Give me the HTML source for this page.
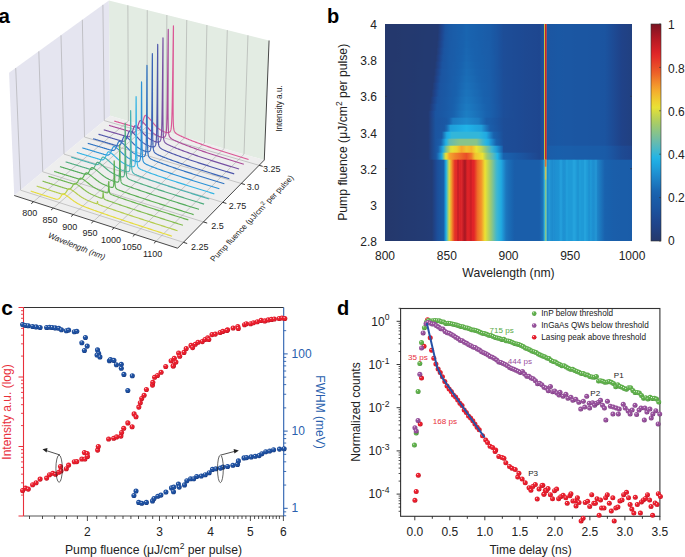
<!DOCTYPE html><html><head><meta charset="utf-8"><style>html,body{margin:0;padding:0;background:#fff;overflow:hidden;}svg{display:block}</style></head><body>
<svg width="685" height="557" viewBox="0 0 685 557"><defs><linearGradient id="g0" x1="0" x2="1" y1="0" y2="0"><stop offset="0.0000" stop-color="#24386c"/><stop offset="0.0227" stop-color="#24386d"/><stop offset="0.0455" stop-color="#24386d"/><stop offset="0.0682" stop-color="#24396e"/><stop offset="0.0909" stop-color="#24396f"/><stop offset="0.1136" stop-color="#24396f"/><stop offset="0.1364" stop-color="#233970"/><stop offset="0.1500" stop-color="#233a70"/><stop offset="0.1591" stop-color="#233a70"/><stop offset="0.1600" stop-color="#233a70"/><stop offset="0.1700" stop-color="#233a71"/><stop offset="0.1800" stop-color="#233a71"/><stop offset="0.1818" stop-color="#233a71"/><stop offset="0.1900" stop-color="#233a71"/><stop offset="0.2000" stop-color="#233a72"/><stop offset="0.2045" stop-color="#233a72"/><stop offset="0.2100" stop-color="#233a72"/><stop offset="0.2150" stop-color="#233a72"/><stop offset="0.2200" stop-color="#223e7b"/><stop offset="0.2273" stop-color="#204388"/><stop offset="0.2300" stop-color="#1f458d"/><stop offset="0.2400" stop-color="#1c4f9a"/><stop offset="0.2450" stop-color="#1b54a0"/><stop offset="0.2500" stop-color="#1b56a2"/><stop offset="0.2600" stop-color="#1a5aa6"/><stop offset="0.2700" stop-color="#1a5ba7"/><stop offset="0.2727" stop-color="#1a5ca8"/><stop offset="0.2800" stop-color="#1a5da9"/><stop offset="0.2900" stop-color="#1a5eaa"/><stop offset="0.2955" stop-color="#195fab"/><stop offset="0.3000" stop-color="#195fab"/><stop offset="0.3100" stop-color="#1960ac"/><stop offset="0.3182" stop-color="#1961ad"/><stop offset="0.3200" stop-color="#1962ae"/><stop offset="0.3300" stop-color="#1964b0"/><stop offset="0.3400" stop-color="#1963af"/><stop offset="0.3409" stop-color="#1962ae"/><stop offset="0.3500" stop-color="#1962ae"/><stop offset="0.3600" stop-color="#1961ad"/><stop offset="0.3636" stop-color="#1961ad"/><stop offset="0.3700" stop-color="#1960ac"/><stop offset="0.3800" stop-color="#195fab"/><stop offset="0.3864" stop-color="#195fab"/><stop offset="0.3900" stop-color="#195fab"/><stop offset="0.4000" stop-color="#1a5eaa"/><stop offset="0.4091" stop-color="#1a5da9"/><stop offset="0.4100" stop-color="#1a5da9"/><stop offset="0.4200" stop-color="#1a5ca8"/><stop offset="0.4250" stop-color="#1a5ca8"/><stop offset="0.4300" stop-color="#1a5ba7"/><stop offset="0.4318" stop-color="#1a5aa6"/><stop offset="0.4400" stop-color="#1a58a4"/><stop offset="0.4500" stop-color="#1b56a2"/><stop offset="0.4545" stop-color="#1b54a0"/><stop offset="0.4600" stop-color="#1b539f"/><stop offset="0.4700" stop-color="#1c509b"/><stop offset="0.4773" stop-color="#1d4e98"/><stop offset="0.4800" stop-color="#1d4d97"/><stop offset="0.4900" stop-color="#1d4d97"/><stop offset="0.5000" stop-color="#1d4c96"/><stop offset="0.5100" stop-color="#1d4c96"/><stop offset="0.5200" stop-color="#1d4b95"/><stop offset="0.5227" stop-color="#1d4b95"/><stop offset="0.5300" stop-color="#1d4b94"/><stop offset="0.5400" stop-color="#1d4a94"/><stop offset="0.5455" stop-color="#1d4a94"/><stop offset="0.5682" stop-color="#1e4992"/><stop offset="0.5909" stop-color="#1e4891"/><stop offset="0.6136" stop-color="#1e4790"/><stop offset="0.6250" stop-color="#1e468f"/><stop offset="0.6364" stop-color="#1d4e98"/><stop offset="0.6430" stop-color="#1c529d"/><stop offset="0.6465" stop-color="#ece232"/><stop offset="0.6495" stop-color="#c91e26"/><stop offset="0.6525" stop-color="#ea4e28"/><stop offset="0.6565" stop-color="#1b56a2"/><stop offset="0.6591" stop-color="#1b56a2"/><stop offset="0.6818" stop-color="#1b57a3"/><stop offset="0.7000" stop-color="#1a58a4"/><stop offset="0.7045" stop-color="#1a58a4"/><stop offset="0.7273" stop-color="#1b57a3"/><stop offset="0.7500" stop-color="#1b57a3"/><stop offset="0.7727" stop-color="#1b56a2"/><stop offset="0.7955" stop-color="#1b56a2"/><stop offset="0.8182" stop-color="#1b56a2"/><stop offset="0.8409" stop-color="#1b55a1"/><stop offset="0.8636" stop-color="#1b55a1"/><stop offset="0.8864" stop-color="#1b54a0"/><stop offset="0.8900" stop-color="#1b54a0"/><stop offset="0.9091" stop-color="#1c4f9a"/><stop offset="0.9318" stop-color="#1e4992"/><stop offset="0.9545" stop-color="#1f438a"/><stop offset="0.9600" stop-color="#204288"/><stop offset="0.9773" stop-color="#204185"/><stop offset="1.0000" stop-color="#214080"/></linearGradient><linearGradient id="g1" x1="0" x2="1" y1="0" y2="0"><stop offset="0.0000" stop-color="#24386c"/><stop offset="0.0227" stop-color="#24386d"/><stop offset="0.0455" stop-color="#24386d"/><stop offset="0.0682" stop-color="#24396e"/><stop offset="0.0909" stop-color="#24396f"/><stop offset="0.1136" stop-color="#24396f"/><stop offset="0.1364" stop-color="#233970"/><stop offset="0.1500" stop-color="#233a70"/><stop offset="0.1591" stop-color="#233a70"/><stop offset="0.1600" stop-color="#233a70"/><stop offset="0.1700" stop-color="#233a71"/><stop offset="0.1800" stop-color="#233a71"/><stop offset="0.1818" stop-color="#233a71"/><stop offset="0.1900" stop-color="#233a71"/><stop offset="0.2000" stop-color="#233a72"/><stop offset="0.2045" stop-color="#233a72"/><stop offset="0.2100" stop-color="#233a72"/><stop offset="0.2141" stop-color="#233a72"/><stop offset="0.2200" stop-color="#213e7d"/><stop offset="0.2273" stop-color="#1f438a"/><stop offset="0.2300" stop-color="#1f458e"/><stop offset="0.2400" stop-color="#1c509b"/><stop offset="0.2441" stop-color="#1b54a0"/><stop offset="0.2500" stop-color="#1b56a2"/><stop offset="0.2600" stop-color="#1a5aa6"/><stop offset="0.2700" stop-color="#1a5ba7"/><stop offset="0.2727" stop-color="#1a5ca8"/><stop offset="0.2800" stop-color="#1a5da9"/><stop offset="0.2900" stop-color="#1a5eaa"/><stop offset="0.2955" stop-color="#195fab"/><stop offset="0.3000" stop-color="#195fab"/><stop offset="0.3100" stop-color="#1960ac"/><stop offset="0.3182" stop-color="#1962ae"/><stop offset="0.3200" stop-color="#1962ae"/><stop offset="0.3300" stop-color="#1965b0"/><stop offset="0.3400" stop-color="#1963af"/><stop offset="0.3409" stop-color="#1963ae"/><stop offset="0.3500" stop-color="#1962ae"/><stop offset="0.3600" stop-color="#1961ad"/><stop offset="0.3636" stop-color="#1961ad"/><stop offset="0.3700" stop-color="#1960ac"/><stop offset="0.3800" stop-color="#195fab"/><stop offset="0.3864" stop-color="#195fab"/><stop offset="0.3900" stop-color="#195fab"/><stop offset="0.4000" stop-color="#1a5eaa"/><stop offset="0.4091" stop-color="#1a5da9"/><stop offset="0.4100" stop-color="#1a5da9"/><stop offset="0.4200" stop-color="#1a5ca8"/><stop offset="0.4250" stop-color="#1a5ca8"/><stop offset="0.4300" stop-color="#1a5ba7"/><stop offset="0.4318" stop-color="#1a5aa6"/><stop offset="0.4400" stop-color="#1a58a4"/><stop offset="0.4500" stop-color="#1b56a2"/><stop offset="0.4545" stop-color="#1b54a0"/><stop offset="0.4600" stop-color="#1b539f"/><stop offset="0.4700" stop-color="#1c509b"/><stop offset="0.4773" stop-color="#1d4e98"/><stop offset="0.4800" stop-color="#1d4d97"/><stop offset="0.4900" stop-color="#1d4d97"/><stop offset="0.5000" stop-color="#1d4c96"/><stop offset="0.5100" stop-color="#1d4c96"/><stop offset="0.5200" stop-color="#1d4b95"/><stop offset="0.5227" stop-color="#1d4b95"/><stop offset="0.5300" stop-color="#1d4b94"/><stop offset="0.5400" stop-color="#1d4a94"/><stop offset="0.5455" stop-color="#1d4a94"/><stop offset="0.5682" stop-color="#1e4992"/><stop offset="0.5909" stop-color="#1e4891"/><stop offset="0.6136" stop-color="#1e4790"/><stop offset="0.6250" stop-color="#1e468f"/><stop offset="0.6364" stop-color="#1d4e98"/><stop offset="0.6430" stop-color="#1c529d"/><stop offset="0.6465" stop-color="#ece232"/><stop offset="0.6495" stop-color="#c91e26"/><stop offset="0.6525" stop-color="#e94e28"/><stop offset="0.6565" stop-color="#1b56a2"/><stop offset="0.6591" stop-color="#1b56a2"/><stop offset="0.6818" stop-color="#1b57a3"/><stop offset="0.7000" stop-color="#1a58a4"/><stop offset="0.7045" stop-color="#1a58a4"/><stop offset="0.7273" stop-color="#1b57a3"/><stop offset="0.7500" stop-color="#1b57a3"/><stop offset="0.7727" stop-color="#1b56a2"/><stop offset="0.7955" stop-color="#1b56a2"/><stop offset="0.8182" stop-color="#1b56a2"/><stop offset="0.8409" stop-color="#1b55a1"/><stop offset="0.8636" stop-color="#1b55a1"/><stop offset="0.8864" stop-color="#1b54a0"/><stop offset="0.8900" stop-color="#1b54a0"/><stop offset="0.9091" stop-color="#1c4f9a"/><stop offset="0.9318" stop-color="#1e4992"/><stop offset="0.9545" stop-color="#1f438a"/><stop offset="0.9600" stop-color="#204288"/><stop offset="0.9773" stop-color="#204185"/><stop offset="1.0000" stop-color="#214080"/></linearGradient><linearGradient id="g2" x1="0" x2="1" y1="0" y2="0"><stop offset="0.0000" stop-color="#24386c"/><stop offset="0.0227" stop-color="#24386d"/><stop offset="0.0455" stop-color="#24386d"/><stop offset="0.0682" stop-color="#24396e"/><stop offset="0.0909" stop-color="#24396f"/><stop offset="0.1136" stop-color="#23396f"/><stop offset="0.1364" stop-color="#233970"/><stop offset="0.1500" stop-color="#233a70"/><stop offset="0.1591" stop-color="#233a70"/><stop offset="0.1600" stop-color="#233a71"/><stop offset="0.1700" stop-color="#233a71"/><stop offset="0.1800" stop-color="#233a71"/><stop offset="0.1818" stop-color="#233a71"/><stop offset="0.1900" stop-color="#233a71"/><stop offset="0.2000" stop-color="#233a72"/><stop offset="0.2045" stop-color="#233a72"/><stop offset="0.2100" stop-color="#233a72"/><stop offset="0.2126" stop-color="#233a72"/><stop offset="0.2200" stop-color="#213f7f"/><stop offset="0.2273" stop-color="#1f448c"/><stop offset="0.2300" stop-color="#1e4790"/><stop offset="0.2400" stop-color="#1c519d"/><stop offset="0.2426" stop-color="#1b54a0"/><stop offset="0.2500" stop-color="#1b57a3"/><stop offset="0.2600" stop-color="#1a5aa6"/><stop offset="0.2700" stop-color="#1a5ba7"/><stop offset="0.2727" stop-color="#1a5ca8"/><stop offset="0.2800" stop-color="#1a5da9"/><stop offset="0.2900" stop-color="#1a5eaa"/><stop offset="0.2955" stop-color="#195fab"/><stop offset="0.3000" stop-color="#195fab"/><stop offset="0.3100" stop-color="#1961ad"/><stop offset="0.3182" stop-color="#1962ae"/><stop offset="0.3200" stop-color="#1962ae"/><stop offset="0.3300" stop-color="#1965b0"/><stop offset="0.3400" stop-color="#1963af"/><stop offset="0.3409" stop-color="#1963af"/><stop offset="0.3500" stop-color="#1962ae"/><stop offset="0.3600" stop-color="#1961ad"/><stop offset="0.3636" stop-color="#1961ad"/><stop offset="0.3700" stop-color="#1960ac"/><stop offset="0.3800" stop-color="#195fab"/><stop offset="0.3864" stop-color="#195fab"/><stop offset="0.3900" stop-color="#195fab"/><stop offset="0.4000" stop-color="#1a5eaa"/><stop offset="0.4091" stop-color="#1a5da9"/><stop offset="0.4100" stop-color="#1a5da9"/><stop offset="0.4200" stop-color="#1a5ca8"/><stop offset="0.4250" stop-color="#1a5ca8"/><stop offset="0.4300" stop-color="#1a5ba7"/><stop offset="0.4318" stop-color="#1a5aa6"/><stop offset="0.4400" stop-color="#1a58a4"/><stop offset="0.4500" stop-color="#1b56a2"/><stop offset="0.4545" stop-color="#1b55a1"/><stop offset="0.4600" stop-color="#1b539f"/><stop offset="0.4700" stop-color="#1c509b"/><stop offset="0.4773" stop-color="#1d4e98"/><stop offset="0.4800" stop-color="#1d4d97"/><stop offset="0.4900" stop-color="#1d4d97"/><stop offset="0.5000" stop-color="#1d4c96"/><stop offset="0.5100" stop-color="#1d4c96"/><stop offset="0.5200" stop-color="#1d4b95"/><stop offset="0.5227" stop-color="#1d4b95"/><stop offset="0.5300" stop-color="#1d4b94"/><stop offset="0.5400" stop-color="#1d4a94"/><stop offset="0.5455" stop-color="#1d4a94"/><stop offset="0.5682" stop-color="#1e4992"/><stop offset="0.5909" stop-color="#1e4891"/><stop offset="0.6136" stop-color="#1e4790"/><stop offset="0.6250" stop-color="#1e468f"/><stop offset="0.6364" stop-color="#1d4e98"/><stop offset="0.6430" stop-color="#1c529d"/><stop offset="0.6465" stop-color="#ece232"/><stop offset="0.6495" stop-color="#c91e26"/><stop offset="0.6525" stop-color="#e94e28"/><stop offset="0.6565" stop-color="#1b56a2"/><stop offset="0.6591" stop-color="#1b56a2"/><stop offset="0.6818" stop-color="#1b57a3"/><stop offset="0.7000" stop-color="#1a58a4"/><stop offset="0.7045" stop-color="#1a58a4"/><stop offset="0.7273" stop-color="#1b57a3"/><stop offset="0.7500" stop-color="#1b57a3"/><stop offset="0.7727" stop-color="#1b56a2"/><stop offset="0.7955" stop-color="#1b56a2"/><stop offset="0.8182" stop-color="#1b56a2"/><stop offset="0.8409" stop-color="#1b55a1"/><stop offset="0.8636" stop-color="#1b55a1"/><stop offset="0.8864" stop-color="#1b54a0"/><stop offset="0.8900" stop-color="#1b54a0"/><stop offset="0.9091" stop-color="#1c4f9a"/><stop offset="0.9318" stop-color="#1e4992"/><stop offset="0.9545" stop-color="#1f438a"/><stop offset="0.9600" stop-color="#204288"/><stop offset="0.9773" stop-color="#204185"/><stop offset="1.0000" stop-color="#214080"/></linearGradient><linearGradient id="g3" x1="0" x2="1" y1="0" y2="0"><stop offset="0.0000" stop-color="#24386c"/><stop offset="0.0227" stop-color="#24386d"/><stop offset="0.0455" stop-color="#24386d"/><stop offset="0.0682" stop-color="#24396e"/><stop offset="0.0909" stop-color="#24396f"/><stop offset="0.1136" stop-color="#23396f"/><stop offset="0.1364" stop-color="#233970"/><stop offset="0.1500" stop-color="#233a70"/><stop offset="0.1591" stop-color="#233a71"/><stop offset="0.1600" stop-color="#233a71"/><stop offset="0.1700" stop-color="#233a71"/><stop offset="0.1800" stop-color="#233a71"/><stop offset="0.1818" stop-color="#233a71"/><stop offset="0.1900" stop-color="#233a71"/><stop offset="0.2000" stop-color="#233a72"/><stop offset="0.2045" stop-color="#233a72"/><stop offset="0.2100" stop-color="#233a72"/><stop offset="0.2106" stop-color="#233a72"/><stop offset="0.2200" stop-color="#204183"/><stop offset="0.2273" stop-color="#1e468f"/><stop offset="0.2300" stop-color="#1e4993"/><stop offset="0.2400" stop-color="#1b549f"/><stop offset="0.2406" stop-color="#1b54a0"/><stop offset="0.2500" stop-color="#1b57a3"/><stop offset="0.2600" stop-color="#1a5aa6"/><stop offset="0.2700" stop-color="#1a5ca8"/><stop offset="0.2727" stop-color="#1a5ca8"/><stop offset="0.2800" stop-color="#1a5da9"/><stop offset="0.2900" stop-color="#1a5eaa"/><stop offset="0.2955" stop-color="#195fab"/><stop offset="0.3000" stop-color="#1960ac"/><stop offset="0.3100" stop-color="#1961ad"/><stop offset="0.3182" stop-color="#1962ae"/><stop offset="0.3200" stop-color="#1963ae"/><stop offset="0.3300" stop-color="#1966b1"/><stop offset="0.3400" stop-color="#1964b0"/><stop offset="0.3409" stop-color="#1964af"/><stop offset="0.3500" stop-color="#1962ae"/><stop offset="0.3600" stop-color="#1961ad"/><stop offset="0.3636" stop-color="#1961ad"/><stop offset="0.3700" stop-color="#1961ad"/><stop offset="0.3800" stop-color="#1960ac"/><stop offset="0.3864" stop-color="#195fab"/><stop offset="0.3900" stop-color="#195fab"/><stop offset="0.4000" stop-color="#1a5eaa"/><stop offset="0.4091" stop-color="#1a5da9"/><stop offset="0.4100" stop-color="#1a5da9"/><stop offset="0.4200" stop-color="#1a5da9"/><stop offset="0.4250" stop-color="#1a5ca8"/><stop offset="0.4300" stop-color="#1a5ba7"/><stop offset="0.4318" stop-color="#1a5aa6"/><stop offset="0.4400" stop-color="#1a58a4"/><stop offset="0.4500" stop-color="#1b56a2"/><stop offset="0.4545" stop-color="#1b55a1"/><stop offset="0.4600" stop-color="#1b539f"/><stop offset="0.4700" stop-color="#1c509b"/><stop offset="0.4773" stop-color="#1c4e99"/><stop offset="0.4800" stop-color="#1d4d98"/><stop offset="0.4900" stop-color="#1d4d97"/><stop offset="0.5000" stop-color="#1d4c96"/><stop offset="0.5100" stop-color="#1d4c96"/><stop offset="0.5200" stop-color="#1d4b95"/><stop offset="0.5227" stop-color="#1d4b95"/><stop offset="0.5300" stop-color="#1d4b94"/><stop offset="0.5400" stop-color="#1d4a94"/><stop offset="0.5455" stop-color="#1d4a94"/><stop offset="0.5682" stop-color="#1e4992"/><stop offset="0.5909" stop-color="#1e4891"/><stop offset="0.6136" stop-color="#1e4790"/><stop offset="0.6250" stop-color="#1e468f"/><stop offset="0.6364" stop-color="#1d4e98"/><stop offset="0.6430" stop-color="#1c529d"/><stop offset="0.6465" stop-color="#ece232"/><stop offset="0.6495" stop-color="#c91e26"/><stop offset="0.6525" stop-color="#e94e28"/><stop offset="0.6565" stop-color="#1b56a2"/><stop offset="0.6591" stop-color="#1b56a2"/><stop offset="0.6818" stop-color="#1b57a3"/><stop offset="0.7000" stop-color="#1a58a4"/><stop offset="0.7045" stop-color="#1a58a4"/><stop offset="0.7273" stop-color="#1b57a3"/><stop offset="0.7500" stop-color="#1b57a3"/><stop offset="0.7727" stop-color="#1b56a2"/><stop offset="0.7955" stop-color="#1b56a2"/><stop offset="0.8182" stop-color="#1b56a2"/><stop offset="0.8409" stop-color="#1b55a1"/><stop offset="0.8636" stop-color="#1b55a1"/><stop offset="0.8864" stop-color="#1b54a0"/><stop offset="0.8900" stop-color="#1b54a0"/><stop offset="0.9091" stop-color="#1c4f9a"/><stop offset="0.9318" stop-color="#1e4992"/><stop offset="0.9545" stop-color="#1f438a"/><stop offset="0.9600" stop-color="#204288"/><stop offset="0.9773" stop-color="#204185"/><stop offset="1.0000" stop-color="#214080"/></linearGradient><linearGradient id="g4" x1="0" x2="1" y1="0" y2="0"><stop offset="0.0000" stop-color="#24386c"/><stop offset="0.0227" stop-color="#24386d"/><stop offset="0.0455" stop-color="#24386d"/><stop offset="0.0682" stop-color="#24396e"/><stop offset="0.0909" stop-color="#24396f"/><stop offset="0.1136" stop-color="#23396f"/><stop offset="0.1364" stop-color="#233970"/><stop offset="0.1500" stop-color="#233a70"/><stop offset="0.1591" stop-color="#233a71"/><stop offset="0.1600" stop-color="#233a71"/><stop offset="0.1700" stop-color="#233a71"/><stop offset="0.1800" stop-color="#233a71"/><stop offset="0.1818" stop-color="#233a71"/><stop offset="0.1900" stop-color="#233a72"/><stop offset="0.2000" stop-color="#233a72"/><stop offset="0.2045" stop-color="#233a72"/><stop offset="0.2082" stop-color="#233a72"/><stop offset="0.2100" stop-color="#233c75"/><stop offset="0.2200" stop-color="#204287"/><stop offset="0.2273" stop-color="#1e4992"/><stop offset="0.2300" stop-color="#1d4c96"/><stop offset="0.2382" stop-color="#1b54a0"/><stop offset="0.2400" stop-color="#1b55a1"/><stop offset="0.2500" stop-color="#1a58a4"/><stop offset="0.2600" stop-color="#1a5aa6"/><stop offset="0.2700" stop-color="#1a5ca8"/><stop offset="0.2727" stop-color="#1a5ca8"/><stop offset="0.2800" stop-color="#1a5da9"/><stop offset="0.2900" stop-color="#195fab"/><stop offset="0.2955" stop-color="#195fab"/><stop offset="0.3000" stop-color="#1960ac"/><stop offset="0.3100" stop-color="#1961ad"/><stop offset="0.3182" stop-color="#1963af"/><stop offset="0.3200" stop-color="#1964af"/><stop offset="0.3300" stop-color="#1a67b2"/><stop offset="0.3400" stop-color="#1965b0"/><stop offset="0.3409" stop-color="#1965b0"/><stop offset="0.3500" stop-color="#1963af"/><stop offset="0.3600" stop-color="#1962ae"/><stop offset="0.3636" stop-color="#1961ad"/><stop offset="0.3700" stop-color="#1961ad"/><stop offset="0.3800" stop-color="#1960ac"/><stop offset="0.3864" stop-color="#1960ac"/><stop offset="0.3900" stop-color="#195fab"/><stop offset="0.4000" stop-color="#1a5eaa"/><stop offset="0.4091" stop-color="#1a5eaa"/><stop offset="0.4100" stop-color="#1a5eaa"/><stop offset="0.4200" stop-color="#1a5da9"/><stop offset="0.4250" stop-color="#1a5ca8"/><stop offset="0.4300" stop-color="#1a5ba7"/><stop offset="0.4318" stop-color="#1a5ba7"/><stop offset="0.4400" stop-color="#1a58a4"/><stop offset="0.4500" stop-color="#1b56a2"/><stop offset="0.4545" stop-color="#1b55a1"/><stop offset="0.4600" stop-color="#1b539f"/><stop offset="0.4700" stop-color="#1c509b"/><stop offset="0.4773" stop-color="#1c4e99"/><stop offset="0.4800" stop-color="#1d4d98"/><stop offset="0.4900" stop-color="#1d4d97"/><stop offset="0.5000" stop-color="#1d4c96"/><stop offset="0.5100" stop-color="#1d4c96"/><stop offset="0.5200" stop-color="#1d4b95"/><stop offset="0.5227" stop-color="#1d4b95"/><stop offset="0.5300" stop-color="#1d4b94"/><stop offset="0.5400" stop-color="#1d4a94"/><stop offset="0.5455" stop-color="#1d4a94"/><stop offset="0.5682" stop-color="#1e4992"/><stop offset="0.5909" stop-color="#1e4891"/><stop offset="0.6136" stop-color="#1e4790"/><stop offset="0.6250" stop-color="#1e468f"/><stop offset="0.6364" stop-color="#1d4e98"/><stop offset="0.6430" stop-color="#1c529d"/><stop offset="0.6465" stop-color="#ece232"/><stop offset="0.6495" stop-color="#c91e26"/><stop offset="0.6525" stop-color="#e94e28"/><stop offset="0.6565" stop-color="#1b56a2"/><stop offset="0.6591" stop-color="#1b56a2"/><stop offset="0.6818" stop-color="#1b57a3"/><stop offset="0.7000" stop-color="#1a58a4"/><stop offset="0.7045" stop-color="#1a58a4"/><stop offset="0.7273" stop-color="#1b57a3"/><stop offset="0.7500" stop-color="#1b57a3"/><stop offset="0.7727" stop-color="#1b56a2"/><stop offset="0.7955" stop-color="#1b56a2"/><stop offset="0.8182" stop-color="#1b56a2"/><stop offset="0.8409" stop-color="#1b55a1"/><stop offset="0.8636" stop-color="#1b55a1"/><stop offset="0.8864" stop-color="#1b54a0"/><stop offset="0.8900" stop-color="#1b54a0"/><stop offset="0.9091" stop-color="#1c4f9a"/><stop offset="0.9318" stop-color="#1e4992"/><stop offset="0.9545" stop-color="#1f438a"/><stop offset="0.9600" stop-color="#204288"/><stop offset="0.9773" stop-color="#204185"/><stop offset="1.0000" stop-color="#214080"/></linearGradient><linearGradient id="g5" x1="0" x2="1" y1="0" y2="0"><stop offset="0.0000" stop-color="#24386c"/><stop offset="0.0227" stop-color="#24386d"/><stop offset="0.0455" stop-color="#24386d"/><stop offset="0.0682" stop-color="#24396e"/><stop offset="0.0909" stop-color="#24396f"/><stop offset="0.1136" stop-color="#23396f"/><stop offset="0.1364" stop-color="#233970"/><stop offset="0.1500" stop-color="#233a70"/><stop offset="0.1591" stop-color="#233a71"/><stop offset="0.1600" stop-color="#233a71"/><stop offset="0.1700" stop-color="#233a71"/><stop offset="0.1800" stop-color="#233a71"/><stop offset="0.1818" stop-color="#233a71"/><stop offset="0.1900" stop-color="#233a72"/><stop offset="0.2000" stop-color="#233a72"/><stop offset="0.2045" stop-color="#233a72"/><stop offset="0.2055" stop-color="#233a72"/><stop offset="0.2100" stop-color="#223d7a"/><stop offset="0.2200" stop-color="#1f448c"/><stop offset="0.2273" stop-color="#1d4c96"/><stop offset="0.2300" stop-color="#1c4f99"/><stop offset="0.2355" stop-color="#1b54a0"/><stop offset="0.2400" stop-color="#1b55a1"/><stop offset="0.2500" stop-color="#1a58a4"/><stop offset="0.2600" stop-color="#1a5ba7"/><stop offset="0.2700" stop-color="#1a5ca8"/><stop offset="0.2727" stop-color="#1a5ca8"/><stop offset="0.2800" stop-color="#1a5da9"/><stop offset="0.2900" stop-color="#195fab"/><stop offset="0.2955" stop-color="#1960ac"/><stop offset="0.3000" stop-color="#1960ac"/><stop offset="0.3100" stop-color="#1962ae"/><stop offset="0.3182" stop-color="#1964b0"/><stop offset="0.3200" stop-color="#1965b0"/><stop offset="0.3300" stop-color="#1a68b3"/><stop offset="0.3400" stop-color="#1a66b1"/><stop offset="0.3409" stop-color="#1a66b1"/><stop offset="0.3500" stop-color="#1964b0"/><stop offset="0.3600" stop-color="#1962ae"/><stop offset="0.3636" stop-color="#1962ae"/><stop offset="0.3700" stop-color="#1961ad"/><stop offset="0.3800" stop-color="#1960ac"/><stop offset="0.3864" stop-color="#1960ac"/><stop offset="0.3900" stop-color="#1960ac"/><stop offset="0.4000" stop-color="#195fab"/><stop offset="0.4091" stop-color="#1a5eaa"/><stop offset="0.4100" stop-color="#1a5eaa"/><stop offset="0.4200" stop-color="#1a5da9"/><stop offset="0.4250" stop-color="#1a5da9"/><stop offset="0.4300" stop-color="#1a5ba7"/><stop offset="0.4318" stop-color="#1a5ba7"/><stop offset="0.4400" stop-color="#1a59a5"/><stop offset="0.4500" stop-color="#1b56a2"/><stop offset="0.4545" stop-color="#1b55a1"/><stop offset="0.4600" stop-color="#1b539f"/><stop offset="0.4700" stop-color="#1c509b"/><stop offset="0.4773" stop-color="#1c4e99"/><stop offset="0.4800" stop-color="#1d4d98"/><stop offset="0.4900" stop-color="#1d4d97"/><stop offset="0.5000" stop-color="#1d4c96"/><stop offset="0.5100" stop-color="#1d4c96"/><stop offset="0.5200" stop-color="#1d4b95"/><stop offset="0.5227" stop-color="#1d4b95"/><stop offset="0.5300" stop-color="#1d4b95"/><stop offset="0.5400" stop-color="#1d4a94"/><stop offset="0.5455" stop-color="#1d4a94"/><stop offset="0.5682" stop-color="#1e4992"/><stop offset="0.5909" stop-color="#1e4891"/><stop offset="0.6136" stop-color="#1e4790"/><stop offset="0.6250" stop-color="#1e468f"/><stop offset="0.6364" stop-color="#1d4e98"/><stop offset="0.6430" stop-color="#1c529d"/><stop offset="0.6465" stop-color="#ece232"/><stop offset="0.6495" stop-color="#c91e26"/><stop offset="0.6525" stop-color="#e94e28"/><stop offset="0.6565" stop-color="#1b56a2"/><stop offset="0.6591" stop-color="#1b56a2"/><stop offset="0.6818" stop-color="#1b57a3"/><stop offset="0.7000" stop-color="#1a58a4"/><stop offset="0.7045" stop-color="#1a58a4"/><stop offset="0.7273" stop-color="#1b57a3"/><stop offset="0.7500" stop-color="#1b57a3"/><stop offset="0.7727" stop-color="#1b56a2"/><stop offset="0.7955" stop-color="#1b56a2"/><stop offset="0.8182" stop-color="#1b56a2"/><stop offset="0.8409" stop-color="#1b55a1"/><stop offset="0.8636" stop-color="#1b55a1"/><stop offset="0.8864" stop-color="#1b54a0"/><stop offset="0.8900" stop-color="#1b54a0"/><stop offset="0.9091" stop-color="#1c4f9a"/><stop offset="0.9318" stop-color="#1e4992"/><stop offset="0.9545" stop-color="#1f438a"/><stop offset="0.9600" stop-color="#204288"/><stop offset="0.9773" stop-color="#204185"/><stop offset="1.0000" stop-color="#214080"/></linearGradient><linearGradient id="g6" x1="0" x2="1" y1="0" y2="0"><stop offset="0.0000" stop-color="#24386c"/><stop offset="0.0227" stop-color="#24386d"/><stop offset="0.0455" stop-color="#24396d"/><stop offset="0.0682" stop-color="#24396e"/><stop offset="0.0909" stop-color="#24396f"/><stop offset="0.1136" stop-color="#23396f"/><stop offset="0.1364" stop-color="#233a70"/><stop offset="0.1500" stop-color="#233a70"/><stop offset="0.1591" stop-color="#233a71"/><stop offset="0.1600" stop-color="#233a71"/><stop offset="0.1700" stop-color="#233a71"/><stop offset="0.1800" stop-color="#233a71"/><stop offset="0.1818" stop-color="#233a71"/><stop offset="0.1900" stop-color="#233a72"/><stop offset="0.2000" stop-color="#233a72"/><stop offset="0.2025" stop-color="#233a72"/><stop offset="0.2045" stop-color="#223c76"/><stop offset="0.2100" stop-color="#213f80"/><stop offset="0.2200" stop-color="#1e4790"/><stop offset="0.2273" stop-color="#1c4f9a"/><stop offset="0.2300" stop-color="#1c529d"/><stop offset="0.2325" stop-color="#1b54a0"/><stop offset="0.2400" stop-color="#1b56a2"/><stop offset="0.2500" stop-color="#1a58a4"/><stop offset="0.2600" stop-color="#1a5ba7"/><stop offset="0.2700" stop-color="#1a5ca8"/><stop offset="0.2727" stop-color="#1a5da9"/><stop offset="0.2800" stop-color="#1a5eaa"/><stop offset="0.2900" stop-color="#195fab"/><stop offset="0.2955" stop-color="#1960ac"/><stop offset="0.3000" stop-color="#1961ad"/><stop offset="0.3100" stop-color="#1963af"/><stop offset="0.3182" stop-color="#1966b1"/><stop offset="0.3200" stop-color="#1a67b1"/><stop offset="0.3300" stop-color="#1a6ab4"/><stop offset="0.3400" stop-color="#1a68b3"/><stop offset="0.3409" stop-color="#1a68b2"/><stop offset="0.3500" stop-color="#1966b1"/><stop offset="0.3600" stop-color="#1964af"/><stop offset="0.3636" stop-color="#1963af"/><stop offset="0.3700" stop-color="#1962ae"/><stop offset="0.3800" stop-color="#1961ad"/><stop offset="0.3864" stop-color="#1960ac"/><stop offset="0.3900" stop-color="#1960ac"/><stop offset="0.4000" stop-color="#195fab"/><stop offset="0.4091" stop-color="#1a5eaa"/><stop offset="0.4100" stop-color="#1a5eaa"/><stop offset="0.4200" stop-color="#1a5da9"/><stop offset="0.4250" stop-color="#1a5da9"/><stop offset="0.4300" stop-color="#1a5ba7"/><stop offset="0.4318" stop-color="#1a5ba7"/><stop offset="0.4400" stop-color="#1a59a5"/><stop offset="0.4500" stop-color="#1b56a2"/><stop offset="0.4545" stop-color="#1b55a1"/><stop offset="0.4600" stop-color="#1b539f"/><stop offset="0.4700" stop-color="#1c509b"/><stop offset="0.4773" stop-color="#1c4e99"/><stop offset="0.4800" stop-color="#1d4d98"/><stop offset="0.4900" stop-color="#1d4d97"/><stop offset="0.5000" stop-color="#1d4c96"/><stop offset="0.5100" stop-color="#1d4c96"/><stop offset="0.5200" stop-color="#1d4b95"/><stop offset="0.5227" stop-color="#1d4b95"/><stop offset="0.5300" stop-color="#1d4b95"/><stop offset="0.5400" stop-color="#1d4a94"/><stop offset="0.5455" stop-color="#1d4a94"/><stop offset="0.5682" stop-color="#1e4992"/><stop offset="0.5909" stop-color="#1e4891"/><stop offset="0.6136" stop-color="#1e4790"/><stop offset="0.6250" stop-color="#1e468f"/><stop offset="0.6364" stop-color="#1d4e98"/><stop offset="0.6430" stop-color="#1c529d"/><stop offset="0.6465" stop-color="#ece232"/><stop offset="0.6495" stop-color="#c91e26"/><stop offset="0.6525" stop-color="#e94e28"/><stop offset="0.6565" stop-color="#1b56a2"/><stop offset="0.6591" stop-color="#1b56a2"/><stop offset="0.6818" stop-color="#1b57a3"/><stop offset="0.7000" stop-color="#1a58a4"/><stop offset="0.7045" stop-color="#1a58a4"/><stop offset="0.7273" stop-color="#1b57a3"/><stop offset="0.7500" stop-color="#1b57a3"/><stop offset="0.7727" stop-color="#1b56a2"/><stop offset="0.7955" stop-color="#1b56a2"/><stop offset="0.8182" stop-color="#1b56a2"/><stop offset="0.8409" stop-color="#1b55a1"/><stop offset="0.8636" stop-color="#1b55a1"/><stop offset="0.8864" stop-color="#1b54a0"/><stop offset="0.8900" stop-color="#1b54a0"/><stop offset="0.9091" stop-color="#1c4f9a"/><stop offset="0.9318" stop-color="#1e4992"/><stop offset="0.9545" stop-color="#1f438a"/><stop offset="0.9600" stop-color="#204288"/><stop offset="0.9773" stop-color="#204185"/><stop offset="1.0000" stop-color="#214080"/></linearGradient><linearGradient id="g7" x1="0" x2="1" y1="0" y2="0"><stop offset="0.0000" stop-color="#24386c"/><stop offset="0.0227" stop-color="#24386d"/><stop offset="0.0455" stop-color="#24396d"/><stop offset="0.0682" stop-color="#24396e"/><stop offset="0.0909" stop-color="#24396f"/><stop offset="0.1136" stop-color="#23396f"/><stop offset="0.1364" stop-color="#233a70"/><stop offset="0.1500" stop-color="#233a71"/><stop offset="0.1591" stop-color="#233a71"/><stop offset="0.1600" stop-color="#233a71"/><stop offset="0.1700" stop-color="#233a71"/><stop offset="0.1800" stop-color="#233a71"/><stop offset="0.1818" stop-color="#233a72"/><stop offset="0.1900" stop-color="#233a72"/><stop offset="0.1992" stop-color="#233a72"/><stop offset="0.2000" stop-color="#233b74"/><stop offset="0.2045" stop-color="#223e7c"/><stop offset="0.2100" stop-color="#204286"/><stop offset="0.2200" stop-color="#1d4b95"/><stop offset="0.2273" stop-color="#1b529e"/><stop offset="0.2292" stop-color="#1b54a0"/><stop offset="0.2300" stop-color="#1b55a1"/><stop offset="0.2400" stop-color="#1b57a3"/><stop offset="0.2500" stop-color="#1a59a5"/><stop offset="0.2600" stop-color="#1a5ba7"/><stop offset="0.2700" stop-color="#1a5da9"/><stop offset="0.2727" stop-color="#1a5da9"/><stop offset="0.2800" stop-color="#1a5eaa"/><stop offset="0.2900" stop-color="#1960ac"/><stop offset="0.2955" stop-color="#1961ad"/><stop offset="0.3000" stop-color="#1962ae"/><stop offset="0.3100" stop-color="#1965b0"/><stop offset="0.3182" stop-color="#1a68b2"/><stop offset="0.3200" stop-color="#1a68b3"/><stop offset="0.3300" stop-color="#1a6cb6"/><stop offset="0.3400" stop-color="#1a6ab4"/><stop offset="0.3409" stop-color="#1a6ab4"/><stop offset="0.3500" stop-color="#1a68b2"/><stop offset="0.3600" stop-color="#1966b1"/><stop offset="0.3636" stop-color="#1965b0"/><stop offset="0.3700" stop-color="#1963af"/><stop offset="0.3800" stop-color="#1962ae"/><stop offset="0.3864" stop-color="#1961ad"/><stop offset="0.3900" stop-color="#1961ad"/><stop offset="0.4000" stop-color="#1960ac"/><stop offset="0.4091" stop-color="#195fab"/><stop offset="0.4100" stop-color="#195fab"/><stop offset="0.4200" stop-color="#1a5eaa"/><stop offset="0.4250" stop-color="#1a5da9"/><stop offset="0.4300" stop-color="#1a5ca8"/><stop offset="0.4318" stop-color="#1a5ba7"/><stop offset="0.4400" stop-color="#1a59a5"/><stop offset="0.4500" stop-color="#1b56a2"/><stop offset="0.4545" stop-color="#1b55a1"/><stop offset="0.4600" stop-color="#1b549f"/><stop offset="0.4700" stop-color="#1c519c"/><stop offset="0.4773" stop-color="#1c4e99"/><stop offset="0.4800" stop-color="#1d4d98"/><stop offset="0.4900" stop-color="#1d4d97"/><stop offset="0.5000" stop-color="#1d4c96"/><stop offset="0.5100" stop-color="#1d4c96"/><stop offset="0.5200" stop-color="#1d4b95"/><stop offset="0.5227" stop-color="#1d4b95"/><stop offset="0.5300" stop-color="#1d4b95"/><stop offset="0.5400" stop-color="#1d4a94"/><stop offset="0.5455" stop-color="#1d4a94"/><stop offset="0.5682" stop-color="#1e4992"/><stop offset="0.5909" stop-color="#1e4891"/><stop offset="0.6136" stop-color="#1e4790"/><stop offset="0.6250" stop-color="#1e468f"/><stop offset="0.6364" stop-color="#1d4e98"/><stop offset="0.6430" stop-color="#1c529d"/><stop offset="0.6465" stop-color="#ece232"/><stop offset="0.6495" stop-color="#c91e26"/><stop offset="0.6525" stop-color="#e94e28"/><stop offset="0.6565" stop-color="#1b56a2"/><stop offset="0.6591" stop-color="#1b56a2"/><stop offset="0.6818" stop-color="#1b57a3"/><stop offset="0.7000" stop-color="#1a58a4"/><stop offset="0.7045" stop-color="#1a58a4"/><stop offset="0.7273" stop-color="#1b57a3"/><stop offset="0.7500" stop-color="#1b57a3"/><stop offset="0.7727" stop-color="#1b56a2"/><stop offset="0.7955" stop-color="#1b56a2"/><stop offset="0.8182" stop-color="#1b56a2"/><stop offset="0.8409" stop-color="#1b55a1"/><stop offset="0.8636" stop-color="#1b55a1"/><stop offset="0.8864" stop-color="#1b54a0"/><stop offset="0.8900" stop-color="#1b54a0"/><stop offset="0.9091" stop-color="#1c4f9a"/><stop offset="0.9318" stop-color="#1e4992"/><stop offset="0.9545" stop-color="#1f438a"/><stop offset="0.9600" stop-color="#204288"/><stop offset="0.9773" stop-color="#204185"/><stop offset="1.0000" stop-color="#214080"/></linearGradient><linearGradient id="g8" x1="0" x2="1" y1="0" y2="0"><stop offset="0.0000" stop-color="#24386c"/><stop offset="0.0227" stop-color="#24386d"/><stop offset="0.0455" stop-color="#24396d"/><stop offset="0.0682" stop-color="#24396e"/><stop offset="0.0909" stop-color="#24396f"/><stop offset="0.1136" stop-color="#23396f"/><stop offset="0.1364" stop-color="#233a70"/><stop offset="0.1500" stop-color="#233a71"/><stop offset="0.1591" stop-color="#233a71"/><stop offset="0.1600" stop-color="#233a71"/><stop offset="0.1700" stop-color="#233a71"/><stop offset="0.1800" stop-color="#233a72"/><stop offset="0.1818" stop-color="#233a72"/><stop offset="0.1900" stop-color="#233a72"/><stop offset="0.1957" stop-color="#233a72"/><stop offset="0.2000" stop-color="#223d7a"/><stop offset="0.2045" stop-color="#214082"/><stop offset="0.2100" stop-color="#1f448c"/><stop offset="0.2200" stop-color="#1c4f99"/><stop offset="0.2257" stop-color="#1b54a0"/><stop offset="0.2273" stop-color="#1b55a1"/><stop offset="0.2300" stop-color="#1b55a1"/><stop offset="0.2400" stop-color="#1b57a3"/><stop offset="0.2500" stop-color="#1a59a5"/><stop offset="0.2600" stop-color="#1a5ba7"/><stop offset="0.2700" stop-color="#1a5da9"/><stop offset="0.2727" stop-color="#1a5eaa"/><stop offset="0.2800" stop-color="#195fab"/><stop offset="0.2900" stop-color="#1961ad"/><stop offset="0.2955" stop-color="#1962ae"/><stop offset="0.3000" stop-color="#1963af"/><stop offset="0.3100" stop-color="#1a67b2"/><stop offset="0.3182" stop-color="#1a6ab4"/><stop offset="0.3200" stop-color="#1a6bb5"/><stop offset="0.3300" stop-color="#1a6eb7"/><stop offset="0.3400" stop-color="#1a6cb6"/><stop offset="0.3409" stop-color="#1a6cb6"/><stop offset="0.3500" stop-color="#1a6ab4"/><stop offset="0.3600" stop-color="#1a68b2"/><stop offset="0.3636" stop-color="#1a67b2"/><stop offset="0.3700" stop-color="#1965b0"/><stop offset="0.3800" stop-color="#1963ae"/><stop offset="0.3864" stop-color="#1962ae"/><stop offset="0.3900" stop-color="#1961ad"/><stop offset="0.4000" stop-color="#1960ac"/><stop offset="0.4091" stop-color="#195fab"/><stop offset="0.4100" stop-color="#195fab"/><stop offset="0.4200" stop-color="#1a5eaa"/><stop offset="0.4250" stop-color="#1a5eaa"/><stop offset="0.4300" stop-color="#1a5ca8"/><stop offset="0.4318" stop-color="#1a5ca8"/><stop offset="0.4400" stop-color="#1a59a5"/><stop offset="0.4500" stop-color="#1b57a3"/><stop offset="0.4545" stop-color="#1b55a1"/><stop offset="0.4600" stop-color="#1b54a0"/><stop offset="0.4700" stop-color="#1c519c"/><stop offset="0.4773" stop-color="#1c4e99"/><stop offset="0.4800" stop-color="#1d4e98"/><stop offset="0.4900" stop-color="#1d4d97"/><stop offset="0.5000" stop-color="#1d4c97"/><stop offset="0.5100" stop-color="#1d4c96"/><stop offset="0.5200" stop-color="#1d4b95"/><stop offset="0.5227" stop-color="#1d4b95"/><stop offset="0.5300" stop-color="#1d4b95"/><stop offset="0.5400" stop-color="#1d4a94"/><stop offset="0.5455" stop-color="#1d4a94"/><stop offset="0.5682" stop-color="#1e4992"/><stop offset="0.5909" stop-color="#1e4891"/><stop offset="0.6136" stop-color="#1e4790"/><stop offset="0.6250" stop-color="#1e468f"/><stop offset="0.6364" stop-color="#1d4e98"/><stop offset="0.6430" stop-color="#1c529d"/><stop offset="0.6465" stop-color="#ece232"/><stop offset="0.6495" stop-color="#c91e26"/><stop offset="0.6525" stop-color="#e94e28"/><stop offset="0.6565" stop-color="#1b56a2"/><stop offset="0.6591" stop-color="#1b56a2"/><stop offset="0.6818" stop-color="#1b57a3"/><stop offset="0.7000" stop-color="#1a58a4"/><stop offset="0.7045" stop-color="#1a58a4"/><stop offset="0.7273" stop-color="#1b57a3"/><stop offset="0.7500" stop-color="#1b57a3"/><stop offset="0.7727" stop-color="#1b56a2"/><stop offset="0.7955" stop-color="#1b56a2"/><stop offset="0.8182" stop-color="#1b56a2"/><stop offset="0.8409" stop-color="#1b55a1"/><stop offset="0.8636" stop-color="#1b55a1"/><stop offset="0.8864" stop-color="#1b54a0"/><stop offset="0.8900" stop-color="#1b54a0"/><stop offset="0.9091" stop-color="#1c4f9a"/><stop offset="0.9318" stop-color="#1e4992"/><stop offset="0.9545" stop-color="#1f438a"/><stop offset="0.9600" stop-color="#204288"/><stop offset="0.9773" stop-color="#204185"/><stop offset="1.0000" stop-color="#214080"/></linearGradient><linearGradient id="g9" x1="0" x2="1" y1="0" y2="0"><stop offset="0.0000" stop-color="#24386c"/><stop offset="0.0227" stop-color="#24386d"/><stop offset="0.0455" stop-color="#24396d"/><stop offset="0.0682" stop-color="#24396e"/><stop offset="0.0909" stop-color="#24396f"/><stop offset="0.1136" stop-color="#233970"/><stop offset="0.1364" stop-color="#233a70"/><stop offset="0.1500" stop-color="#233a71"/><stop offset="0.1591" stop-color="#233a71"/><stop offset="0.1600" stop-color="#233a71"/><stop offset="0.1700" stop-color="#233a71"/><stop offset="0.1800" stop-color="#233a72"/><stop offset="0.1818" stop-color="#233a72"/><stop offset="0.1900" stop-color="#233a72"/><stop offset="0.1920" stop-color="#233a72"/><stop offset="0.2000" stop-color="#214081"/><stop offset="0.2045" stop-color="#1f4389"/><stop offset="0.2100" stop-color="#1e4891"/><stop offset="0.2200" stop-color="#1b529e"/><stop offset="0.2220" stop-color="#1b54a0"/><stop offset="0.2273" stop-color="#1b55a1"/><stop offset="0.2300" stop-color="#1b56a2"/><stop offset="0.2400" stop-color="#1a58a4"/><stop offset="0.2500" stop-color="#1a5aa6"/><stop offset="0.2600" stop-color="#1a5ca8"/><stop offset="0.2700" stop-color="#1a5eaa"/><stop offset="0.2727" stop-color="#1a5eaa"/><stop offset="0.2800" stop-color="#195fab"/><stop offset="0.2900" stop-color="#1961ad"/><stop offset="0.2955" stop-color="#1963af"/><stop offset="0.3000" stop-color="#1965b0"/><stop offset="0.3100" stop-color="#1a69b4"/><stop offset="0.3182" stop-color="#1a6cb6"/><stop offset="0.3200" stop-color="#1a6db7"/><stop offset="0.3300" stop-color="#1b70b9"/><stop offset="0.3400" stop-color="#1b6fb8"/><stop offset="0.3409" stop-color="#1b6eb8"/><stop offset="0.3500" stop-color="#1a6cb6"/><stop offset="0.3600" stop-color="#1a6ab4"/><stop offset="0.3636" stop-color="#1a69b3"/><stop offset="0.3700" stop-color="#1a67b2"/><stop offset="0.3800" stop-color="#1965b0"/><stop offset="0.3864" stop-color="#1963af"/><stop offset="0.3900" stop-color="#1962ae"/><stop offset="0.4000" stop-color="#1961ad"/><stop offset="0.4091" stop-color="#1960ac"/><stop offset="0.4100" stop-color="#1960ac"/><stop offset="0.4200" stop-color="#1a5eaa"/><stop offset="0.4250" stop-color="#1a5eaa"/><stop offset="0.4300" stop-color="#1a5ca8"/><stop offset="0.4318" stop-color="#1a5ca8"/><stop offset="0.4400" stop-color="#1a5aa6"/><stop offset="0.4500" stop-color="#1b57a3"/><stop offset="0.4545" stop-color="#1b55a1"/><stop offset="0.4600" stop-color="#1b54a0"/><stop offset="0.4700" stop-color="#1c519c"/><stop offset="0.4773" stop-color="#1c4f99"/><stop offset="0.4800" stop-color="#1d4e98"/><stop offset="0.4900" stop-color="#1d4d97"/><stop offset="0.5000" stop-color="#1d4c97"/><stop offset="0.5100" stop-color="#1d4c96"/><stop offset="0.5200" stop-color="#1d4b95"/><stop offset="0.5227" stop-color="#1d4b95"/><stop offset="0.5300" stop-color="#1d4b95"/><stop offset="0.5400" stop-color="#1d4a94"/><stop offset="0.5455" stop-color="#1d4a94"/><stop offset="0.5682" stop-color="#1e4992"/><stop offset="0.5909" stop-color="#1e4891"/><stop offset="0.6136" stop-color="#1e4790"/><stop offset="0.6250" stop-color="#1e468f"/><stop offset="0.6364" stop-color="#1d4e98"/><stop offset="0.6430" stop-color="#1c529d"/><stop offset="0.6465" stop-color="#ece232"/><stop offset="0.6495" stop-color="#c91e26"/><stop offset="0.6525" stop-color="#e94e28"/><stop offset="0.6565" stop-color="#1b56a2"/><stop offset="0.6591" stop-color="#1b56a2"/><stop offset="0.6818" stop-color="#1b57a3"/><stop offset="0.7000" stop-color="#1a58a4"/><stop offset="0.7045" stop-color="#1a58a4"/><stop offset="0.7273" stop-color="#1b57a3"/><stop offset="0.7500" stop-color="#1b57a3"/><stop offset="0.7727" stop-color="#1b56a2"/><stop offset="0.7955" stop-color="#1b56a2"/><stop offset="0.8182" stop-color="#1b56a2"/><stop offset="0.8409" stop-color="#1b55a1"/><stop offset="0.8636" stop-color="#1b55a1"/><stop offset="0.8864" stop-color="#1b54a0"/><stop offset="0.8900" stop-color="#1b54a0"/><stop offset="0.9091" stop-color="#1c4f9a"/><stop offset="0.9318" stop-color="#1e4992"/><stop offset="0.9545" stop-color="#1f438a"/><stop offset="0.9600" stop-color="#204288"/><stop offset="0.9773" stop-color="#204185"/><stop offset="1.0000" stop-color="#214080"/></linearGradient><linearGradient id="g10" x1="0" x2="1" y1="0" y2="0"><stop offset="0.0000" stop-color="#24386c"/><stop offset="0.0227" stop-color="#24386d"/><stop offset="0.0455" stop-color="#24396d"/><stop offset="0.0682" stop-color="#24396e"/><stop offset="0.0909" stop-color="#24396f"/><stop offset="0.1136" stop-color="#233970"/><stop offset="0.1364" stop-color="#233a70"/><stop offset="0.1500" stop-color="#233a71"/><stop offset="0.1591" stop-color="#233a71"/><stop offset="0.1600" stop-color="#233a71"/><stop offset="0.1700" stop-color="#233a71"/><stop offset="0.1800" stop-color="#233a72"/><stop offset="0.1818" stop-color="#233a72"/><stop offset="0.1880" stop-color="#233a72"/><stop offset="0.1900" stop-color="#223c76"/><stop offset="0.2000" stop-color="#204288"/><stop offset="0.2045" stop-color="#1e468f"/><stop offset="0.2100" stop-color="#1d4c96"/><stop offset="0.2180" stop-color="#1b54a0"/><stop offset="0.2200" stop-color="#1b55a1"/><stop offset="0.2273" stop-color="#1b56a2"/><stop offset="0.2300" stop-color="#1b57a3"/><stop offset="0.2400" stop-color="#1a58a4"/><stop offset="0.2500" stop-color="#1a5aa6"/><stop offset="0.2600" stop-color="#1a5ca8"/><stop offset="0.2700" stop-color="#1a5eaa"/><stop offset="0.2727" stop-color="#195fab"/><stop offset="0.2800" stop-color="#1960ac"/><stop offset="0.2900" stop-color="#1962ae"/><stop offset="0.2955" stop-color="#1965b0"/><stop offset="0.3000" stop-color="#1a67b2"/><stop offset="0.3100" stop-color="#1a6cb6"/><stop offset="0.3182" stop-color="#1b6fb8"/><stop offset="0.3200" stop-color="#1b70b9"/><stop offset="0.3300" stop-color="#1b73bb"/><stop offset="0.3400" stop-color="#1b71ba"/><stop offset="0.3409" stop-color="#1b71ba"/><stop offset="0.3500" stop-color="#1b6fb8"/><stop offset="0.3600" stop-color="#1a6cb6"/><stop offset="0.3636" stop-color="#1a6bb5"/><stop offset="0.3700" stop-color="#1a6ab4"/><stop offset="0.3800" stop-color="#1a67b2"/><stop offset="0.3864" stop-color="#1965b0"/><stop offset="0.3900" stop-color="#1964af"/><stop offset="0.4000" stop-color="#1961ad"/><stop offset="0.4091" stop-color="#1960ac"/><stop offset="0.4100" stop-color="#1960ac"/><stop offset="0.4200" stop-color="#195fab"/><stop offset="0.4250" stop-color="#1a5eaa"/><stop offset="0.4300" stop-color="#1a5da9"/><stop offset="0.4318" stop-color="#1a5ca8"/><stop offset="0.4400" stop-color="#1a5aa6"/><stop offset="0.4500" stop-color="#1b57a3"/><stop offset="0.4545" stop-color="#1b56a2"/><stop offset="0.4600" stop-color="#1b54a0"/><stop offset="0.4700" stop-color="#1c519c"/><stop offset="0.4773" stop-color="#1c4f99"/><stop offset="0.4800" stop-color="#1d4e98"/><stop offset="0.4900" stop-color="#1d4d97"/><stop offset="0.5000" stop-color="#1d4d97"/><stop offset="0.5100" stop-color="#1d4c96"/><stop offset="0.5200" stop-color="#1d4b95"/><stop offset="0.5227" stop-color="#1d4b95"/><stop offset="0.5300" stop-color="#1d4b95"/><stop offset="0.5400" stop-color="#1d4a94"/><stop offset="0.5455" stop-color="#1d4a94"/><stop offset="0.5682" stop-color="#1e4992"/><stop offset="0.5909" stop-color="#1e4891"/><stop offset="0.6136" stop-color="#1e4790"/><stop offset="0.6250" stop-color="#1e468f"/><stop offset="0.6364" stop-color="#1d4e98"/><stop offset="0.6430" stop-color="#1c529d"/><stop offset="0.6465" stop-color="#ece232"/><stop offset="0.6495" stop-color="#c91e26"/><stop offset="0.6525" stop-color="#e94e28"/><stop offset="0.6565" stop-color="#1b56a2"/><stop offset="0.6591" stop-color="#1b56a2"/><stop offset="0.6818" stop-color="#1b57a3"/><stop offset="0.7000" stop-color="#1a58a4"/><stop offset="0.7045" stop-color="#1a58a4"/><stop offset="0.7273" stop-color="#1b57a3"/><stop offset="0.7500" stop-color="#1b57a3"/><stop offset="0.7727" stop-color="#1b56a2"/><stop offset="0.7955" stop-color="#1b56a2"/><stop offset="0.8182" stop-color="#1b56a2"/><stop offset="0.8409" stop-color="#1b55a1"/><stop offset="0.8636" stop-color="#1b55a1"/><stop offset="0.8864" stop-color="#1b54a0"/><stop offset="0.8900" stop-color="#1b54a0"/><stop offset="0.9091" stop-color="#1c4f9a"/><stop offset="0.9318" stop-color="#1e4992"/><stop offset="0.9545" stop-color="#1f438a"/><stop offset="0.9600" stop-color="#204288"/><stop offset="0.9773" stop-color="#204185"/><stop offset="1.0000" stop-color="#214080"/></linearGradient><linearGradient id="g11" x1="0" x2="1" y1="0" y2="0"><stop offset="0.0000" stop-color="#24386c"/><stop offset="0.0227" stop-color="#24386d"/><stop offset="0.0455" stop-color="#24396d"/><stop offset="0.0682" stop-color="#24396e"/><stop offset="0.0909" stop-color="#24396f"/><stop offset="0.1136" stop-color="#233970"/><stop offset="0.1364" stop-color="#233a70"/><stop offset="0.1500" stop-color="#233a71"/><stop offset="0.1591" stop-color="#233a71"/><stop offset="0.1600" stop-color="#233a71"/><stop offset="0.1700" stop-color="#233a72"/><stop offset="0.1800" stop-color="#233a72"/><stop offset="0.1818" stop-color="#233a72"/><stop offset="0.1839" stop-color="#233a72"/><stop offset="0.1900" stop-color="#213e7d"/><stop offset="0.2000" stop-color="#1e468f"/><stop offset="0.2045" stop-color="#1d4b94"/><stop offset="0.2100" stop-color="#1c509c"/><stop offset="0.2139" stop-color="#1b54a0"/><stop offset="0.2200" stop-color="#1b55a1"/><stop offset="0.2273" stop-color="#1b57a3"/><stop offset="0.2300" stop-color="#1b57a3"/><stop offset="0.2400" stop-color="#1a59a5"/><stop offset="0.2500" stop-color="#1a5ba7"/><stop offset="0.2600" stop-color="#1a5da9"/><stop offset="0.2700" stop-color="#195fab"/><stop offset="0.2727" stop-color="#195fab"/><stop offset="0.2800" stop-color="#1961ad"/><stop offset="0.2900" stop-color="#1965b0"/><stop offset="0.2955" stop-color="#1a67b2"/><stop offset="0.3000" stop-color="#1a6ab4"/><stop offset="0.3100" stop-color="#1b6fb8"/><stop offset="0.3182" stop-color="#1b72ba"/><stop offset="0.3200" stop-color="#1b73bb"/><stop offset="0.3300" stop-color="#1c76be"/><stop offset="0.3400" stop-color="#1b74bc"/><stop offset="0.3409" stop-color="#1b74bc"/><stop offset="0.3500" stop-color="#1b72ba"/><stop offset="0.3600" stop-color="#1b6fb8"/><stop offset="0.3636" stop-color="#1b6eb7"/><stop offset="0.3700" stop-color="#1a6cb6"/><stop offset="0.3800" stop-color="#1a69b4"/><stop offset="0.3864" stop-color="#1a67b2"/><stop offset="0.3900" stop-color="#1966b1"/><stop offset="0.4000" stop-color="#1962ae"/><stop offset="0.4091" stop-color="#1961ad"/><stop offset="0.4100" stop-color="#1961ad"/><stop offset="0.4200" stop-color="#1960ac"/><stop offset="0.4250" stop-color="#195fab"/><stop offset="0.4300" stop-color="#1a5da9"/><stop offset="0.4318" stop-color="#1a5da9"/><stop offset="0.4400" stop-color="#1a5aa6"/><stop offset="0.4500" stop-color="#1b57a3"/><stop offset="0.4545" stop-color="#1b56a2"/><stop offset="0.4600" stop-color="#1b54a0"/><stop offset="0.4700" stop-color="#1c519c"/><stop offset="0.4773" stop-color="#1c4f9a"/><stop offset="0.4800" stop-color="#1d4e98"/><stop offset="0.4900" stop-color="#1d4d98"/><stop offset="0.5000" stop-color="#1d4d97"/><stop offset="0.5100" stop-color="#1d4c96"/><stop offset="0.5200" stop-color="#1d4b95"/><stop offset="0.5227" stop-color="#1d4b95"/><stop offset="0.5300" stop-color="#1d4b95"/><stop offset="0.5400" stop-color="#1d4a94"/><stop offset="0.5455" stop-color="#1d4a94"/><stop offset="0.5682" stop-color="#1e4992"/><stop offset="0.5909" stop-color="#1e4891"/><stop offset="0.6136" stop-color="#1e4790"/><stop offset="0.6250" stop-color="#1e468f"/><stop offset="0.6364" stop-color="#1d4e98"/><stop offset="0.6430" stop-color="#1c529d"/><stop offset="0.6465" stop-color="#ece232"/><stop offset="0.6495" stop-color="#c91e26"/><stop offset="0.6525" stop-color="#e94e28"/><stop offset="0.6565" stop-color="#1b56a2"/><stop offset="0.6591" stop-color="#1b56a2"/><stop offset="0.6818" stop-color="#1b57a3"/><stop offset="0.7000" stop-color="#1a58a4"/><stop offset="0.7045" stop-color="#1a58a4"/><stop offset="0.7273" stop-color="#1b57a3"/><stop offset="0.7500" stop-color="#1b57a3"/><stop offset="0.7727" stop-color="#1b56a2"/><stop offset="0.7955" stop-color="#1b56a2"/><stop offset="0.8182" stop-color="#1b56a2"/><stop offset="0.8409" stop-color="#1b55a1"/><stop offset="0.8636" stop-color="#1b55a1"/><stop offset="0.8864" stop-color="#1b54a0"/><stop offset="0.8900" stop-color="#1b54a0"/><stop offset="0.9091" stop-color="#1c4f9a"/><stop offset="0.9318" stop-color="#1e4992"/><stop offset="0.9545" stop-color="#1f438a"/><stop offset="0.9600" stop-color="#204288"/><stop offset="0.9773" stop-color="#204185"/><stop offset="1.0000" stop-color="#214080"/></linearGradient><linearGradient id="g12" x1="0" x2="1" y1="0" y2="0"><stop offset="0.0000" stop-color="#24386c"/><stop offset="0.0227" stop-color="#24386d"/><stop offset="0.0455" stop-color="#24396e"/><stop offset="0.0682" stop-color="#24396e"/><stop offset="0.0909" stop-color="#24396f"/><stop offset="0.1136" stop-color="#233970"/><stop offset="0.1364" stop-color="#233a71"/><stop offset="0.1500" stop-color="#233a71"/><stop offset="0.1591" stop-color="#233a71"/><stop offset="0.1600" stop-color="#233a71"/><stop offset="0.1700" stop-color="#233a72"/><stop offset="0.1795" stop-color="#233a72"/><stop offset="0.1800" stop-color="#233b73"/><stop offset="0.1818" stop-color="#223c76"/><stop offset="0.1900" stop-color="#204185"/><stop offset="0.2000" stop-color="#1d4b94"/><stop offset="0.2045" stop-color="#1c4f9a"/><stop offset="0.2095" stop-color="#1b54a0"/><stop offset="0.2100" stop-color="#1b55a1"/><stop offset="0.2200" stop-color="#1b56a2"/><stop offset="0.2273" stop-color="#1b57a3"/><stop offset="0.2300" stop-color="#1a58a4"/><stop offset="0.2400" stop-color="#1a59a5"/><stop offset="0.2500" stop-color="#1a5ba7"/><stop offset="0.2600" stop-color="#1a5da9"/><stop offset="0.2700" stop-color="#195fab"/><stop offset="0.2727" stop-color="#1960ac"/><stop offset="0.2800" stop-color="#1962ae"/><stop offset="0.2900" stop-color="#1a67b2"/><stop offset="0.2955" stop-color="#1a6ab4"/><stop offset="0.3000" stop-color="#1a6db6"/><stop offset="0.3100" stop-color="#1b72ba"/><stop offset="0.3182" stop-color="#1b75bd"/><stop offset="0.3200" stop-color="#1c76be"/><stop offset="0.3300" stop-color="#1c7ac0"/><stop offset="0.3400" stop-color="#1c78bf"/><stop offset="0.3409" stop-color="#1c78bf"/><stop offset="0.3500" stop-color="#1b75bd"/><stop offset="0.3600" stop-color="#1b72bb"/><stop offset="0.3636" stop-color="#1b71ba"/><stop offset="0.3700" stop-color="#1b6fb8"/><stop offset="0.3800" stop-color="#1a6cb6"/><stop offset="0.3864" stop-color="#1a6ab4"/><stop offset="0.3900" stop-color="#1a68b3"/><stop offset="0.4000" stop-color="#1965b0"/><stop offset="0.4091" stop-color="#1962ae"/><stop offset="0.4100" stop-color="#1962ae"/><stop offset="0.4200" stop-color="#1960ac"/><stop offset="0.4250" stop-color="#195fab"/><stop offset="0.4300" stop-color="#1a5eaa"/><stop offset="0.4318" stop-color="#1a5da9"/><stop offset="0.4400" stop-color="#1a5ba7"/><stop offset="0.4500" stop-color="#1a58a4"/><stop offset="0.4545" stop-color="#1b56a2"/><stop offset="0.4600" stop-color="#1b55a1"/><stop offset="0.4700" stop-color="#1c519d"/><stop offset="0.4773" stop-color="#1c4f9a"/><stop offset="0.4800" stop-color="#1c4e99"/><stop offset="0.4900" stop-color="#1d4d98"/><stop offset="0.5000" stop-color="#1d4d97"/><stop offset="0.5100" stop-color="#1d4c96"/><stop offset="0.5200" stop-color="#1d4b95"/><stop offset="0.5227" stop-color="#1d4b95"/><stop offset="0.5300" stop-color="#1d4b95"/><stop offset="0.5400" stop-color="#1d4a94"/><stop offset="0.5455" stop-color="#1d4a94"/><stop offset="0.5682" stop-color="#1e4992"/><stop offset="0.5909" stop-color="#1e4891"/><stop offset="0.6136" stop-color="#1e4790"/><stop offset="0.6250" stop-color="#1e468f"/><stop offset="0.6364" stop-color="#1d4e98"/><stop offset="0.6430" stop-color="#1c529d"/><stop offset="0.6465" stop-color="#ece232"/><stop offset="0.6495" stop-color="#c91e26"/><stop offset="0.6525" stop-color="#e94e28"/><stop offset="0.6565" stop-color="#1b56a2"/><stop offset="0.6591" stop-color="#1b56a2"/><stop offset="0.6818" stop-color="#1b57a3"/><stop offset="0.7000" stop-color="#1a58a4"/><stop offset="0.7045" stop-color="#1a58a4"/><stop offset="0.7273" stop-color="#1b57a3"/><stop offset="0.7500" stop-color="#1b57a3"/><stop offset="0.7727" stop-color="#1b56a2"/><stop offset="0.7955" stop-color="#1b56a2"/><stop offset="0.8182" stop-color="#1b56a2"/><stop offset="0.8409" stop-color="#1b55a1"/><stop offset="0.8636" stop-color="#1b55a1"/><stop offset="0.8864" stop-color="#1b54a0"/><stop offset="0.8900" stop-color="#1b54a0"/><stop offset="0.9091" stop-color="#1c4f9a"/><stop offset="0.9318" stop-color="#1e4992"/><stop offset="0.9545" stop-color="#1f438a"/><stop offset="0.9600" stop-color="#204288"/><stop offset="0.9773" stop-color="#204185"/><stop offset="1.0000" stop-color="#214080"/></linearGradient><linearGradient id="g13" x1="0" x2="1" y1="0" y2="0"><stop offset="0.0000" stop-color="#24386c"/><stop offset="0.0227" stop-color="#24386d"/><stop offset="0.0455" stop-color="#24396e"/><stop offset="0.0682" stop-color="#24396e"/><stop offset="0.0909" stop-color="#24396f"/><stop offset="0.1136" stop-color="#233970"/><stop offset="0.1364" stop-color="#233a71"/><stop offset="0.1500" stop-color="#233a71"/><stop offset="0.1591" stop-color="#233a72"/><stop offset="0.1600" stop-color="#233a72"/><stop offset="0.1700" stop-color="#233a72"/><stop offset="0.1750" stop-color="#233a72"/><stop offset="0.1800" stop-color="#223e7b"/><stop offset="0.1818" stop-color="#213f7f"/><stop offset="0.1900" stop-color="#1f458d"/><stop offset="0.2000" stop-color="#1c4f9a"/><stop offset="0.2045" stop-color="#1b54a0"/><stop offset="0.2050" stop-color="#1b54a0"/><stop offset="0.2100" stop-color="#1b55a1"/><stop offset="0.2200" stop-color="#1b57a3"/><stop offset="0.2273" stop-color="#1a58a4"/><stop offset="0.2300" stop-color="#1a58a4"/><stop offset="0.2400" stop-color="#1a5aa6"/><stop offset="0.2500" stop-color="#1a5ca8"/><stop offset="0.2600" stop-color="#1a5eaa"/><stop offset="0.2700" stop-color="#1960ac"/><stop offset="0.2727" stop-color="#1961ad"/><stop offset="0.2800" stop-color="#1964af"/><stop offset="0.2900" stop-color="#1a6ab4"/><stop offset="0.2955" stop-color="#1a6db7"/><stop offset="0.3000" stop-color="#1b70b9"/><stop offset="0.3100" stop-color="#1b75bd"/><stop offset="0.3182" stop-color="#1c79c0"/><stop offset="0.3200" stop-color="#1c7ac0"/><stop offset="0.3300" stop-color="#1c7ec3"/><stop offset="0.3400" stop-color="#1c7bc2"/><stop offset="0.3409" stop-color="#1c7bc2"/><stop offset="0.3500" stop-color="#1c79c0"/><stop offset="0.3600" stop-color="#1b76bd"/><stop offset="0.3636" stop-color="#1b75bc"/><stop offset="0.3700" stop-color="#1b72bb"/><stop offset="0.3800" stop-color="#1b6fb8"/><stop offset="0.3864" stop-color="#1a6cb6"/><stop offset="0.3900" stop-color="#1a6bb5"/><stop offset="0.4000" stop-color="#1a67b2"/><stop offset="0.4091" stop-color="#1963af"/><stop offset="0.4100" stop-color="#1963af"/><stop offset="0.4200" stop-color="#1961ad"/><stop offset="0.4250" stop-color="#1960ac"/><stop offset="0.4300" stop-color="#1a5eaa"/><stop offset="0.4318" stop-color="#1a5eaa"/><stop offset="0.4400" stop-color="#1a5ba7"/><stop offset="0.4500" stop-color="#1a58a4"/><stop offset="0.4545" stop-color="#1b57a3"/><stop offset="0.4600" stop-color="#1b55a1"/><stop offset="0.4700" stop-color="#1c529d"/><stop offset="0.4773" stop-color="#1c4f9a"/><stop offset="0.4800" stop-color="#1c4e99"/><stop offset="0.4900" stop-color="#1d4e98"/><stop offset="0.5000" stop-color="#1d4d97"/><stop offset="0.5100" stop-color="#1d4c96"/><stop offset="0.5200" stop-color="#1d4c95"/><stop offset="0.5227" stop-color="#1d4b95"/><stop offset="0.5300" stop-color="#1d4b95"/><stop offset="0.5400" stop-color="#1d4a94"/><stop offset="0.5455" stop-color="#1d4a94"/><stop offset="0.5682" stop-color="#1e4992"/><stop offset="0.5909" stop-color="#1e4891"/><stop offset="0.6136" stop-color="#1e4790"/><stop offset="0.6250" stop-color="#1e468f"/><stop offset="0.6364" stop-color="#1d4e98"/><stop offset="0.6430" stop-color="#1c529d"/><stop offset="0.6465" stop-color="#ece232"/><stop offset="0.6495" stop-color="#c91e26"/><stop offset="0.6525" stop-color="#e94e28"/><stop offset="0.6565" stop-color="#1b56a2"/><stop offset="0.6591" stop-color="#1b56a2"/><stop offset="0.6818" stop-color="#1b57a3"/><stop offset="0.7000" stop-color="#1a58a4"/><stop offset="0.7045" stop-color="#1a58a4"/><stop offset="0.7273" stop-color="#1b57a3"/><stop offset="0.7500" stop-color="#1b57a3"/><stop offset="0.7727" stop-color="#1b56a2"/><stop offset="0.7955" stop-color="#1b56a2"/><stop offset="0.8182" stop-color="#1b56a2"/><stop offset="0.8409" stop-color="#1b55a1"/><stop offset="0.8636" stop-color="#1b55a1"/><stop offset="0.8864" stop-color="#1b54a0"/><stop offset="0.8900" stop-color="#1b54a0"/><stop offset="0.9091" stop-color="#1c4f9a"/><stop offset="0.9318" stop-color="#1e4992"/><stop offset="0.9545" stop-color="#1f438a"/><stop offset="0.9600" stop-color="#204288"/><stop offset="0.9773" stop-color="#204185"/><stop offset="1.0000" stop-color="#214080"/></linearGradient><linearGradient id="g14" x1="0" x2="1" y1="0" y2="0"><stop offset="0.0000" stop-color="#24386c"/><stop offset="0.0227" stop-color="#24386d"/><stop offset="0.0455" stop-color="#24396e"/><stop offset="0.0682" stop-color="#24396e"/><stop offset="0.0909" stop-color="#24396f"/><stop offset="0.1136" stop-color="#233970"/><stop offset="0.1364" stop-color="#233a71"/><stop offset="0.1591" stop-color="#233a71"/><stop offset="0.1750" stop-color="#233a72"/><stop offset="0.1818" stop-color="#213f7e"/><stop offset="0.2045" stop-color="#1b549f"/><stop offset="0.2050" stop-color="#1b54a0"/><stop offset="0.2273" stop-color="#1b56a2"/><stop offset="0.2500" stop-color="#1a59a5"/><stop offset="0.2600" stop-color="#1960ac"/><stop offset="0.2727" stop-color="#1c76be"/><stop offset="0.2750" stop-color="#1c7bc1"/><stop offset="0.2955" stop-color="#1d81c6"/><stop offset="0.3182" stop-color="#1e87cb"/><stop offset="0.3300" stop-color="#1e8acd"/><stop offset="0.3409" stop-color="#1e87ca"/><stop offset="0.3636" stop-color="#1d80c5"/><stop offset="0.3800" stop-color="#1c7bc1"/><stop offset="0.3864" stop-color="#1b73bb"/><stop offset="0.4091" stop-color="#1a5eaa"/><stop offset="0.4100" stop-color="#1a5da9"/><stop offset="0.4250" stop-color="#1a5ca8"/><stop offset="0.4318" stop-color="#1a5aa6"/><stop offset="0.4545" stop-color="#1b54a0"/><stop offset="0.4773" stop-color="#1d4e98"/><stop offset="0.4800" stop-color="#1d4d97"/><stop offset="0.5000" stop-color="#1d4c96"/><stop offset="0.5227" stop-color="#1d4b95"/><stop offset="0.5455" stop-color="#1d4a94"/><stop offset="0.5682" stop-color="#1e4992"/><stop offset="0.5909" stop-color="#1e4891"/><stop offset="0.6136" stop-color="#1e4790"/><stop offset="0.6250" stop-color="#1e468f"/><stop offset="0.6364" stop-color="#1d4e98"/><stop offset="0.6430" stop-color="#1c529d"/><stop offset="0.6465" stop-color="#ece232"/><stop offset="0.6495" stop-color="#c91e26"/><stop offset="0.6525" stop-color="#ea4e28"/><stop offset="0.6565" stop-color="#1b56a2"/><stop offset="0.6591" stop-color="#1b56a2"/><stop offset="0.6818" stop-color="#1b57a3"/><stop offset="0.7000" stop-color="#1a58a4"/><stop offset="0.7045" stop-color="#1a58a4"/><stop offset="0.7273" stop-color="#1b57a3"/><stop offset="0.7500" stop-color="#1b57a3"/><stop offset="0.7727" stop-color="#1b56a2"/><stop offset="0.7955" stop-color="#1b56a2"/><stop offset="0.8182" stop-color="#1b56a2"/><stop offset="0.8409" stop-color="#1b55a1"/><stop offset="0.8636" stop-color="#1b55a1"/><stop offset="0.8864" stop-color="#1b54a0"/><stop offset="0.8900" stop-color="#1b54a0"/><stop offset="0.9091" stop-color="#1c4f9a"/><stop offset="0.9318" stop-color="#1e4992"/><stop offset="0.9545" stop-color="#1f438a"/><stop offset="0.9600" stop-color="#204288"/><stop offset="0.9773" stop-color="#204185"/><stop offset="1.0000" stop-color="#214080"/></linearGradient><linearGradient id="g15" x1="0" x2="1" y1="0" y2="0"><stop offset="0.0000" stop-color="#24386c"/><stop offset="0.0227" stop-color="#24386d"/><stop offset="0.0455" stop-color="#24396e"/><stop offset="0.0682" stop-color="#24396e"/><stop offset="0.0909" stop-color="#24396f"/><stop offset="0.1136" stop-color="#233970"/><stop offset="0.1364" stop-color="#233a71"/><stop offset="0.1591" stop-color="#233a71"/><stop offset="0.1750" stop-color="#233a72"/><stop offset="0.1818" stop-color="#213f7e"/><stop offset="0.2045" stop-color="#1b549f"/><stop offset="0.2050" stop-color="#1b54a0"/><stop offset="0.2273" stop-color="#1b57a3"/><stop offset="0.2400" stop-color="#1a58a4"/><stop offset="0.2500" stop-color="#1a6bb5"/><stop offset="0.2600" stop-color="#1e8dcf"/><stop offset="0.2650" stop-color="#1f9fda"/><stop offset="0.2727" stop-color="#1fa1dc"/><stop offset="0.2955" stop-color="#1fa9e1"/><stop offset="0.3182" stop-color="#20b0e6"/><stop offset="0.3300" stop-color="#20b4e8"/><stop offset="0.3409" stop-color="#20b0e6"/><stop offset="0.3636" stop-color="#1fa8e0"/><stop offset="0.3864" stop-color="#1fa0db"/><stop offset="0.3900" stop-color="#1f9fda"/><stop offset="0.4091" stop-color="#1c78bf"/><stop offset="0.4250" stop-color="#1a5eaa"/><stop offset="0.4318" stop-color="#1a5ca8"/><stop offset="0.4545" stop-color="#1b55a1"/><stop offset="0.4773" stop-color="#1c4e99"/><stop offset="0.4800" stop-color="#1d4d97"/><stop offset="0.5000" stop-color="#1d4c96"/><stop offset="0.5227" stop-color="#1d4b95"/><stop offset="0.5455" stop-color="#1d4a94"/><stop offset="0.5682" stop-color="#1e4992"/><stop offset="0.5909" stop-color="#1e4891"/><stop offset="0.6136" stop-color="#1e4790"/><stop offset="0.6250" stop-color="#1e468f"/><stop offset="0.6364" stop-color="#1d4e98"/><stop offset="0.6430" stop-color="#1c529d"/><stop offset="0.6465" stop-color="#ece232"/><stop offset="0.6495" stop-color="#c91e26"/><stop offset="0.6525" stop-color="#ea4e28"/><stop offset="0.6565" stop-color="#1b56a2"/><stop offset="0.6591" stop-color="#1b56a2"/><stop offset="0.6818" stop-color="#1b57a3"/><stop offset="0.7000" stop-color="#1a58a4"/><stop offset="0.7045" stop-color="#1a58a4"/><stop offset="0.7273" stop-color="#1b57a3"/><stop offset="0.7500" stop-color="#1b57a3"/><stop offset="0.7727" stop-color="#1b56a2"/><stop offset="0.7955" stop-color="#1b56a2"/><stop offset="0.8182" stop-color="#1b56a2"/><stop offset="0.8409" stop-color="#1b55a1"/><stop offset="0.8636" stop-color="#1b55a1"/><stop offset="0.8864" stop-color="#1b54a0"/><stop offset="0.8900" stop-color="#1b54a0"/><stop offset="0.9091" stop-color="#1c4f9a"/><stop offset="0.9318" stop-color="#1e4992"/><stop offset="0.9545" stop-color="#1f438a"/><stop offset="0.9600" stop-color="#204288"/><stop offset="0.9773" stop-color="#204185"/><stop offset="1.0000" stop-color="#214080"/></linearGradient><linearGradient id="g16" x1="0" x2="1" y1="0" y2="0"><stop offset="0.0000" stop-color="#24386c"/><stop offset="0.0227" stop-color="#24386d"/><stop offset="0.0455" stop-color="#24396e"/><stop offset="0.0682" stop-color="#24396e"/><stop offset="0.0909" stop-color="#24396f"/><stop offset="0.1136" stop-color="#233970"/><stop offset="0.1364" stop-color="#233a71"/><stop offset="0.1591" stop-color="#233a71"/><stop offset="0.1750" stop-color="#233a72"/><stop offset="0.1818" stop-color="#213f7e"/><stop offset="0.2045" stop-color="#1b549f"/><stop offset="0.2050" stop-color="#1b54a0"/><stop offset="0.2273" stop-color="#1a58a4"/><stop offset="0.2300" stop-color="#1a58a4"/><stop offset="0.2500" stop-color="#20aae1"/><stop offset="0.2600" stop-color="#20b4e8"/><stop offset="0.2700" stop-color="#33b6d9"/><stop offset="0.2727" stop-color="#33b6d9"/><stop offset="0.2955" stop-color="#33b6d9"/><stop offset="0.3182" stop-color="#33b6d9"/><stop offset="0.3300" stop-color="#33b6d9"/><stop offset="0.3409" stop-color="#33b6d9"/><stop offset="0.3636" stop-color="#33b6d9"/><stop offset="0.3800" stop-color="#33b6d9"/><stop offset="0.3864" stop-color="#2bb5df"/><stop offset="0.4091" stop-color="#20aae2"/><stop offset="0.4100" stop-color="#20aae1"/><stop offset="0.4250" stop-color="#1d85c9"/><stop offset="0.4318" stop-color="#1b75bd"/><stop offset="0.4400" stop-color="#1962ae"/><stop offset="0.4545" stop-color="#1a5ba7"/><stop offset="0.4773" stop-color="#1c4f99"/><stop offset="0.4800" stop-color="#1d4d97"/><stop offset="0.5000" stop-color="#1d4c96"/><stop offset="0.5227" stop-color="#1d4b95"/><stop offset="0.5455" stop-color="#1d4a94"/><stop offset="0.5682" stop-color="#1e4992"/><stop offset="0.5909" stop-color="#1e4891"/><stop offset="0.6136" stop-color="#1e4790"/><stop offset="0.6250" stop-color="#1e468f"/><stop offset="0.6364" stop-color="#1d4e98"/><stop offset="0.6430" stop-color="#1c529d"/><stop offset="0.6465" stop-color="#ece232"/><stop offset="0.6495" stop-color="#c91e26"/><stop offset="0.6525" stop-color="#ea4e28"/><stop offset="0.6565" stop-color="#1b56a2"/><stop offset="0.6591" stop-color="#1b56a2"/><stop offset="0.6818" stop-color="#1b57a3"/><stop offset="0.7000" stop-color="#1a58a4"/><stop offset="0.7045" stop-color="#1a58a4"/><stop offset="0.7273" stop-color="#1b57a3"/><stop offset="0.7500" stop-color="#1b57a3"/><stop offset="0.7727" stop-color="#1b56a2"/><stop offset="0.7955" stop-color="#1b56a2"/><stop offset="0.8182" stop-color="#1b56a2"/><stop offset="0.8409" stop-color="#1b55a1"/><stop offset="0.8636" stop-color="#1b55a1"/><stop offset="0.8864" stop-color="#1b54a0"/><stop offset="0.8900" stop-color="#1b54a0"/><stop offset="0.9091" stop-color="#1c4f9a"/><stop offset="0.9318" stop-color="#1e4992"/><stop offset="0.9545" stop-color="#1f438a"/><stop offset="0.9600" stop-color="#204288"/><stop offset="0.9773" stop-color="#204185"/><stop offset="1.0000" stop-color="#214080"/></linearGradient><linearGradient id="g17" x1="0" x2="1" y1="0" y2="0"><stop offset="0.0000" stop-color="#24386c"/><stop offset="0.0227" stop-color="#24386d"/><stop offset="0.0455" stop-color="#24396e"/><stop offset="0.0682" stop-color="#24396e"/><stop offset="0.0909" stop-color="#24396f"/><stop offset="0.1136" stop-color="#233970"/><stop offset="0.1364" stop-color="#233a71"/><stop offset="0.1591" stop-color="#233a71"/><stop offset="0.1750" stop-color="#233a72"/><stop offset="0.1818" stop-color="#213f7e"/><stop offset="0.2045" stop-color="#1b549f"/><stop offset="0.2050" stop-color="#1b54a0"/><stop offset="0.2250" stop-color="#1a5eaa"/><stop offset="0.2273" stop-color="#1962ae"/><stop offset="0.2450" stop-color="#20aae1"/><stop offset="0.2500" stop-color="#2ab5e0"/><stop offset="0.2600" stop-color="#64bab2"/><stop offset="0.2727" stop-color="#6fbda5"/><stop offset="0.2955" stop-color="#84c28f"/><stop offset="0.3000" stop-color="#88c48a"/><stop offset="0.3182" stop-color="#88c48a"/><stop offset="0.3300" stop-color="#88c48a"/><stop offset="0.3409" stop-color="#88c48a"/><stop offset="0.3636" stop-color="#88c48a"/><stop offset="0.3700" stop-color="#88c48a"/><stop offset="0.3864" stop-color="#62bab4"/><stop offset="0.3950" stop-color="#47b7c9"/><stop offset="0.4091" stop-color="#26b5e3"/><stop offset="0.4200" stop-color="#20aae1"/><stop offset="0.4250" stop-color="#1f9dd9"/><stop offset="0.4318" stop-color="#1e8dcf"/><stop offset="0.4500" stop-color="#1962ae"/><stop offset="0.4545" stop-color="#195fab"/><stop offset="0.4773" stop-color="#1c4f9a"/><stop offset="0.4800" stop-color="#1d4d97"/><stop offset="0.5000" stop-color="#1d4c96"/><stop offset="0.5227" stop-color="#1d4b95"/><stop offset="0.5455" stop-color="#1d4a94"/><stop offset="0.5682" stop-color="#1e4992"/><stop offset="0.5909" stop-color="#1e4891"/><stop offset="0.6136" stop-color="#1e4790"/><stop offset="0.6250" stop-color="#1e468f"/><stop offset="0.6364" stop-color="#1d4e98"/><stop offset="0.6430" stop-color="#1c529d"/><stop offset="0.6465" stop-color="#ece232"/><stop offset="0.6495" stop-color="#c91e26"/><stop offset="0.6525" stop-color="#ea4e28"/><stop offset="0.6565" stop-color="#1b56a2"/><stop offset="0.6591" stop-color="#1b56a2"/><stop offset="0.6818" stop-color="#1b57a3"/><stop offset="0.7000" stop-color="#1a58a4"/><stop offset="0.7045" stop-color="#1a58a4"/><stop offset="0.7273" stop-color="#1b57a3"/><stop offset="0.7500" stop-color="#1b57a3"/><stop offset="0.7727" stop-color="#1b56a2"/><stop offset="0.7955" stop-color="#1b56a2"/><stop offset="0.8182" stop-color="#1b56a2"/><stop offset="0.8409" stop-color="#1b55a1"/><stop offset="0.8636" stop-color="#1b55a1"/><stop offset="0.8864" stop-color="#1b54a0"/><stop offset="0.8900" stop-color="#1b54a0"/><stop offset="0.9091" stop-color="#1c4f9a"/><stop offset="0.9318" stop-color="#1e4992"/><stop offset="0.9545" stop-color="#1f438a"/><stop offset="0.9600" stop-color="#204288"/><stop offset="0.9773" stop-color="#204185"/><stop offset="1.0000" stop-color="#214080"/></linearGradient><linearGradient id="g18" x1="0" x2="1" y1="0" y2="0"><stop offset="0.0000" stop-color="#24386c"/><stop offset="0.0227" stop-color="#24386d"/><stop offset="0.0455" stop-color="#24396e"/><stop offset="0.0682" stop-color="#24396e"/><stop offset="0.0909" stop-color="#24396f"/><stop offset="0.1136" stop-color="#233970"/><stop offset="0.1364" stop-color="#233a71"/><stop offset="0.1591" stop-color="#233a71"/><stop offset="0.1750" stop-color="#233a72"/><stop offset="0.1818" stop-color="#213f7e"/><stop offset="0.2045" stop-color="#1b549f"/><stop offset="0.2050" stop-color="#1b54a0"/><stop offset="0.2150" stop-color="#1a5eaa"/><stop offset="0.2273" stop-color="#1e89cc"/><stop offset="0.2350" stop-color="#20aae1"/><stop offset="0.2500" stop-color="#88c48a"/><stop offset="0.2600" stop-color="#bbd257"/><stop offset="0.2650" stop-color="#dadc40"/><stop offset="0.2727" stop-color="#e5e037"/><stop offset="0.2900" stop-color="#eed331"/><stop offset="0.2955" stop-color="#f0c730"/><stop offset="0.3100" stop-color="#f5a62d"/><stop offset="0.3182" stop-color="#f3b22e"/><stop offset="0.3300" stop-color="#f0c430"/><stop offset="0.3409" stop-color="#f2bc2f"/><stop offset="0.3500" stop-color="#f3b52e"/><stop offset="0.3636" stop-color="#eed431"/><stop offset="0.3700" stop-color="#ece232"/><stop offset="0.3864" stop-color="#ced848"/><stop offset="0.3900" stop-color="#c7d64d"/><stop offset="0.4091" stop-color="#8bc487"/><stop offset="0.4100" stop-color="#88c48a"/><stop offset="0.4250" stop-color="#5ab9ba"/><stop offset="0.4300" stop-color="#47b7c9"/><stop offset="0.4318" stop-color="#40b7cf"/><stop offset="0.4500" stop-color="#1f9fda"/><stop offset="0.4545" stop-color="#1e94d3"/><stop offset="0.4750" stop-color="#1962ae"/><stop offset="0.4773" stop-color="#1a59a5"/><stop offset="0.4800" stop-color="#1d4d97"/><stop offset="0.5000" stop-color="#1d4c96"/><stop offset="0.5227" stop-color="#1d4b95"/><stop offset="0.5455" stop-color="#1d4a94"/><stop offset="0.5682" stop-color="#1e4992"/><stop offset="0.5909" stop-color="#1e4891"/><stop offset="0.6136" stop-color="#1e4790"/><stop offset="0.6250" stop-color="#1e468f"/><stop offset="0.6364" stop-color="#1d4e98"/><stop offset="0.6430" stop-color="#1c529d"/><stop offset="0.6465" stop-color="#ece232"/><stop offset="0.6495" stop-color="#c91e26"/><stop offset="0.6525" stop-color="#ea4e28"/><stop offset="0.6565" stop-color="#1b56a2"/><stop offset="0.6591" stop-color="#1a5ba7"/><stop offset="0.6600" stop-color="#1a5da9"/><stop offset="0.6818" stop-color="#1a5eaa"/><stop offset="0.7000" stop-color="#195fab"/><stop offset="0.7045" stop-color="#195fab"/><stop offset="0.7273" stop-color="#1a5eaa"/><stop offset="0.7500" stop-color="#1a5eaa"/><stop offset="0.7727" stop-color="#1a5da9"/><stop offset="0.7955" stop-color="#1a5da9"/><stop offset="0.8000" stop-color="#1a5da9"/><stop offset="0.8182" stop-color="#1a5da9"/><stop offset="0.8409" stop-color="#1a5ca8"/><stop offset="0.8636" stop-color="#1a5ca8"/><stop offset="0.8864" stop-color="#1a5ba7"/><stop offset="0.8900" stop-color="#1a5ba7"/><stop offset="0.9000" stop-color="#1a59a5"/><stop offset="0.9091" stop-color="#1b57a3"/><stop offset="0.9318" stop-color="#1c519c"/><stop offset="0.9545" stop-color="#1d4b95"/><stop offset="0.9600" stop-color="#1e4a93"/><stop offset="0.9750" stop-color="#1e4891"/><stop offset="0.9773" stop-color="#1e4891"/><stop offset="1.0000" stop-color="#1f458d"/></linearGradient><linearGradient id="g19" x1="0" x2="1" y1="0" y2="0"><stop offset="0.0000" stop-color="#24386c"/><stop offset="0.0227" stop-color="#24386d"/><stop offset="0.0455" stop-color="#24396e"/><stop offset="0.0682" stop-color="#24396e"/><stop offset="0.0909" stop-color="#24396f"/><stop offset="0.1136" stop-color="#233970"/><stop offset="0.1364" stop-color="#233a71"/><stop offset="0.1591" stop-color="#233a71"/><stop offset="0.1750" stop-color="#233a72"/><stop offset="0.1818" stop-color="#213f7e"/><stop offset="0.2045" stop-color="#1b549f"/><stop offset="0.2050" stop-color="#1b54a0"/><stop offset="0.2100" stop-color="#1a5eaa"/><stop offset="0.2273" stop-color="#1f9eda"/><stop offset="0.2300" stop-color="#20aae1"/><stop offset="0.2450" stop-color="#dadc40"/><stop offset="0.2500" stop-color="#eed831"/><stop offset="0.2600" stop-color="#f5a62d"/><stop offset="0.2727" stop-color="#f3932c"/><stop offset="0.2850" stop-color="#f0812a"/><stop offset="0.2955" stop-color="#ef752a"/><stop offset="0.3100" stop-color="#ed6529"/><stop offset="0.3182" stop-color="#ec5a28"/><stop offset="0.3300" stop-color="#ea4e28"/><stop offset="0.3409" stop-color="#ed6328"/><stop offset="0.3500" stop-color="#ef782a"/><stop offset="0.3636" stop-color="#f1be2f"/><stop offset="0.3650" stop-color="#f0c430"/><stop offset="0.3864" stop-color="#edd931"/><stop offset="0.3950" stop-color="#ece232"/><stop offset="0.4091" stop-color="#accd62"/><stop offset="0.4150" stop-color="#96c77a"/><stop offset="0.4250" stop-color="#7dc196"/><stop offset="0.4318" stop-color="#6cbca9"/><stop offset="0.4350" stop-color="#64bab2"/><stop offset="0.4545" stop-color="#22b4e7"/><stop offset="0.4550" stop-color="#20b4e8"/><stop offset="0.4773" stop-color="#1a6bb5"/><stop offset="0.4800" stop-color="#1962ae"/><stop offset="0.5000" stop-color="#1a5eaa"/><stop offset="0.5227" stop-color="#1a5aa6"/><stop offset="0.5455" stop-color="#1b56a2"/><stop offset="0.5682" stop-color="#1c529d"/><stop offset="0.5909" stop-color="#1d4d98"/><stop offset="0.6136" stop-color="#1e4992"/><stop offset="0.6250" stop-color="#1e468f"/><stop offset="0.6364" stop-color="#1d4e98"/><stop offset="0.6430" stop-color="#1c529d"/><stop offset="0.6465" stop-color="#ece232"/><stop offset="0.6495" stop-color="#c91e26"/><stop offset="0.6525" stop-color="#ea4e28"/><stop offset="0.6565" stop-color="#1b56a2"/><stop offset="0.6591" stop-color="#1a5ba7"/><stop offset="0.6600" stop-color="#1a5da9"/><stop offset="0.6818" stop-color="#1a5eaa"/><stop offset="0.7000" stop-color="#195fab"/><stop offset="0.7045" stop-color="#195fab"/><stop offset="0.7273" stop-color="#1a5eaa"/><stop offset="0.7500" stop-color="#1a5eaa"/><stop offset="0.7727" stop-color="#1a5da9"/><stop offset="0.7955" stop-color="#1a5da9"/><stop offset="0.8000" stop-color="#1a5da9"/><stop offset="0.8182" stop-color="#1a5da9"/><stop offset="0.8409" stop-color="#1a5ca8"/><stop offset="0.8636" stop-color="#1a5ca8"/><stop offset="0.8864" stop-color="#1a5ba7"/><stop offset="0.8900" stop-color="#1a5ba7"/><stop offset="0.9000" stop-color="#1a59a5"/><stop offset="0.9091" stop-color="#1b57a3"/><stop offset="0.9318" stop-color="#1c519c"/><stop offset="0.9545" stop-color="#1d4b95"/><stop offset="0.9600" stop-color="#1e4a93"/><stop offset="0.9750" stop-color="#1e4891"/><stop offset="0.9773" stop-color="#1e4891"/><stop offset="1.0000" stop-color="#1f458d"/></linearGradient><linearGradient id="g20" x1="0" x2="1" y1="0" y2="0"><stop offset="0.0000" stop-color="#24386c"/><stop offset="0.0227" stop-color="#24386d"/><stop offset="0.0455" stop-color="#24396e"/><stop offset="0.0682" stop-color="#233970"/><stop offset="0.0909" stop-color="#233a71"/><stop offset="0.1136" stop-color="#233a72"/><stop offset="0.1364" stop-color="#233b73"/><stop offset="0.1591" stop-color="#233b74"/><stop offset="0.1818" stop-color="#233c76"/><stop offset="0.1900" stop-color="#223c76"/><stop offset="0.2045" stop-color="#1e4790"/><stop offset="0.2125" stop-color="#1c4f9a"/><stop offset="0.2273" stop-color="#1a58a4"/><stop offset="0.2375" stop-color="#1a5eaa"/><stop offset="0.2475" stop-color="#20b4e8"/><stop offset="0.2500" stop-color="#4bb8c6"/><stop offset="0.2600" stop-color="#dadc40"/><stop offset="0.2700" stop-color="#f3942c"/><stop offset="0.2727" stop-color="#f07b2a"/><stop offset="0.2825" stop-color="#e43228"/><stop offset="0.2955" stop-color="#e22528"/><stop offset="0.3100" stop-color="#d52127"/><stop offset="0.3182" stop-color="#bc1b25"/><stop offset="0.3240" stop-color="#a51823"/><stop offset="0.3325" stop-color="#dc2327"/><stop offset="0.3409" stop-color="#de2328"/><stop offset="0.3600" stop-color="#e22428"/><stop offset="0.3636" stop-color="#e53528"/><stop offset="0.3750" stop-color="#ee6e29"/><stop offset="0.3864" stop-color="#f28b2b"/><stop offset="0.3900" stop-color="#f3942c"/><stop offset="0.4050" stop-color="#ece232"/><stop offset="0.4091" stop-color="#dddd3d"/><stop offset="0.4300" stop-color="#96c77a"/><stop offset="0.4318" stop-color="#90c681"/><stop offset="0.4500" stop-color="#47b7c9"/><stop offset="0.4545" stop-color="#3ab6d4"/><stop offset="0.4700" stop-color="#20aae1"/><stop offset="0.4773" stop-color="#1f96d5"/><stop offset="0.4900" stop-color="#1c76be"/><stop offset="0.5000" stop-color="#1a6db7"/><stop offset="0.5227" stop-color="#195fab"/><stop offset="0.5250" stop-color="#1a5eaa"/><stop offset="0.5455" stop-color="#1a5eaa"/><stop offset="0.5682" stop-color="#1a5eaa"/><stop offset="0.5909" stop-color="#1a5eaa"/><stop offset="0.6136" stop-color="#1a5eaa"/><stop offset="0.6250" stop-color="#1a5eaa"/><stop offset="0.6364" stop-color="#1b6fb8"/><stop offset="0.6400" stop-color="#1c76be"/><stop offset="0.6460" stop-color="#33b6d9"/><stop offset="0.6500" stop-color="#88c48a"/><stop offset="0.6540" stop-color="#5ab9ba"/><stop offset="0.6575" stop-color="#1e8acd"/><stop offset="0.6591" stop-color="#1e8acd"/><stop offset="0.6818" stop-color="#1e8fd0"/><stop offset="0.7045" stop-color="#1e93d3"/><stop offset="0.7273" stop-color="#1f97d6"/><stop offset="0.7400" stop-color="#1f9ad7"/><stop offset="0.7500" stop-color="#1f9ad7"/><stop offset="0.7727" stop-color="#1f9ad7"/><stop offset="0.7955" stop-color="#1f9ad7"/><stop offset="0.8182" stop-color="#1f9ad7"/><stop offset="0.8200" stop-color="#1f9ad7"/><stop offset="0.8409" stop-color="#1e90d1"/><stop offset="0.8550" stop-color="#1e8acd"/><stop offset="0.8636" stop-color="#1d80c5"/><stop offset="0.8864" stop-color="#1a66b1"/><stop offset="0.8900" stop-color="#1962ae"/><stop offset="0.9091" stop-color="#1960ac"/><stop offset="0.9250" stop-color="#1a5eaa"/><stop offset="0.9318" stop-color="#1a5eaa"/><stop offset="0.9545" stop-color="#1a5da9"/><stop offset="0.9773" stop-color="#1a5da9"/><stop offset="1.0000" stop-color="#1a5ca8"/></linearGradient><linearGradient id="cbar" x1="0" x2="0" y1="0" y2="1"><stop offset="0.000" stop-color="#7a1422"/><stop offset="0.026" stop-color="#901623"/><stop offset="0.051" stop-color="#a61823"/><stop offset="0.077" stop-color="#ba1b24"/><stop offset="0.103" stop-color="#ca1f26"/><stop offset="0.128" stop-color="#db2227"/><stop offset="0.154" stop-color="#e42e28"/><stop offset="0.179" stop-color="#e74028"/><stop offset="0.205" stop-color="#ea5228"/><stop offset="0.231" stop-color="#ed6629"/><stop offset="0.256" stop-color="#f07e2a"/><stop offset="0.282" stop-color="#f3952c"/><stop offset="0.308" stop-color="#f4ac2d"/><stop offset="0.333" stop-color="#f1bf2f"/><stop offset="0.359" stop-color="#eed231"/><stop offset="0.385" stop-color="#e8e135"/><stop offset="0.410" stop-color="#d0d947"/><stop offset="0.436" stop-color="#b9d158"/><stop offset="0.462" stop-color="#a4cb6b"/><stop offset="0.487" stop-color="#91c680"/><stop offset="0.513" stop-color="#7fc194"/><stop offset="0.538" stop-color="#6cbca9"/><stop offset="0.564" stop-color="#56b9bd"/><stop offset="0.590" stop-color="#3db7d1"/><stop offset="0.615" stop-color="#24b4e4"/><stop offset="0.641" stop-color="#1fa9e1"/><stop offset="0.667" stop-color="#1f9cd8"/><stop offset="0.692" stop-color="#1e8ed0"/><stop offset="0.718" stop-color="#1d81c6"/><stop offset="0.744" stop-color="#1b74bc"/><stop offset="0.769" stop-color="#1a67b2"/><stop offset="0.795" stop-color="#195fab"/><stop offset="0.821" stop-color="#1a5aa6"/><stop offset="0.846" stop-color="#1b55a1"/><stop offset="0.872" stop-color="#1c4f9a"/><stop offset="0.897" stop-color="#1e4992"/><stop offset="0.923" stop-color="#1f448b"/><stop offset="0.949" stop-color="#214081"/><stop offset="0.974" stop-color="#223c76"/><stop offset="1.000" stop-color="#24386c"/></linearGradient><radialGradient id="rd" cx="0.4" cy="0.38" r="0.6" fx="0.36" fy="0.32"><stop offset="0" stop-color="#fbdddf"/><stop offset="0.32" stop-color="#e81e2d"/><stop offset="0.8" stop-color="#e81e2d"/><stop offset="1" stop-color="#be0f1e"/></radialGradient><radialGradient id="bl" cx="0.4" cy="0.38" r="0.6" fx="0.36" fy="0.32"><stop offset="0" stop-color="#dde4f0"/><stop offset="0.32" stop-color="#1e50a0"/><stop offset="0.8" stop-color="#1e50a0"/><stop offset="1" stop-color="#12377d"/></radialGradient><radialGradient id="gr" cx="0.4" cy="0.38" r="0.6" fx="0.36" fy="0.32"><stop offset="0" stop-color="#e7f3e4"/><stop offset="0.32" stop-color="#5faf4b"/><stop offset="0.8" stop-color="#5faf4b"/><stop offset="1" stop-color="#418c32"/></radialGradient><radialGradient id="pu" cx="0.4" cy="0.38" r="0.6" fx="0.36" fy="0.32"><stop offset="0" stop-color="#efe4f0"/><stop offset="0.32" stop-color="#96509b"/><stop offset="0.8" stop-color="#96509b"/><stop offset="1" stop-color="#733778"/></radialGradient></defs><g><rect x="385" y="24.00" width="247" height="3.00" fill="url(#g0)"/><rect x="385" y="26.70" width="247" height="7.30" fill="url(#g1)"/><rect x="385" y="33.70" width="247" height="7.30" fill="url(#g2)"/><rect x="385" y="40.70" width="247" height="7.30" fill="url(#g3)"/><rect x="385" y="47.70" width="247" height="7.30" fill="url(#g4)"/><rect x="385" y="54.70" width="247" height="7.30" fill="url(#g5)"/><rect x="385" y="61.70" width="247" height="7.30" fill="url(#g6)"/><rect x="385" y="68.70" width="247" height="7.30" fill="url(#g7)"/><rect x="385" y="75.70" width="247" height="7.30" fill="url(#g8)"/><rect x="385" y="82.70" width="247" height="7.30" fill="url(#g9)"/><rect x="385" y="89.70" width="247" height="7.30" fill="url(#g10)"/><rect x="385" y="96.70" width="247" height="7.30" fill="url(#g11)"/><rect x="385" y="103.70" width="247" height="7.30" fill="url(#g12)"/><rect x="385" y="110.70" width="247" height="7.30" fill="url(#g13)"/><rect x="385" y="117.70" width="247" height="7.30" fill="url(#g14)"/><rect x="385" y="124.70" width="247" height="7.30" fill="url(#g15)"/><rect x="385" y="131.70" width="247" height="7.30" fill="url(#g16)"/><rect x="385" y="138.70" width="247" height="7.30" fill="url(#g17)"/><rect x="385" y="145.70" width="247" height="7.30" fill="url(#g18)"/><rect x="385" y="152.70" width="247" height="7.30" fill="url(#g19)"/><rect x="385" y="159.70" width="247" height="81.30" fill="url(#g20)"/><rect x="548.2" y="159.7" width="2.2" height="81.3" fill="#3cc4f4" opacity="0.22"/><rect x="553.0" y="159.7" width="1.6" height="81.3" fill="#3cc4f4" opacity="0.12"/><rect x="559.5" y="159.7" width="2.4" height="81.3" fill="#3cc4f4" opacity="0.22"/><rect x="566.0" y="159.7" width="1.8" height="81.3" fill="#3cc4f4" opacity="0.12"/><rect x="572.6" y="159.7" width="3.0" height="81.3" fill="#3cc4f4" opacity="0.22"/><rect x="579.0" y="159.7" width="1.6" height="81.3" fill="#3cc4f4" opacity="0.12"/><rect x="584.0" y="159.7" width="2.4" height="81.3" fill="#3cc4f4" opacity="0.22"/><rect x="590.0" y="159.7" width="1.6" height="81.3" fill="#3cc4f4" opacity="0.12"/><rect x="594.6" y="159.7" width="2.4" height="81.3" fill="#3cc4f4" opacity="0.18"/><rect x="552.5" y="159.7" width="2.5" height="81.3" fill="#1a70c0" opacity="0.15"/><rect x="563.0" y="159.7" width="2.5" height="81.3" fill="#1a70c0" opacity="0.12"/><rect x="577.0" y="159.7" width="2.2" height="81.3" fill="#1a70c0" opacity="0.12"/><rect x="588.0" y="159.7" width="2.2" height="81.3" fill="#1a70c0" opacity="0.12"/><rect x="544.8" y="159.7" width="1.6" height="20" fill="#e8c040" opacity="0.7"/><rect x="544.8" y="159.7" width="1.6" height="7" fill="#e06030" opacity="0.8"/><rect x="457.0" y="159.7" width="2.0" height="81.3" fill="#a01822" opacity="0.35"/><rect x="469.8" y="159.7" width="2.0" height="81.3" fill="#a01822" opacity="0.30"/><rect x="461.0" y="159.7" width="1.5" height="81.3" fill="#f04040" opacity="0.20"/><text x="377" y="246.0" font-family="Liberation Sans, sans-serif" font-size="12" text-anchor="end" fill="#222">2.8</text><text x="377" y="209.8" font-family="Liberation Sans, sans-serif" font-size="12" text-anchor="end" fill="#222">3</text><text x="377" y="173.7" font-family="Liberation Sans, sans-serif" font-size="12" text-anchor="end" fill="#222">3.2</text><line x1="385" x2="387" y1="168.7" y2="168.7" stroke="#333" stroke-width="0.6"/><line x1="630" x2="632" y1="168.7" y2="168.7" stroke="#333" stroke-width="0.6"/><text x="377" y="137.5" font-family="Liberation Sans, sans-serif" font-size="12" text-anchor="end" fill="#222">3.4</text><text x="377" y="101.3" font-family="Liberation Sans, sans-serif" font-size="12" text-anchor="end" fill="#222">3.6</text><line x1="385" x2="387" y1="96.3" y2="96.3" stroke="#333" stroke-width="0.6"/><line x1="630" x2="632" y1="96.3" y2="96.3" stroke="#333" stroke-width="0.6"/><text x="377" y="65.2" font-family="Liberation Sans, sans-serif" font-size="12" text-anchor="end" fill="#222">3.8</text><text x="377" y="29.0" font-family="Liberation Sans, sans-serif" font-size="12" text-anchor="end" fill="#222">4</text><text x="385.0" y="259.5" font-family="Liberation Sans, sans-serif" font-size="12" text-anchor="middle" fill="#222">800</text><text x="446.8" y="259.5" font-family="Liberation Sans, sans-serif" font-size="12" text-anchor="middle" fill="#222">850</text><text x="508.5" y="259.5" font-family="Liberation Sans, sans-serif" font-size="12" text-anchor="middle" fill="#222">900</text><text x="570.2" y="259.5" font-family="Liberation Sans, sans-serif" font-size="12" text-anchor="middle" fill="#222">950</text><text x="632.0" y="259.5" font-family="Liberation Sans, sans-serif" font-size="12" text-anchor="middle" fill="#222">1000</text><text x="508.5" y="276.6" font-family="Liberation Sans, sans-serif" font-size="12.2" text-anchor="middle" fill="#222">Wavelength (nm)</text><text transform="translate(347,132.3) rotate(-90)" font-family="Liberation Sans, sans-serif" font-size="12.2" text-anchor="middle" fill="#222">Pump fluence (μJ/cm<tspan dy="-5" font-size="8.5">2</tspan><tspan dy="5"> per pulse)</tspan></text><rect x="651" y="24" width="10" height="217" fill="url(#cbar)" stroke="#333" stroke-width="0.6"/><text x="668" y="245.3" font-family="Liberation Sans, sans-serif" font-size="12" fill="#222">0</text><line x1="659" x2="661" y1="241.0" y2="241.0" stroke="#333" stroke-width="0.6"/><text x="668" y="202.1" font-family="Liberation Sans, sans-serif" font-size="12" fill="#222">0.2</text><line x1="659" x2="661" y1="197.6" y2="197.6" stroke="#333" stroke-width="0.6"/><text x="668" y="158.9" font-family="Liberation Sans, sans-serif" font-size="12" fill="#222">0.4</text><line x1="659" x2="661" y1="154.2" y2="154.2" stroke="#333" stroke-width="0.6"/><text x="668" y="115.7" font-family="Liberation Sans, sans-serif" font-size="12" fill="#222">0.6</text><line x1="659" x2="661" y1="110.8" y2="110.8" stroke="#333" stroke-width="0.6"/><text x="668" y="72.5" font-family="Liberation Sans, sans-serif" font-size="12" fill="#222">0.8</text><line x1="659" x2="661" y1="67.4" y2="67.4" stroke="#333" stroke-width="0.6"/><text x="668" y="29.3" font-family="Liberation Sans, sans-serif" font-size="12" fill="#222">1</text><line x1="659" x2="661" y1="24.0" y2="24.0" stroke="#333" stroke-width="0.6"/><text x="327" y="23" font-family="Liberation Sans, sans-serif" font-size="20" font-weight="bold" fill="#000">b</text></g><g><line x1="23.5" y1="307.5" x2="283.7" y2="307.5" stroke="#333" stroke-width="1"/><line x1="23.5" y1="516.0" x2="283.7" y2="516.0" stroke="#555" stroke-width="1"/><line x1="29.50" y1="516.0" x2="29.50" y2="519.0" stroke="#222" stroke-width="0.8"/><line x1="42.50" y1="516.0" x2="42.50" y2="519.0" stroke="#222" stroke-width="0.8"/><line x1="54.70" y1="516.0" x2="54.70" y2="519.0" stroke="#222" stroke-width="0.8"/><line x1="66.50" y1="516.0" x2="66.50" y2="519.0" stroke="#222" stroke-width="0.8"/><line x1="77.40" y1="516.0" x2="77.40" y2="519.0" stroke="#222" stroke-width="0.8"/><line x1="96.70" y1="516.0" x2="96.70" y2="519.0" stroke="#222" stroke-width="0.8"/><line x1="106.00" y1="516.0" x2="106.00" y2="519.0" stroke="#222" stroke-width="0.8"/><line x1="114.80" y1="516.0" x2="114.80" y2="519.0" stroke="#222" stroke-width="0.8"/><line x1="123.00" y1="516.0" x2="123.00" y2="519.0" stroke="#222" stroke-width="0.8"/><line x1="130.90" y1="516.0" x2="130.90" y2="519.0" stroke="#222" stroke-width="0.8"/><line x1="138.50" y1="516.0" x2="138.50" y2="519.0" stroke="#222" stroke-width="0.8"/><line x1="145.70" y1="516.0" x2="145.70" y2="519.0" stroke="#222" stroke-width="0.8"/><line x1="152.70" y1="516.0" x2="152.70" y2="519.0" stroke="#222" stroke-width="0.8"/><line x1="166.20" y1="516.0" x2="166.20" y2="519.0" stroke="#222" stroke-width="0.8"/><line x1="172.50" y1="516.0" x2="172.50" y2="519.0" stroke="#222" stroke-width="0.8"/><line x1="178.50" y1="516.0" x2="178.50" y2="519.0" stroke="#222" stroke-width="0.8"/><line x1="184.30" y1="516.0" x2="184.30" y2="519.0" stroke="#222" stroke-width="0.8"/><line x1="190.00" y1="516.0" x2="190.00" y2="519.0" stroke="#222" stroke-width="0.8"/><line x1="195.50" y1="516.0" x2="195.50" y2="519.0" stroke="#222" stroke-width="0.8"/><line x1="200.50" y1="516.0" x2="200.50" y2="519.0" stroke="#222" stroke-width="0.8"/><line x1="205.80" y1="516.0" x2="205.80" y2="519.0" stroke="#222" stroke-width="0.8"/><line x1="215.50" y1="516.0" x2="215.50" y2="519.0" stroke="#222" stroke-width="0.8"/><line x1="220.50" y1="516.0" x2="220.50" y2="519.0" stroke="#222" stroke-width="0.8"/><line x1="225.10" y1="516.0" x2="225.10" y2="519.0" stroke="#222" stroke-width="0.8"/><line x1="229.60" y1="516.0" x2="229.60" y2="519.0" stroke="#222" stroke-width="0.8"/><line x1="233.80" y1="516.0" x2="233.80" y2="519.0" stroke="#222" stroke-width="0.8"/><line x1="237.90" y1="516.0" x2="237.90" y2="519.0" stroke="#222" stroke-width="0.8"/><line x1="242.00" y1="516.0" x2="242.00" y2="519.0" stroke="#222" stroke-width="0.8"/><line x1="245.90" y1="516.0" x2="245.90" y2="519.0" stroke="#222" stroke-width="0.8"/><line x1="254.60" y1="516.0" x2="254.60" y2="519.0" stroke="#222" stroke-width="0.8"/><line x1="258.60" y1="516.0" x2="258.60" y2="519.0" stroke="#222" stroke-width="0.8"/><line x1="262.30" y1="516.0" x2="262.30" y2="519.0" stroke="#222" stroke-width="0.8"/><line x1="266.00" y1="516.0" x2="266.00" y2="519.0" stroke="#222" stroke-width="0.8"/><line x1="269.50" y1="516.0" x2="269.50" y2="519.0" stroke="#222" stroke-width="0.8"/><line x1="273.00" y1="516.0" x2="273.00" y2="519.0" stroke="#222" stroke-width="0.8"/><line x1="276.30" y1="516.0" x2="276.30" y2="519.0" stroke="#222" stroke-width="0.8"/><line x1="279.40" y1="516.0" x2="279.40" y2="519.0" stroke="#222" stroke-width="0.8"/><line x1="87.40" y1="516.0" x2="87.40" y2="521.0" stroke="#222" stroke-width="0.8"/><text x="87.4" y="535.7" font-family="Liberation Sans, sans-serif" font-size="12" text-anchor="middle" fill="#222">2</text><line x1="159.50" y1="516.0" x2="159.50" y2="521.0" stroke="#222" stroke-width="0.8"/><text x="159.5" y="535.7" font-family="Liberation Sans, sans-serif" font-size="12" text-anchor="middle" fill="#222">3</text><line x1="210.60" y1="516.0" x2="210.60" y2="521.0" stroke="#222" stroke-width="0.8"/><text x="210.6" y="535.7" font-family="Liberation Sans, sans-serif" font-size="12" text-anchor="middle" fill="#222">4</text><line x1="250.40" y1="516.0" x2="250.40" y2="521.0" stroke="#222" stroke-width="0.8"/><text x="250.4" y="535.7" font-family="Liberation Sans, sans-serif" font-size="12" text-anchor="middle" fill="#222">5</text><line x1="283.40" y1="516.0" x2="283.40" y2="521.0" stroke="#222" stroke-width="0.8"/><text x="283.4" y="535.7" font-family="Liberation Sans, sans-serif" font-size="12" text-anchor="middle" fill="#222">6</text><text x="153.5" y="553.8" font-family="Liberation Sans, sans-serif" font-size="12.2" text-anchor="middle" fill="#222">Pump fluence (μJ/cm<tspan dy="-5" font-size="8.5">2</tspan><tspan dy="5"> per pulse)</tspan></text><line x1="23.5" y1="307.5" x2="23.5" y2="516.0" stroke="#e8303c" stroke-width="1.1"/><line x1="18.5" y1="516.00" x2="23.5" y2="516.00" stroke="#e8303c" stroke-width="1"/><line x1="21.0" y1="495.08" x2="23.5" y2="495.08" stroke="#e8303c" stroke-width="0.9"/><line x1="21.0" y1="482.84" x2="23.5" y2="482.84" stroke="#e8303c" stroke-width="0.9"/><line x1="21.0" y1="474.16" x2="23.5" y2="474.16" stroke="#e8303c" stroke-width="0.9"/><line x1="21.0" y1="467.42" x2="23.5" y2="467.42" stroke="#e8303c" stroke-width="0.9"/><line x1="21.0" y1="461.92" x2="23.5" y2="461.92" stroke="#e8303c" stroke-width="0.9"/><line x1="21.0" y1="457.27" x2="23.5" y2="457.27" stroke="#e8303c" stroke-width="0.9"/><line x1="21.0" y1="453.24" x2="23.5" y2="453.24" stroke="#e8303c" stroke-width="0.9"/><line x1="21.0" y1="449.68" x2="23.5" y2="449.68" stroke="#e8303c" stroke-width="0.9"/><line x1="18.5" y1="446.50" x2="23.5" y2="446.50" stroke="#e8303c" stroke-width="1"/><line x1="21.0" y1="425.58" x2="23.5" y2="425.58" stroke="#e8303c" stroke-width="0.9"/><line x1="21.0" y1="413.34" x2="23.5" y2="413.34" stroke="#e8303c" stroke-width="0.9"/><line x1="21.0" y1="404.66" x2="23.5" y2="404.66" stroke="#e8303c" stroke-width="0.9"/><line x1="21.0" y1="397.92" x2="23.5" y2="397.92" stroke="#e8303c" stroke-width="0.9"/><line x1="21.0" y1="392.42" x2="23.5" y2="392.42" stroke="#e8303c" stroke-width="0.9"/><line x1="21.0" y1="387.77" x2="23.5" y2="387.77" stroke="#e8303c" stroke-width="0.9"/><line x1="21.0" y1="383.74" x2="23.5" y2="383.74" stroke="#e8303c" stroke-width="0.9"/><line x1="21.0" y1="380.18" x2="23.5" y2="380.18" stroke="#e8303c" stroke-width="0.9"/><line x1="18.5" y1="377.00" x2="23.5" y2="377.00" stroke="#e8303c" stroke-width="1"/><line x1="21.0" y1="356.08" x2="23.5" y2="356.08" stroke="#e8303c" stroke-width="0.9"/><line x1="21.0" y1="343.84" x2="23.5" y2="343.84" stroke="#e8303c" stroke-width="0.9"/><line x1="21.0" y1="335.16" x2="23.5" y2="335.16" stroke="#e8303c" stroke-width="0.9"/><line x1="21.0" y1="328.42" x2="23.5" y2="328.42" stroke="#e8303c" stroke-width="0.9"/><line x1="21.0" y1="322.92" x2="23.5" y2="322.92" stroke="#e8303c" stroke-width="0.9"/><line x1="21.0" y1="318.27" x2="23.5" y2="318.27" stroke="#e8303c" stroke-width="0.9"/><line x1="21.0" y1="314.24" x2="23.5" y2="314.24" stroke="#e8303c" stroke-width="0.9"/><line x1="21.0" y1="310.68" x2="23.5" y2="310.68" stroke="#e8303c" stroke-width="0.9"/><line x1="18.5" y1="307.50" x2="23.5" y2="307.50" stroke="#e8303c" stroke-width="1"/><text transform="translate(11,412) rotate(-90)" font-family="Liberation Sans, sans-serif" font-size="12" text-anchor="middle" fill="#e8303c">Intensity a.u. (log)</text><line x1="283.7" y1="307.5" x2="283.7" y2="516.0" stroke="#2a5fae" stroke-width="1.1"/><line x1="283.7" y1="515.78" x2="286.2" y2="515.78" stroke="#2a5fae" stroke-width="0.9"/><line x1="283.7" y1="511.83" x2="286.2" y2="511.83" stroke="#2a5fae" stroke-width="0.9"/><line x1="283.7" y1="508.30" x2="287.7" y2="508.30" stroke="#2a5fae" stroke-width="1"/><line x1="283.7" y1="485.06" x2="286.2" y2="485.06" stroke="#2a5fae" stroke-width="0.9"/><line x1="283.7" y1="471.47" x2="286.2" y2="471.47" stroke="#2a5fae" stroke-width="0.9"/><line x1="283.7" y1="461.82" x2="286.2" y2="461.82" stroke="#2a5fae" stroke-width="0.9"/><line x1="283.7" y1="454.34" x2="286.2" y2="454.34" stroke="#2a5fae" stroke-width="0.9"/><line x1="283.7" y1="448.23" x2="286.2" y2="448.23" stroke="#2a5fae" stroke-width="0.9"/><line x1="283.7" y1="443.06" x2="286.2" y2="443.06" stroke="#2a5fae" stroke-width="0.9"/><line x1="283.7" y1="438.58" x2="286.2" y2="438.58" stroke="#2a5fae" stroke-width="0.9"/><line x1="283.7" y1="434.63" x2="286.2" y2="434.63" stroke="#2a5fae" stroke-width="0.9"/><line x1="283.7" y1="431.10" x2="287.7" y2="431.10" stroke="#2a5fae" stroke-width="1"/><line x1="283.7" y1="407.86" x2="286.2" y2="407.86" stroke="#2a5fae" stroke-width="0.9"/><line x1="283.7" y1="394.27" x2="286.2" y2="394.27" stroke="#2a5fae" stroke-width="0.9"/><line x1="283.7" y1="384.62" x2="286.2" y2="384.62" stroke="#2a5fae" stroke-width="0.9"/><line x1="283.7" y1="377.14" x2="286.2" y2="377.14" stroke="#2a5fae" stroke-width="0.9"/><line x1="283.7" y1="371.03" x2="286.2" y2="371.03" stroke="#2a5fae" stroke-width="0.9"/><line x1="283.7" y1="365.86" x2="286.2" y2="365.86" stroke="#2a5fae" stroke-width="0.9"/><line x1="283.7" y1="361.38" x2="286.2" y2="361.38" stroke="#2a5fae" stroke-width="0.9"/><line x1="283.7" y1="357.43" x2="286.2" y2="357.43" stroke="#2a5fae" stroke-width="0.9"/><line x1="283.7" y1="353.90" x2="287.7" y2="353.90" stroke="#2a5fae" stroke-width="1"/><line x1="283.7" y1="330.66" x2="286.2" y2="330.66" stroke="#2a5fae" stroke-width="0.9"/><line x1="283.7" y1="317.07" x2="286.2" y2="317.07" stroke="#2a5fae" stroke-width="0.9"/><text x="291.6" y="512.4" font-family="Liberation Sans, sans-serif" font-size="12" fill="#2a5fae">1</text><text x="291.6" y="435.2" font-family="Liberation Sans, sans-serif" font-size="12" fill="#2a5fae">10</text><text x="291.6" y="358.0" font-family="Liberation Sans, sans-serif" font-size="12" fill="#2a5fae">100</text><text transform="translate(315.5,412) rotate(90)" font-family="Liberation Sans, sans-serif" font-size="12" text-anchor="middle" fill="#2a5fae">FWHM (meV)</text><circle cx="22.6" cy="490.6" r="2.55" fill="url(#rd)"/><circle cx="25.5" cy="488.1" r="2.55" fill="url(#rd)"/><circle cx="28.3" cy="489.1" r="2.55" fill="url(#rd)"/><circle cx="32.6" cy="484.8" r="2.55" fill="url(#rd)"/><circle cx="36.1" cy="482.8" r="2.55" fill="url(#rd)"/><circle cx="40.1" cy="479.1" r="2.55" fill="url(#rd)"/><circle cx="46.6" cy="478.1" r="2.55" fill="url(#rd)"/><circle cx="49.5" cy="474.8" r="2.55" fill="url(#rd)"/><circle cx="52.8" cy="473.3" r="2.55" fill="url(#rd)"/><circle cx="55.6" cy="474.2" r="2.55" fill="url(#rd)"/><circle cx="58.8" cy="472.3" r="2.55" fill="url(#rd)"/><circle cx="61.0" cy="470.9" r="2.55" fill="url(#rd)"/><circle cx="60.5" cy="466.6" r="2.55" fill="url(#rd)"/><circle cx="66.3" cy="468.7" r="2.55" fill="url(#rd)"/><circle cx="68.6" cy="465.1" r="2.55" fill="url(#rd)"/><circle cx="74.3" cy="461.8" r="2.55" fill="url(#rd)"/><circle cx="76.8" cy="461.6" r="2.55" fill="url(#rd)"/><circle cx="81.8" cy="459.0" r="2.55" fill="url(#rd)"/><circle cx="84.9" cy="459.0" r="2.55" fill="url(#rd)"/><circle cx="84.4" cy="452.6" r="2.55" fill="url(#rd)"/><circle cx="87.2" cy="453.6" r="2.55" fill="url(#rd)"/><circle cx="87.5" cy="456.5" r="2.55" fill="url(#rd)"/><circle cx="97.6" cy="450.1" r="2.55" fill="url(#rd)"/><circle cx="98.3" cy="446.5" r="2.55" fill="url(#rd)"/><circle cx="108.6" cy="439.0" r="2.55" fill="url(#rd)"/><circle cx="113.7" cy="438.3" r="2.55" fill="url(#rd)"/><circle cx="116.6" cy="436.9" r="2.55" fill="url(#rd)"/><circle cx="120.9" cy="436.1" r="2.55" fill="url(#rd)"/><circle cx="121.6" cy="432.6" r="2.55" fill="url(#rd)"/><circle cx="123.7" cy="428.2" r="2.55" fill="url(#rd)"/><circle cx="127.8" cy="422.9" r="2.55" fill="url(#rd)"/><circle cx="132.1" cy="426.8" r="2.55" fill="url(#rd)"/><circle cx="134.1" cy="413.9" r="2.55" fill="url(#rd)"/><circle cx="136.0" cy="416.8" r="2.55" fill="url(#rd)"/><circle cx="138.8" cy="407.1" r="2.55" fill="url(#rd)"/><circle cx="140.3" cy="402.8" r="2.55" fill="url(#rd)"/><circle cx="141.7" cy="398.5" r="2.55" fill="url(#rd)"/><circle cx="144.1" cy="395.2" r="2.55" fill="url(#rd)"/><circle cx="146.4" cy="389.5" r="2.55" fill="url(#rd)"/><circle cx="152.5" cy="385.1" r="2.55" fill="url(#rd)"/><circle cx="152.8" cy="382.3" r="2.55" fill="url(#rd)"/><circle cx="154.6" cy="377.2" r="2.55" fill="url(#rd)"/><circle cx="157.5" cy="375.5" r="2.55" fill="url(#rd)"/><circle cx="161.1" cy="372.2" r="2.55" fill="url(#rd)"/><circle cx="165.7" cy="366.5" r="2.55" fill="url(#rd)"/><circle cx="171.1" cy="360.7" r="2.55" fill="url(#rd)"/><circle cx="173.3" cy="365.7" r="2.55" fill="url(#rd)"/><circle cx="173.2" cy="365.9" r="2.55" fill="url(#rd)"/><circle cx="174.3" cy="358.3" r="2.55" fill="url(#rd)"/><circle cx="175.9" cy="362.1" r="2.55" fill="url(#rd)"/><circle cx="178.6" cy="353.0" r="2.55" fill="url(#rd)"/><circle cx="179.7" cy="356.2" r="2.55" fill="url(#rd)"/><circle cx="184.0" cy="352.4" r="2.55" fill="url(#rd)"/><circle cx="186.2" cy="348.6" r="2.55" fill="url(#rd)"/><circle cx="191.0" cy="345.4" r="2.55" fill="url(#rd)"/><circle cx="192.6" cy="347.6" r="2.55" fill="url(#rd)"/><circle cx="195.3" cy="344.3" r="2.55" fill="url(#rd)"/><circle cx="198.0" cy="342.2" r="2.55" fill="url(#rd)"/><circle cx="202.3" cy="341.6" r="2.55" fill="url(#rd)"/><circle cx="205.0" cy="339.5" r="2.55" fill="url(#rd)"/><circle cx="207.7" cy="337.9" r="2.55" fill="url(#rd)"/><circle cx="208.8" cy="339.5" r="2.55" fill="url(#rd)"/><circle cx="212.0" cy="334.6" r="2.55" fill="url(#rd)"/><circle cx="215.3" cy="334.1" r="2.55" fill="url(#rd)"/><circle cx="220.1" cy="332.5" r="2.55" fill="url(#rd)"/><circle cx="222.8" cy="331.4" r="2.55" fill="url(#rd)"/><circle cx="227.6" cy="329.8" r="2.55" fill="url(#rd)"/><circle cx="226.9" cy="330.4" r="2.55" fill="url(#rd)"/><circle cx="233.1" cy="328.0" r="2.55" fill="url(#rd)"/><circle cx="237.8" cy="326.6" r="2.55" fill="url(#rd)"/><circle cx="238.3" cy="328.5" r="2.55" fill="url(#rd)"/><circle cx="244.5" cy="324.7" r="2.55" fill="url(#rd)"/><circle cx="246.3" cy="323.7" r="2.55" fill="url(#rd)"/><circle cx="250.6" cy="323.7" r="2.55" fill="url(#rd)"/><circle cx="253.5" cy="322.8" r="2.55" fill="url(#rd)"/><circle cx="257.3" cy="321.8" r="2.55" fill="url(#rd)"/><circle cx="261.1" cy="320.4" r="2.55" fill="url(#rd)"/><circle cx="264.8" cy="320.9" r="2.55" fill="url(#rd)"/><circle cx="268.2" cy="319.9" r="2.55" fill="url(#rd)"/><circle cx="271.5" cy="319.4" r="2.55" fill="url(#rd)"/><circle cx="274.3" cy="319.0" r="2.55" fill="url(#rd)"/><circle cx="279.1" cy="318.5" r="2.55" fill="url(#rd)"/><circle cx="281.9" cy="318.0" r="2.55" fill="url(#rd)"/><circle cx="284.8" cy="318.5" r="2.55" fill="url(#rd)"/><circle cx="22.6" cy="324.6" r="2.55" fill="url(#bl)"/><circle cx="25.7" cy="325.5" r="2.55" fill="url(#bl)"/><circle cx="28.3" cy="325.7" r="2.55" fill="url(#bl)"/><circle cx="32.6" cy="326.5" r="2.55" fill="url(#bl)"/><circle cx="36.1" cy="326.9" r="2.55" fill="url(#bl)"/><circle cx="40.1" cy="327.5" r="2.55" fill="url(#bl)"/><circle cx="46.6" cy="327.5" r="2.55" fill="url(#bl)"/><circle cx="49.5" cy="327.2" r="2.55" fill="url(#bl)"/><circle cx="52.3" cy="327.5" r="2.55" fill="url(#bl)"/><circle cx="55.2" cy="327.9" r="2.55" fill="url(#bl)"/><circle cx="58.8" cy="328.3" r="2.55" fill="url(#bl)"/><circle cx="61.4" cy="329.8" r="2.55" fill="url(#bl)"/><circle cx="66.3" cy="330.8" r="2.55" fill="url(#bl)"/><circle cx="68.6" cy="330.1" r="2.55" fill="url(#bl)"/><circle cx="74.3" cy="331.8" r="2.55" fill="url(#bl)"/><circle cx="76.8" cy="331.2" r="2.55" fill="url(#bl)"/><circle cx="81.8" cy="342.7" r="2.55" fill="url(#bl)"/><circle cx="85.4" cy="337.5" r="2.55" fill="url(#bl)"/><circle cx="87.2" cy="346.1" r="2.55" fill="url(#bl)"/><circle cx="84.4" cy="350.5" r="2.55" fill="url(#bl)"/><circle cx="97.5" cy="349.9" r="2.55" fill="url(#bl)"/><circle cx="98.6" cy="353.2" r="2.55" fill="url(#bl)"/><circle cx="97.0" cy="355.0" r="2.55" fill="url(#bl)"/><circle cx="99.9" cy="356.9" r="2.55" fill="url(#bl)"/><circle cx="109.4" cy="360.7" r="2.55" fill="url(#bl)"/><circle cx="110.5" cy="359.6" r="2.55" fill="url(#bl)"/><circle cx="113.9" cy="360.4" r="2.55" fill="url(#bl)"/><circle cx="116.4" cy="364.7" r="2.55" fill="url(#bl)"/><circle cx="121.3" cy="364.3" r="2.55" fill="url(#bl)"/><circle cx="121.3" cy="368.3" r="2.55" fill="url(#bl)"/><circle cx="123.9" cy="374.4" r="2.55" fill="url(#bl)"/><circle cx="132.3" cy="375.8" r="2.55" fill="url(#bl)"/><circle cx="127.8" cy="390.5" r="2.55" fill="url(#bl)"/><circle cx="136.0" cy="491.0" r="2.55" fill="url(#bl)"/><circle cx="133.9" cy="495.5" r="2.55" fill="url(#bl)"/><circle cx="138.7" cy="502.4" r="2.55" fill="url(#bl)"/><circle cx="141.8" cy="503.2" r="2.55" fill="url(#bl)"/><circle cx="146.4" cy="502.4" r="2.55" fill="url(#bl)"/><circle cx="152.5" cy="500.9" r="2.55" fill="url(#bl)"/><circle cx="154.0" cy="498.6" r="2.55" fill="url(#bl)"/><circle cx="157.8" cy="496.3" r="2.55" fill="url(#bl)"/><circle cx="160.9" cy="495.1" r="2.55" fill="url(#bl)"/><circle cx="165.9" cy="492.0" r="2.55" fill="url(#bl)"/><circle cx="171.5" cy="487.9" r="2.55" fill="url(#bl)"/><circle cx="173.8" cy="487.1" r="2.55" fill="url(#bl)"/><circle cx="173.5" cy="491.7" r="2.55" fill="url(#bl)"/><circle cx="178.4" cy="484.1" r="2.55" fill="url(#bl)"/><circle cx="179.2" cy="487.1" r="2.55" fill="url(#bl)"/><circle cx="184.5" cy="484.9" r="2.55" fill="url(#bl)"/><circle cx="186.8" cy="480.7" r="2.55" fill="url(#bl)"/><circle cx="190.6" cy="478.8" r="2.55" fill="url(#bl)"/><circle cx="193.7" cy="478.8" r="2.55" fill="url(#bl)"/><circle cx="196.7" cy="476.5" r="2.55" fill="url(#bl)"/><circle cx="201.3" cy="476.0" r="2.55" fill="url(#bl)"/><circle cx="205.3" cy="474.7" r="2.55" fill="url(#bl)"/><circle cx="209.2" cy="472.7" r="2.55" fill="url(#bl)"/><circle cx="212.5" cy="469.4" r="2.55" fill="url(#bl)"/><circle cx="215.8" cy="468.8" r="2.55" fill="url(#bl)"/><circle cx="220.4" cy="468.1" r="2.55" fill="url(#bl)"/><circle cx="223.0" cy="467.1" r="2.55" fill="url(#bl)"/><circle cx="227.6" cy="466.5" r="2.55" fill="url(#bl)"/><circle cx="232.9" cy="465.2" r="2.55" fill="url(#bl)"/><circle cx="237.5" cy="464.4" r="2.55" fill="url(#bl)"/><circle cx="238.4" cy="460.9" r="2.55" fill="url(#bl)"/><circle cx="244.0" cy="457.9" r="2.55" fill="url(#bl)"/><circle cx="246.6" cy="457.6" r="2.55" fill="url(#bl)"/><circle cx="251.2" cy="456.9" r="2.55" fill="url(#bl)"/><circle cx="255.2" cy="456.3" r="2.55" fill="url(#bl)"/><circle cx="259.1" cy="455.6" r="2.55" fill="url(#bl)"/><circle cx="261.8" cy="453.7" r="2.55" fill="url(#bl)"/><circle cx="265.7" cy="451.7" r="2.55" fill="url(#bl)"/><circle cx="269.6" cy="451.0" r="2.55" fill="url(#bl)"/><circle cx="273.6" cy="449.7" r="2.55" fill="url(#bl)"/><circle cx="279.5" cy="449.1" r="2.55" fill="url(#bl)"/><circle cx="284.1" cy="448.7" r="2.55" fill="url(#bl)"/><ellipse cx="59.1" cy="468.7" rx="3.2" ry="13.6" fill="none" stroke="#222" stroke-width="0.7"/><path d="M60,455 L46,450.5" stroke="#222" stroke-width="0.8" fill="none"/><path d="M42.5,449.3 L47.5,448 L46.6,452.6 Z" fill="#222"/><ellipse cx="220.4" cy="468.8" rx="2.9" ry="13.8" fill="none" stroke="#222" stroke-width="0.7"/><path d="M221,455 L234.5,451.4" stroke="#222" stroke-width="0.8" fill="none"/><path d="M238.8,450.4 L233.6,449 L234.4,453.6 Z" fill="#222"/><text x="1.2" y="315.2" font-family="Liberation Sans, sans-serif" font-size="21" font-weight="bold" fill="#000">c</text></g><g><polygon points="14.23,195.51 110.05,115.82 108.87,0.52 9.05,72.85" fill="#e5e5f0"/><polygon points="110.05,115.82 264.29,160.06 269.09,40.51 108.87,0.52" fill="#e3ece3"/><polygon points="14.23,195.51 177.61,248.23 264.29,160.06 110.05,115.82" fill="#eeeeee"/><polyline points="33.55,201.74 128.36,121.07 127.86,5.26" stroke="#9a9a9a" stroke-width="0.5" fill="none"/><polyline points="53.30,208.11 147.05,126.43 147.25,10.10" stroke="#9a9a9a" stroke-width="0.5" fill="none"/><polyline points="73.30,214.57 165.97,131.86 166.89,15.00" stroke="#9a9a9a" stroke-width="0.5" fill="none"/><polyline points="93.57,221.11 185.12,137.35 186.78,19.97" stroke="#9a9a9a" stroke-width="0.5" fill="none"/><polyline points="114.12,227.74 204.51,142.91 206.92,24.99" stroke="#9a9a9a" stroke-width="0.5" fill="none"/><polyline points="134.93,234.45 224.13,148.54 227.31,30.08" stroke="#9a9a9a" stroke-width="0.5" fill="none"/><polyline points="156.04,241.26 244.00,154.24 247.98,35.24" stroke="#9a9a9a" stroke-width="0.5" fill="none"/><polyline points="15.72,68.02 20.62,190.20 183.42,242.32" stroke="#9a9a9a" stroke-width="0.5" fill="none"/><polyline points="38.80,51.30 42.72,171.81 203.47,221.93" stroke="#9a9a9a" stroke-width="0.5" fill="none"/><polyline points="60.99,35.22 64.01,154.11 222.74,202.33" stroke="#9a9a9a" stroke-width="0.5" fill="none"/><polyline points="82.34,19.75 84.52,137.05 241.27,183.47" stroke="#9a9a9a" stroke-width="0.5" fill="none"/><polyline points="102.90,4.85 104.31,120.59 259.12,165.32" stroke="#9a9a9a" stroke-width="0.5" fill="none"/><polyline points="14.23,195.51 177.61,248.23 264.29,160.06 269.09,40.51" stroke="#333" stroke-width="0.9" fill="none"/><line x1="33.55" y1="201.74" x2="31.28" y2="203.68" stroke="#222" stroke-width="0.9"/><line x1="53.30" y1="208.11" x2="51.05" y2="210.08" stroke="#222" stroke-width="0.9"/><line x1="73.30" y1="214.57" x2="71.08" y2="216.56" stroke="#222" stroke-width="0.9"/><line x1="93.57" y1="221.11" x2="91.37" y2="223.12" stroke="#222" stroke-width="0.9"/><line x1="114.12" y1="227.74" x2="111.94" y2="229.78" stroke="#222" stroke-width="0.9"/><line x1="134.93" y1="234.45" x2="132.79" y2="236.52" stroke="#222" stroke-width="0.9"/><line x1="156.04" y1="241.26" x2="153.92" y2="243.36" stroke="#222" stroke-width="0.9"/><line x1="183.42" y1="242.32" x2="187.20" y2="243.53" stroke="#222" stroke-width="0.9"/><line x1="203.47" y1="221.93" x2="207.20" y2="223.09" stroke="#222" stroke-width="0.9"/><line x1="222.74" y1="202.33" x2="226.42" y2="203.44" stroke="#222" stroke-width="0.9"/><line x1="241.27" y1="183.47" x2="244.90" y2="184.55" stroke="#222" stroke-width="0.9"/><line x1="259.12" y1="165.32" x2="262.70" y2="166.36" stroke="#222" stroke-width="0.9"/><polyline points="114.20,121.05 114.76,121.21 115.31,121.37 115.87,121.53 116.42,121.69 116.98,121.85 117.53,122.01 118.09,122.17 118.65,122.33 119.20,122.49 119.76,122.65 120.32,122.81 120.88,122.97 121.43,123.13 121.99,123.29 122.55,123.45 123.11,123.61 123.67,123.78 124.22,123.94 124.78,124.10 125.34,124.26 125.90,124.42 126.46,124.58 127.02,124.74 127.58,124.90 128.14,125.06 128.70,125.22 129.26,125.39 129.82,125.55 130.38,125.71 130.94,125.87 131.50,126.03 132.06,126.19 132.63,126.36 133.19,126.52 133.75,126.68 134.31,126.84 134.87,127.00 135.44,127.16 136.00,127.32 136.56,127.47 137.13,127.61 137.69,127.73 138.25,127.81 138.82,127.82 139.38,127.72 139.94,127.44 140.51,126.93 141.07,126.13 141.64,124.98 142.20,123.50 142.77,121.75 143.34,119.86 143.91,118.06 144.48,116.57 145.05,115.62 145.62,115.40 146.19,115.74 146.75,116.13 147.32,116.57 147.89,117.07 148.46,117.60 149.03,118.18 149.60,118.78 150.17,119.42 150.74,120.08 151.31,120.75 151.87,121.44 152.44,122.13 153.01,122.81 153.58,123.48 154.15,124.15 154.72,124.79 155.29,125.42 155.86,126.02 156.43,126.59 157.00,127.14 157.57,127.66 158.14,128.15 158.71,128.61 159.28,129.05 159.85,129.46 160.42,129.84 160.99,130.20 161.56,130.53 162.14,130.84 162.71,131.13 163.28,131.39 163.85,131.64 164.43,131.86 165.00,132.06 165.58,132.24 166.15,132.39 166.72,132.50 167.30,132.58 167.88,132.60 168.45,132.56 169.03,132.41 169.61,132.09 170.00,131.72 170.06,131.65 170.12,131.57 170.18,131.49 170.23,131.40 170.29,131.30 170.35,131.19 170.41,131.08 170.47,130.96 170.53,130.82 170.59,130.67 170.65,130.51 170.71,130.34 170.77,130.14 170.83,129.93 170.89,129.69 170.95,129.43 171.01,129.13 171.07,128.80 171.13,128.43 171.19,128.02 171.25,127.54 171.32,127.00 171.38,126.37 171.45,125.65 171.51,124.81 171.58,123.81 171.65,122.63 171.72,121.22 171.80,119.52 171.87,117.43 171.96,114.85 172.05,111.61 172.15,107.52 172.26,102.27 172.38,95.52 172.52,86.80 172.69,75.73 172.88,62.21 173.09,47.20 173.29,33.50 173.42,25.77 173.47,27.44 173.42,37.73 173.34,52.30 173.25,67.00 173.18,79.73 173.14,89.98 173.12,97.98 173.11,104.18 173.12,109.00 173.14,112.77 173.17,115.77 173.20,118.17 173.24,120.12 173.28,121.72 173.33,123.05 173.38,124.16 173.42,125.10 173.47,125.91 173.52,126.60 173.58,127.20 173.63,127.73 173.68,128.19 173.74,128.60 173.79,128.96 173.84,129.29 173.90,129.58 173.96,129.85 174.01,130.09 174.07,130.31 174.12,130.51 174.18,130.69 174.23,130.86 174.29,131.02 174.35,131.17 174.40,131.31 174.46,131.43 174.52,131.55 174.57,131.67 174.63,131.77 175.39,132.80 176.16,133.47 176.93,134.00 177.70,134.46 178.47,134.87 179.24,135.27 180.01,135.65 180.78,136.01 181.55,136.37 182.32,136.72 183.10,137.07 183.87,137.41 184.64,137.74 185.41,138.07 186.19,138.40 186.96,138.72 187.74,139.05 188.51,139.36 189.29,139.68 190.06,139.99 190.84,140.30 191.62,140.60 192.40,140.91 193.17,141.21 193.95,141.51 194.73,141.81 195.51,142.10 196.29,142.40 197.07,142.69 197.85,142.98 198.63,143.26 199.41,143.55 200.19,143.83 200.97,144.12 201.75,144.40 202.53,144.68 203.32,144.96 204.10,145.23 204.88,145.51 205.66,145.78 206.45,146.05 207.23,146.33 208.02,146.60 208.80,146.87 209.59,147.13 210.38,147.40 211.16,147.67 211.95,147.93 212.74,148.19 213.52,148.46 214.31,148.72 215.10,148.98 215.89,149.24 216.68,149.50 217.47,149.76 218.26,150.02 219.05,150.27 219.84,150.53 220.63,150.79 221.42,151.04 222.21,151.29 223.01,151.55 223.80,151.80 224.59,152.05 225.39,152.30 226.18,152.56 226.97,152.81 227.77,153.06 228.56,153.31 229.36,153.56 230.16,153.80 230.95,154.05 231.75,154.30 232.55,154.55 233.34,154.80 234.14,155.04 234.94,155.29 235.74,155.53 236.54,155.78 237.34,156.03 238.14,156.27 238.94,156.52 239.74,156.76 240.54,157.00 241.34,157.25 242.14,157.49 242.95,157.73 243.75,157.98 244.55,158.22 245.36,158.46 246.16,158.71 246.96,158.95 247.77,159.19 248.57,159.43" stroke="#dc5896" stroke-width="1.15" fill="none" stroke-linejoin="round"/><polyline points="109.01,125.41 109.57,125.57 110.13,125.73 110.68,125.89 111.24,126.05 111.80,126.21 112.36,126.38 112.91,126.54 113.47,126.70 114.03,126.86 114.59,127.02 115.15,127.19 115.71,127.35 116.27,127.51 116.83,127.67 117.39,127.83 117.95,128.00 118.51,128.16 119.07,128.32 119.63,128.48 120.19,128.65 120.75,128.81 121.31,128.97 121.87,129.13 122.43,129.30 122.99,129.46 123.56,129.62 124.12,129.79 124.68,129.95 125.24,130.11 125.81,130.28 126.37,130.44 126.93,130.60 127.49,130.76 128.06,130.93 128.62,131.09 129.19,131.25 129.75,131.42 130.31,131.58 130.88,131.74 131.44,131.89 132.01,132.04 132.57,132.16 133.14,132.25 133.70,132.26 134.27,132.17 134.83,131.92 135.40,131.44 135.96,130.68 136.53,129.60 137.09,128.19 137.66,126.53 138.23,124.74 138.79,123.03 139.36,121.62 139.93,120.73 140.50,120.52 141.07,120.86 141.64,121.24 142.22,121.67 142.79,122.15 143.36,122.67 143.93,123.23 144.50,123.82 145.07,124.43 145.64,125.07 146.22,125.72 146.79,126.38 147.36,127.05 147.93,127.71 148.50,128.36 149.07,129.00 149.64,129.63 150.22,130.23 150.79,130.82 151.36,131.37 151.93,131.90 152.51,132.41 153.08,132.89 153.65,133.34 154.22,133.76 154.80,134.16 155.37,134.54 155.94,134.89 156.52,135.22 157.09,135.52 157.67,135.81 158.24,136.07 158.82,136.32 159.39,136.54 159.97,136.75 160.54,136.93 161.12,137.08 161.70,137.21 162.27,137.29 162.85,137.33 163.43,137.30 164.01,137.18 164.59,136.89 164.98,136.54 165.04,136.47 165.10,136.39 165.15,136.31 165.21,136.22 165.27,136.13 165.33,136.03 165.39,135.92 165.45,135.79 165.51,135.66 165.57,135.52 165.63,135.36 165.68,135.18 165.74,134.99 165.80,134.78 165.86,134.55 165.92,134.28 165.98,133.99 166.04,133.66 166.11,133.29 166.17,132.88 166.23,132.40 166.29,131.86 166.35,131.23 166.42,130.50 166.48,129.66 166.55,128.66 166.62,127.47 166.69,126.05 166.76,124.32 166.83,122.22 166.91,119.61 167.00,116.34 167.09,112.20 167.19,106.89 167.31,100.05 167.44,91.24 167.59,80.02 167.76,66.33 167.95,51.12 168.12,37.25 168.25,29.40 168.29,31.10 168.27,41.53 168.20,56.29 168.14,71.20 168.09,84.09 168.06,94.47 168.05,102.58 168.06,108.86 168.07,113.74 168.10,117.56 168.13,120.60 168.17,123.03 168.21,125.00 168.25,126.62 168.30,127.96 168.35,129.09 168.40,130.04 168.45,130.86 168.50,131.56 168.56,132.17 168.61,132.70 168.66,133.16 168.72,133.58 168.77,133.94 168.83,134.27 168.88,134.57 168.94,134.83 169.00,135.08 169.05,135.30 169.11,135.50 169.16,135.69 169.22,135.86 169.28,136.02 169.34,136.17 169.39,136.30 169.45,136.43 169.51,136.55 169.56,136.67 169.62,136.77 170.39,137.80 171.16,138.46 171.93,138.98 172.70,139.42 173.47,139.83 174.24,140.22 175.02,140.59 175.79,140.95 176.57,141.30 177.34,141.64 178.12,141.97 178.89,142.31 179.67,142.63 180.45,142.96 181.22,143.28 182.00,143.60 182.78,143.91 183.56,144.22 184.33,144.53 185.11,144.84 185.89,145.14 186.67,145.44 187.45,145.74 188.23,146.04 189.01,146.33 189.79,146.62 190.57,146.91 191.36,147.20 192.14,147.49 192.92,147.78 193.70,148.06 194.49,148.34 195.27,148.62 196.06,148.90 196.84,149.18 197.62,149.46 198.41,149.73 199.20,150.01 199.98,150.28 200.77,150.55 201.56,150.82 202.34,151.09 203.13,151.36 203.92,151.63 204.71,151.90 205.50,152.16 206.28,152.43 207.07,152.69 207.86,152.95 208.65,153.21 209.45,153.47 210.24,153.73 211.03,153.99 211.82,154.25 212.61,154.51 213.41,154.77 214.20,155.02 214.99,155.28 215.79,155.53 216.58,155.79 217.38,156.04 218.17,156.30 218.97,156.55 219.76,156.80 220.56,157.05 221.36,157.31 222.15,157.56 222.95,157.81 223.75,158.06 224.55,158.31 225.35,158.56 226.15,158.81 226.94,159.05 227.74,159.30 228.55,159.55 229.35,159.80 230.15,160.04 230.95,160.29 231.75,160.54 232.55,160.78 233.36,161.03 234.16,161.28 234.96,161.52 235.77,161.77 236.57,162.01 237.38,162.26 238.18,162.50 238.99,162.74 239.79,162.99 240.60,163.23 241.41,163.48 242.21,163.72 243.02,163.96 243.83,164.21" stroke="#ac4c9a" stroke-width="1.15" fill="none" stroke-linejoin="round"/><polyline points="103.77,129.81 104.33,129.97 104.89,130.13 105.45,130.30 106.01,130.46 106.57,130.62 107.13,130.79 107.69,130.95 108.25,131.11 108.81,131.28 109.37,131.44 109.93,131.60 110.49,131.77 111.05,131.93 111.61,132.09 112.17,132.26 112.73,132.42 113.30,132.59 113.86,132.75 114.42,132.91 114.98,133.08 115.55,133.24 116.11,133.41 116.67,133.57 117.23,133.74 117.80,133.90 118.36,134.06 118.93,134.23 119.49,134.39 120.05,134.56 120.62,134.72 121.18,134.89 121.75,135.05 122.31,135.22 122.88,135.38 123.44,135.55 124.01,135.71 124.58,135.88 125.14,136.04 125.71,136.20 126.28,136.36 126.84,136.51 127.41,136.63 127.98,136.72 128.54,136.75 129.11,136.67 129.68,136.44 130.24,135.99 130.81,135.28 131.37,134.25 131.94,132.92 132.50,131.35 133.07,129.65 133.63,128.03 134.20,126.69 134.77,125.86 135.34,125.67 135.91,126.00 136.49,126.37 137.06,126.79 137.63,127.26 138.21,127.76 138.78,128.30 139.36,128.87 139.93,129.47 140.50,130.09 141.08,130.72 141.65,131.36 142.23,132.00 142.80,132.64 143.37,133.27 143.95,133.89 144.52,134.50 145.10,135.08 145.67,135.65 146.25,136.19 146.82,136.71 147.39,137.20 147.97,137.66 148.54,138.10 149.12,138.52 149.70,138.91 150.27,139.27 150.85,139.62 151.42,139.94 152.00,140.25 152.58,140.53 153.15,140.80 153.73,141.04 154.31,141.27 154.88,141.48 155.46,141.66 156.04,141.82 156.62,141.96 157.20,142.06 157.78,142.11 158.36,142.11 158.94,142.01 159.52,141.76 159.91,141.44 159.97,141.37 160.03,141.30 160.08,141.23 160.14,141.15 160.20,141.06 160.26,140.96 160.32,140.86 160.38,140.74 160.44,140.62 160.50,140.48 160.55,140.33 160.61,140.17 160.67,139.99 160.73,139.79 160.79,139.56 160.85,139.31 160.91,139.03 160.97,138.72 161.03,138.37 161.09,137.97 161.15,137.51 161.22,136.99 161.28,136.38 161.34,135.68 161.40,134.86 161.47,133.90 161.53,132.75 161.60,131.38 161.67,129.72 161.74,127.68 161.82,125.15 161.90,121.99 161.98,117.98 162.07,112.85 162.17,106.22 162.29,97.68 162.42,86.82 162.57,73.57 162.73,58.85 162.87,45.42 162.99,37.82 163.03,39.47 163.03,49.56 162.99,63.86 162.95,78.29 162.93,90.79 162.92,100.84 162.92,108.70 162.94,114.79 162.97,119.52 163.00,123.23 163.04,126.17 163.08,128.52 163.13,130.44 163.17,132.01 163.22,133.31 163.27,134.40 163.33,135.33 163.38,136.11 163.43,136.79 163.49,137.38 163.54,137.90 163.60,138.35 163.65,138.75 163.71,139.11 163.76,139.43 163.82,139.71 163.88,139.97 163.93,140.21 163.99,140.42 164.05,140.62 164.10,140.80 164.16,140.96 164.22,141.12 164.27,141.26 164.33,141.40 164.39,141.52 164.45,141.64 164.50,141.75 164.56,141.85 165.33,142.85 166.10,143.49 166.88,143.99 167.65,144.42 168.43,144.82 169.21,145.20 169.98,145.56 170.76,145.91 171.54,146.25 172.31,146.58 173.09,146.91 173.87,147.23 174.65,147.55 175.43,147.87 176.21,148.18 176.99,148.50 177.77,148.80 178.55,149.11 179.33,149.41 180.11,149.71 180.89,150.01 181.68,150.31 182.46,150.60 183.24,150.89 184.03,151.18 184.81,151.47 185.59,151.76 186.38,152.05 187.16,152.33 187.95,152.61 188.73,152.89 189.52,153.17 190.31,153.45 191.09,153.73 191.88,154.00 192.67,154.28 193.46,154.55 194.25,154.82 195.03,155.09 195.82,155.36 196.61,155.63 197.40,155.90 198.19,156.17 198.98,156.43 199.78,156.70 200.57,156.96 201.36,157.22 202.15,157.49 202.94,157.75 203.74,158.01 204.53,158.27 205.33,158.53 206.12,158.79 206.91,159.04 207.71,159.30 208.51,159.56 209.30,159.82 210.10,160.07 210.89,160.33 211.69,160.58 212.49,160.83 213.29,161.09 214.09,161.34 214.89,161.59 215.68,161.85 216.48,162.10 217.28,162.35 218.08,162.60 218.89,162.85 219.69,163.10 220.49,163.35 221.29,163.60 222.09,163.85 222.90,164.10 223.70,164.35 224.50,164.60 225.31,164.84 226.11,165.09 226.92,165.34 227.72,165.59 228.53,165.83 229.33,166.08 230.14,166.33 230.95,166.57 231.75,166.82 232.56,167.07 233.37,167.31 234.18,167.56 234.99,167.80 235.80,168.05 236.61,168.29 237.42,168.54 238.23,168.78 239.04,169.03" stroke="#7650a2" stroke-width="1.15" fill="none" stroke-linejoin="round"/><polyline points="98.48,134.25 99.04,134.41 99.60,134.58 100.16,134.74 100.72,134.91 101.29,135.07 101.85,135.24 102.41,135.40 102.97,135.57 103.53,135.73 104.09,135.90 104.66,136.06 105.22,136.23 105.78,136.39 106.35,136.56 106.91,136.72 107.47,136.89 108.04,137.06 108.60,137.22 109.16,137.39 109.73,137.55 110.29,137.72 110.86,137.88 111.42,138.05 111.99,138.22 112.55,138.38 113.12,138.55 113.68,138.72 114.25,138.88 114.82,139.05 115.38,139.21 115.95,139.38 116.52,139.55 117.08,139.71 117.65,139.88 118.22,140.05 118.78,140.21 119.35,140.38 119.92,140.54 120.49,140.71 121.06,140.87 121.62,141.02 122.19,141.15 122.76,141.24 123.33,141.27 123.90,141.21 124.47,141.00 125.03,140.59 125.60,139.91 126.16,138.95 126.73,137.69 127.29,136.20 127.86,134.59 128.42,133.06 128.99,131.79 129.56,131.00 130.13,130.84 130.71,131.16 131.28,131.52 131.86,131.93 132.43,132.39 133.01,132.88 133.58,133.40 134.16,133.95 134.74,134.53 135.31,135.13 135.89,135.74 136.47,136.36 137.04,136.98 137.62,137.60 138.20,138.21 138.77,138.81 139.35,139.40 139.93,139.97 140.50,140.51 141.08,141.04 141.66,141.54 142.24,142.02 142.81,142.47 143.39,142.90 143.97,143.31 144.54,143.69 145.12,144.05 145.70,144.39 146.28,144.71 146.86,145.01 147.44,145.29 148.01,145.55 148.59,145.80 149.17,146.03 149.75,146.24 150.33,146.43 150.91,146.60 151.49,146.74 152.07,146.85 152.65,146.92 153.24,146.94 153.82,146.86 154.40,146.64 154.79,146.34 154.85,146.28 154.91,146.22 154.97,146.14 155.02,146.07 155.08,145.98 155.14,145.89 155.20,145.79 155.26,145.68 155.32,145.57 155.38,145.43 155.44,145.29 155.49,145.13 155.55,144.96 155.61,144.76 155.67,144.54 155.73,144.30 155.79,144.03 155.85,143.72 155.91,143.38 155.97,142.99 156.03,142.54 156.09,142.03 156.15,141.44 156.21,140.75 156.28,139.95 156.34,139.00 156.40,137.88 156.47,136.53 156.54,134.89 156.60,132.88 156.67,130.39 156.75,127.27 156.83,123.32 156.91,118.26 157.00,111.72 157.10,103.30 157.21,92.58 157.34,79.51 157.47,64.98 157.60,51.74 157.69,44.24 157.75,45.86 157.76,55.82 157.74,69.93 157.73,84.18 157.73,96.51 157.74,106.44 157.75,114.20 157.78,120.21 157.82,124.88 157.86,128.54 157.90,131.44 157.95,133.77 158.00,135.66 158.05,137.21 158.10,138.49 158.15,139.57 158.20,140.48 158.26,141.26 158.31,141.93 158.37,142.52 158.42,143.02 158.48,143.47 158.54,143.86 158.59,144.22 158.65,144.53 158.71,144.81 158.76,145.07 158.82,145.30 158.88,145.51 158.94,145.70 158.99,145.88 159.05,146.05 159.11,146.20 159.17,146.34 159.22,146.47 159.28,146.59 159.34,146.71 159.40,146.82 159.46,146.92 160.23,147.90 161.01,148.52 161.78,149.01 162.56,149.44 163.34,149.83 164.12,150.19 164.90,150.54 165.68,150.89 166.46,151.22 167.24,151.55 168.02,151.87 168.80,152.18 169.58,152.50 170.36,152.81 171.15,153.12 171.93,153.42 172.71,153.72 173.50,154.02 174.28,154.32 175.06,154.62 175.85,154.91 176.63,155.20 177.42,155.49 178.20,155.78 178.99,156.07 179.78,156.35 180.56,156.64 181.35,156.92 182.14,157.20 182.93,157.48 183.72,157.76 184.50,158.03 185.29,158.31 186.08,158.58 186.87,158.86 187.66,159.13 188.46,159.40 189.25,159.67 190.04,159.94 190.83,160.21 191.62,160.48 192.42,160.74 193.21,161.01 194.00,161.27 194.80,161.54 195.59,161.80 196.39,162.06 197.18,162.32 197.98,162.58 198.77,162.84 199.57,163.10 200.37,163.36 201.16,163.62 201.96,163.88 202.76,164.14 203.56,164.39 204.36,164.65 205.16,164.90 205.95,165.16 206.75,165.41 207.56,165.67 208.36,165.92 209.16,166.18 209.96,166.43 210.76,166.68 211.56,166.93 212.37,167.19 213.17,167.44 213.97,167.69 214.78,167.94 215.58,168.19 216.39,168.44 217.19,168.69 218.00,168.94 218.80,169.19 219.61,169.44 220.42,169.69 221.23,169.94 222.03,170.19 222.84,170.43 223.65,170.68 224.46,170.93 225.27,171.18 226.08,171.43 226.89,171.67 227.70,171.92 228.51,172.17 229.32,172.41 230.13,172.66 230.95,172.91 231.76,173.16 232.57,173.40 233.39,173.65 234.20,173.89" stroke="#4e56aa" stroke-width="1.15" fill="none" stroke-linejoin="round"/><polyline points="93.14,138.74 93.70,138.90 94.26,139.07 94.83,139.23 95.39,139.40 95.95,139.57 96.52,139.73 97.08,139.90 97.64,140.07 98.21,140.23 98.77,140.40 99.33,140.57 99.90,140.73 100.46,140.90 101.03,141.07 101.59,141.24 102.16,141.40 102.72,141.57 103.29,141.74 103.86,141.90 104.42,142.07 104.99,142.24 105.55,142.41 106.12,142.57 106.69,142.74 107.25,142.91 107.82,143.08 108.39,143.25 108.96,143.41 109.53,143.58 110.09,143.75 110.66,143.92 111.23,144.09 111.80,144.25 112.37,144.42 112.94,144.59 113.51,144.76 114.08,144.93 114.65,145.09 115.22,145.26 115.79,145.42 116.36,145.57 116.93,145.70 117.50,145.80 118.07,145.85 118.64,145.79 119.21,145.60 119.77,145.22 120.34,144.59 120.91,143.68 121.47,142.49 122.03,141.08 122.60,139.56 123.16,138.11 123.73,136.92 124.30,136.18 124.87,136.02 125.45,136.34 126.03,136.70 126.60,137.10 127.18,137.54 127.76,138.02 128.34,138.52 128.92,139.06 129.49,139.62 130.07,140.20 130.65,140.79 131.23,141.39 131.81,141.99 132.39,142.59 132.97,143.18 133.55,143.77 134.13,144.33 134.71,144.88 135.29,145.42 135.87,145.93 136.45,146.41 137.03,146.88 137.60,147.32 138.18,147.74 138.76,148.13 139.34,148.51 139.92,148.86 140.50,149.20 141.08,149.51 141.66,149.81 142.25,150.09 142.83,150.35 143.41,150.60 143.99,150.83 144.57,151.04 145.15,151.24 145.73,151.41 146.32,151.57 146.90,151.69 147.48,151.78 148.06,151.81 148.65,151.76 149.23,151.57 149.62,151.31 149.68,151.25 149.74,151.19 149.80,151.13 149.86,151.06 149.91,150.98 149.97,150.90 150.03,150.80 150.09,150.70 150.15,150.59 150.21,150.47 150.27,150.33 150.33,150.18 150.38,150.02 150.44,149.84 150.50,149.63 150.56,149.40 150.62,149.15 150.68,148.86 150.74,148.53 150.80,148.16 150.86,147.73 150.92,147.25 150.98,146.68 151.04,146.03 151.10,145.26 151.16,144.36 151.22,143.28 151.29,141.99 151.35,140.42 151.41,138.49 151.48,136.11 151.55,133.12 151.62,129.33 151.69,124.47 151.77,118.21 151.86,110.13 151.95,99.85 152.05,87.31 152.16,73.39 152.26,60.70 152.35,53.52 152.40,55.07 152.43,64.62 152.44,78.15 152.46,91.81 152.47,103.64 152.50,113.17 152.53,120.61 152.57,126.38 152.62,130.87 152.66,134.38 152.71,137.17 152.76,139.40 152.82,141.22 152.87,142.71 152.92,143.94 152.98,144.98 153.03,145.86 153.09,146.60 153.15,147.25 153.20,147.81 153.26,148.29 153.32,148.72 153.37,149.10 153.43,149.44 153.49,149.74 153.55,150.01 153.60,150.26 153.66,150.48 153.72,150.69 153.78,150.87 153.83,151.04 153.89,151.20 153.95,151.35 154.01,151.48 154.07,151.61 154.12,151.73 154.18,151.84 154.24,151.94 154.30,152.04 155.08,152.99 155.86,153.59 156.64,154.07 157.42,154.48 158.20,154.86 158.98,155.22 159.76,155.56 160.55,155.89 161.33,156.22 162.11,156.54 162.90,156.85 163.68,157.16 164.46,157.47 165.25,157.78 166.03,158.08 166.82,158.38 167.60,158.67 168.39,158.97 169.18,159.26 169.96,159.55 170.75,159.84 171.54,160.13 172.33,160.42 173.12,160.70 173.91,160.99 174.70,161.27 175.48,161.55 176.28,161.83 177.07,162.11 177.86,162.38 178.65,162.66 179.44,162.93 180.23,163.21 181.02,163.48 181.82,163.75 182.61,164.02 183.40,164.29 184.20,164.56 184.99,164.83 185.79,165.09 186.58,165.36 187.38,165.62 188.17,165.89 188.97,166.15 189.77,166.41 190.56,166.68 191.36,166.94 192.16,167.20 192.96,167.46 193.76,167.72 194.56,167.98 195.36,168.24 196.16,168.50 196.96,168.75 197.76,169.01 198.56,169.27 199.36,169.52 200.16,169.78 200.97,170.04 201.77,170.29 202.57,170.55 203.38,170.80 204.18,171.05 204.98,171.31 205.79,171.56 206.59,171.81 207.40,172.07 208.21,172.32 209.01,172.57 209.82,172.82 210.63,173.07 211.43,173.32 212.24,173.58 213.05,173.83 213.86,174.08 214.67,174.33 215.48,174.58 216.29,174.83 217.10,175.08 217.91,175.33 218.72,175.58 219.54,175.83 220.35,176.08 221.16,176.32 221.97,176.57 222.79,176.82 223.60,177.07 224.42,177.32 225.23,177.57 226.05,177.82 226.86,178.06 227.68,178.31 228.49,178.56 229.31,178.81" stroke="#3a64b6" stroke-width="1.15" fill="none" stroke-linejoin="round"/><polyline points="87.75,143.26 88.31,143.43 88.87,143.60 89.44,143.77 90.00,143.94 90.57,144.11 91.13,144.27 91.70,144.44 92.26,144.61 92.83,144.78 93.39,144.95 93.96,145.12 94.53,145.28 95.09,145.45 95.66,145.62 96.23,145.79 96.79,145.96 97.36,146.13 97.93,146.30 98.50,146.47 99.06,146.63 99.63,146.80 100.20,146.97 100.77,147.14 101.34,147.31 101.91,147.48 102.47,147.65 103.04,147.82 103.61,147.99 104.18,148.16 104.75,148.33 105.32,148.50 105.89,148.67 106.46,148.84 107.03,149.01 107.61,149.18 108.18,149.35 108.75,149.52 109.32,149.69 109.89,149.85 110.46,150.02 111.04,150.17 111.61,150.31 112.18,150.41 112.75,150.46 113.32,150.42 113.89,150.25 114.46,149.89 115.03,149.30 115.59,148.45 116.16,147.33 116.72,146.00 117.28,144.56 117.85,143.19 118.42,142.06 118.99,141.37 119.56,141.23 120.14,141.54 120.72,141.89 121.30,142.29 121.88,142.71 122.46,143.18 123.04,143.67 123.62,144.19 124.20,144.74 124.78,145.30 125.37,145.87 125.95,146.45 126.53,147.03 127.11,147.61 127.69,148.19 128.27,148.75 128.86,149.30 129.44,149.83 130.02,150.35 130.60,150.85 131.18,151.32 131.76,151.77 132.35,152.20 132.93,152.61 133.51,153.00 134.09,153.37 134.67,153.72 135.26,154.04 135.84,154.35 136.42,154.65 137.00,154.93 137.59,155.19 138.17,155.44 138.75,155.67 139.34,155.89 139.92,156.09 140.50,156.27 141.09,156.43 141.67,156.57 142.26,156.67 142.84,156.73 143.43,156.71 144.01,156.56 144.40,156.33 144.46,156.28 144.52,156.23 144.58,156.17 144.64,156.11 144.69,156.04 144.75,155.97 144.81,155.88 144.87,155.79 144.93,155.69 144.99,155.58 145.05,155.46 145.11,155.32 145.16,155.17 145.22,155.00 145.28,154.82 145.34,154.61 145.40,154.37 145.46,154.10 145.52,153.80 145.58,153.46 145.64,153.07 145.70,152.62 145.75,152.09 145.81,151.49 145.87,150.77 145.93,149.93 145.99,148.93 146.05,147.73 146.12,146.26 146.18,144.47 146.24,142.25 146.30,139.46 146.37,135.93 146.43,131.40 146.50,125.56 146.57,118.02 146.65,108.44 146.72,96.76 146.80,83.80 146.88,71.99 146.95,65.30 147.01,66.75 147.06,75.64 147.10,88.23 147.14,100.97 147.18,112.00 147.22,120.89 147.27,127.84 147.32,133.22 147.37,137.41 147.42,140.69 147.47,143.29 147.53,145.38 147.59,147.08 147.64,148.47 147.70,149.62 147.76,150.59 147.81,151.41 147.87,152.11 147.93,152.72 147.99,153.24 148.04,153.70 148.10,154.10 148.16,154.45 148.22,154.77 148.28,155.05 148.33,155.31 148.39,155.54 148.45,155.75 148.51,155.94 148.57,156.11 148.63,156.28 148.68,156.42 148.74,156.56 148.80,156.69 148.86,156.81 148.92,156.92 148.98,157.02 149.04,157.12 149.09,157.22 149.88,158.11 150.66,158.69 151.44,159.15 152.22,159.55 153.01,159.92 153.79,160.26 154.58,160.60 155.36,160.92 156.15,161.24 156.94,161.55 157.72,161.86 158.51,162.17 159.30,162.47 160.08,162.77 160.87,163.07 161.66,163.36 162.45,163.66 163.24,163.95 164.03,164.24 164.82,164.52 165.61,164.81 166.40,165.09 167.19,165.38 167.98,165.66 168.77,165.94 169.56,166.22 170.36,166.49 171.15,166.77 171.94,167.05 172.74,167.32 173.53,167.59 174.32,167.87 175.12,168.14 175.91,168.41 176.71,168.68 177.51,168.95 178.30,169.22 179.10,169.48 179.90,169.75 180.69,170.02 181.49,170.28 182.29,170.54 183.09,170.81 183.89,171.07 184.69,171.33 185.49,171.60 186.29,171.86 187.09,172.12 187.89,172.38 188.69,172.64 189.49,172.90 190.30,173.16 191.10,173.41 191.90,173.67 192.71,173.93 193.51,174.19 194.32,174.44 195.12,174.70 195.93,174.95 196.73,175.21 197.54,175.47 198.34,175.72 199.15,175.97 199.96,176.23 200.77,176.48 201.57,176.74 202.38,176.99 203.19,177.24 204.00,177.50 204.81,177.75 205.62,178.00 206.43,178.25 207.24,178.51 208.05,178.76 208.87,179.01 209.68,179.26 210.49,179.51 211.30,179.76 212.12,180.02 212.93,180.27 213.75,180.52 214.56,180.77 215.38,181.02 216.19,181.27 217.01,181.52 217.82,181.77 218.64,182.02 219.46,182.27 220.28,182.52 221.09,182.77 221.91,183.02 222.73,183.27 223.55,183.52 224.37,183.77" stroke="#3074c2" stroke-width="1.15" fill="none" stroke-linejoin="round"/><polyline points="82.30,147.84 82.86,148.01 83.43,148.18 84.00,148.35 84.56,148.52 85.13,148.69 85.70,148.86 86.26,149.03 86.83,149.20 87.40,149.37 87.97,149.54 88.53,149.71 89.10,149.88 89.67,150.05 90.24,150.22 90.81,150.39 91.37,150.56 91.94,150.73 92.51,150.90 93.08,151.07 93.65,151.24 94.22,151.41 94.79,151.58 95.36,151.76 95.93,151.93 96.50,152.10 97.07,152.27 97.64,152.44 98.22,152.61 98.79,152.78 99.36,152.95 99.93,153.13 100.50,153.30 101.08,153.47 101.65,153.64 102.22,153.81 102.79,153.98 103.37,154.15 103.94,154.33 104.51,154.49 105.09,154.66 105.66,154.82 106.24,154.96 106.81,155.07 107.38,155.12 107.96,155.10 108.53,154.94 109.10,154.61 109.67,154.06 110.23,153.26 110.80,152.20 111.36,150.94 111.92,149.59 112.49,148.29 113.05,147.23 113.62,146.58 114.20,146.46 114.78,146.77 115.36,147.11 115.94,147.49 116.53,147.91 117.11,148.36 117.69,148.84 118.28,149.35 118.86,149.88 119.44,150.42 120.03,150.97 120.61,151.54 121.19,152.10 121.78,152.66 122.36,153.22 122.95,153.77 123.53,154.30 124.11,154.82 124.70,155.32 125.28,155.80 125.87,156.26 126.45,156.71 127.04,157.13 127.62,157.53 128.20,157.91 128.79,158.27 129.37,158.61 129.96,158.93 130.54,159.24 131.13,159.53 131.71,159.81 132.30,160.07 132.88,160.32 133.47,160.56 134.05,160.78 134.64,160.98 135.22,161.18 135.81,161.35 136.39,161.50 136.98,161.62 137.57,161.70 138.15,161.71 138.74,161.62 139.13,161.44 139.19,161.40 139.25,161.36 139.31,161.31 139.37,161.26 139.42,161.21 139.48,161.14 139.54,161.07 139.60,161.00 139.66,160.91 139.72,160.82 139.78,160.72 139.84,160.60 139.89,160.47 139.95,160.33 140.01,160.17 140.07,159.99 140.13,159.78 140.19,159.55 140.25,159.29 140.30,158.99 140.36,158.65 140.42,158.26 140.48,157.80 140.54,157.27 140.60,156.65 140.66,155.92 140.72,155.04 140.77,153.99 140.83,152.71 140.89,151.14 140.95,149.19 141.01,146.75 141.07,143.65 141.12,139.69 141.18,134.57 141.24,127.97 141.30,119.58 141.36,109.36 141.42,98.03 141.48,87.72 141.53,81.89 141.60,83.15 141.66,90.91 141.72,101.92 141.78,113.06 141.84,122.72 141.90,130.51 141.95,136.60 142.01,141.33 142.07,145.01 142.13,147.89 142.19,150.18 142.25,152.01 142.31,153.50 142.37,154.73 142.43,155.75 142.48,156.60 142.54,157.32 142.60,157.94 142.66,158.47 142.72,158.93 142.78,159.34 142.84,159.69 142.90,160.01 142.95,160.29 143.01,160.54 143.07,160.77 143.13,160.97 143.19,161.16 143.25,161.33 143.31,161.48 143.37,161.63 143.43,161.76 143.48,161.88 143.54,162.00 143.60,162.11 143.66,162.21 143.72,162.30 143.78,162.39 143.84,162.47 144.62,163.29 145.41,163.83 146.19,164.27 146.98,164.65 147.77,165.00 148.56,165.34 149.34,165.66 150.13,165.98 150.92,166.29 151.71,166.60 152.50,166.90 153.29,167.20 154.08,167.50 154.87,167.79 155.66,168.09 156.45,168.38 157.24,168.67 158.03,168.95 158.82,169.24 159.62,169.52 160.41,169.81 161.20,170.09 162.00,170.37 162.79,170.65 163.58,170.92 164.38,171.20 165.17,171.48 165.97,171.75 166.77,172.02 167.56,172.30 168.36,172.57 169.16,172.84 169.95,173.11 170.75,173.38 171.55,173.65 172.35,173.91 173.15,174.18 173.95,174.45 174.75,174.71 175.55,174.98 176.35,175.24 177.15,175.51 177.95,175.77 178.75,176.03 179.56,176.29 180.36,176.56 181.16,176.82 181.97,177.08 182.77,177.34 183.58,177.60 184.38,177.86 185.19,178.12 185.99,178.37 186.80,178.63 187.60,178.89 188.41,179.15 189.22,179.40 190.03,179.66 190.83,179.92 191.64,180.17 192.45,180.43 193.26,180.69 194.07,180.94 194.88,181.20 195.69,181.45 196.50,181.71 197.31,181.96 198.13,182.22 198.94,182.47 199.75,182.72 200.56,182.98 201.38,183.23 202.19,183.48 203.01,183.74 203.82,183.99 204.64,184.24 205.45,184.50 206.27,184.75 207.08,185.00 207.90,185.25 208.72,185.51 209.54,185.76 210.35,186.01 211.17,186.26 211.99,186.52 212.81,186.77 213.63,187.02 214.45,187.27 215.27,187.52 216.09,187.78 216.92,188.03 217.74,188.28 218.56,188.53 219.38,188.78" stroke="#2c92d6" stroke-width="1.15" fill="none" stroke-linejoin="round"/><polyline points="76.80,152.46 77.37,152.63 77.93,152.80 78.50,152.97 79.07,153.14 79.64,153.32 80.21,153.49 80.77,153.66 81.34,153.83 81.91,154.00 82.48,154.18 83.05,154.35 83.62,154.52 84.19,154.69 84.76,154.86 85.33,155.04 85.90,155.21 86.47,155.38 87.04,155.55 87.62,155.72 88.19,155.90 88.76,156.07 89.33,156.24 89.90,156.41 90.47,156.59 91.05,156.76 91.62,156.93 92.19,157.11 92.77,157.28 93.34,157.45 93.91,157.63 94.49,157.80 95.06,157.97 95.63,158.15 96.21,158.32 96.78,158.49 97.36,158.67 97.93,158.84 98.51,159.01 99.08,159.18 99.66,159.35 100.24,159.51 100.81,159.65 101.39,159.77 101.96,159.83 102.54,159.82 103.11,159.68 103.68,159.37 104.25,158.86 104.82,158.10 105.38,157.11 105.94,155.92 106.51,154.64 107.07,153.42 107.64,152.42 108.21,151.81 108.79,151.71 109.37,152.01 109.95,152.35 110.54,152.72 111.12,153.13 111.71,153.57 112.29,154.04 112.88,154.53 113.46,155.04 114.05,155.57 114.64,156.10 115.22,156.65 115.81,157.20 116.39,157.74 116.98,158.28 117.57,158.81 118.15,159.33 118.74,159.84 119.33,160.32 119.91,160.79 120.50,161.24 121.09,161.67 121.67,162.08 122.26,162.48 122.84,162.85 123.43,163.20 124.02,163.54 124.60,163.86 125.19,164.16 125.78,164.45 126.36,164.73 126.95,164.99 127.54,165.24 128.13,165.48 128.71,165.70 129.30,165.92 129.89,166.11 130.48,166.30 131.06,166.46 131.65,166.60 132.24,166.70 132.83,166.74 133.42,166.69 133.81,166.56 133.87,166.53 133.93,166.49 133.98,166.46 134.04,166.41 134.10,166.37 134.16,166.32 134.22,166.26 134.28,166.19 134.34,166.12 134.40,166.04 134.45,165.95 134.51,165.86 134.57,165.75 134.63,165.62 134.69,165.48 134.75,165.33 134.81,165.15 134.87,164.95 134.92,164.72 134.98,164.46 135.04,164.17 135.10,163.82 135.16,163.42 135.21,162.96 135.27,162.41 135.33,161.77 135.39,160.99 135.44,160.07 135.50,158.94 135.56,157.55 135.61,155.83 135.67,153.68 135.72,150.94 135.77,147.44 135.83,142.91 135.87,137.09 135.92,129.68 135.96,120.67 136.00,110.68 136.05,101.60 136.10,96.46 136.16,97.58 136.23,104.42 136.31,114.12 136.39,123.95 136.46,132.48 136.53,139.37 136.60,144.76 136.67,148.94 136.73,152.19 136.80,154.75 136.86,156.77 136.92,158.40 136.98,159.72 137.04,160.81 137.10,161.71 137.16,162.47 137.22,163.11 137.28,163.66 137.34,164.13 137.40,164.54 137.46,164.90 137.52,165.22 137.58,165.50 137.64,165.75 137.70,165.98 137.76,166.18 137.82,166.36 137.88,166.53 137.94,166.68 138.00,166.82 138.06,166.95 138.12,167.07 138.17,167.19 138.23,167.29 138.29,167.39 138.35,167.48 138.41,167.56 138.47,167.64 138.53,167.72 139.32,168.47 140.11,168.98 140.90,169.40 141.69,169.77 142.47,170.11 143.26,170.44 144.06,170.75 144.85,171.06 145.64,171.37 146.43,171.67 147.22,171.97 148.01,172.26 148.81,172.56 149.60,172.85 150.39,173.13 151.19,173.42 151.98,173.71 152.77,173.99 153.57,174.27 154.36,174.55 155.16,174.83 155.96,175.11 156.75,175.39 157.55,175.67 158.35,175.94 159.14,176.22 159.94,176.49 160.74,176.76 161.54,177.04 162.34,177.31 163.14,177.58 163.94,177.85 164.74,178.12 165.54,178.38 166.34,178.65 167.14,178.92 167.94,179.18 168.75,179.45 169.55,179.72 170.35,179.98 171.16,180.24 171.96,180.51 172.76,180.77 173.57,181.03 174.37,181.30 175.18,181.56 175.99,181.82 176.79,182.08 177.60,182.34 178.41,182.60 179.21,182.86 180.02,183.12 180.83,183.38 181.64,183.64 182.45,183.89 183.26,184.15 184.07,184.41 184.88,184.67 185.69,184.93 186.50,185.18 187.31,185.44 188.13,185.70 188.94,185.95 189.75,186.21 190.57,186.47 191.38,186.72 192.19,186.98 193.01,187.23 193.82,187.49 194.64,187.74 195.46,188.00 196.27,188.25 197.09,188.51 197.91,188.76 198.72,189.02 199.54,189.27 200.36,189.53 201.18,189.78 202.00,190.04 202.82,190.29 203.64,190.54 204.46,190.80 205.28,191.05 206.10,191.31 206.92,191.56 207.75,191.81 208.57,192.07 209.39,192.32 210.22,192.58 211.04,192.83 211.87,193.08 212.69,193.34 213.52,193.59 214.34,193.84" stroke="#34b4e4" stroke-width="1.15" fill="none" stroke-linejoin="round"/><polyline points="71.24,157.12 71.81,157.30 72.38,157.47 72.95,157.64 73.52,157.82 74.09,157.99 74.66,158.16 75.23,158.34 75.80,158.51 76.37,158.68 76.94,158.86 77.52,159.03 78.09,159.21 78.66,159.38 79.23,159.55 79.80,159.73 80.38,159.90 80.95,160.08 81.52,160.25 82.09,160.42 82.67,160.60 83.24,160.77 83.81,160.95 84.39,161.12 84.96,161.30 85.54,161.47 86.11,161.64 86.69,161.82 87.26,161.99 87.84,162.17 88.41,162.34 88.99,162.52 89.56,162.69 90.14,162.87 90.71,163.04 91.29,163.22 91.87,163.39 92.44,163.57 93.02,163.74 93.60,163.92 94.18,164.08 94.75,164.25 95.33,164.39 95.91,164.51 96.49,164.58 97.06,164.58 97.64,164.46 98.21,164.18 98.78,163.70 99.35,162.99 99.91,162.05 100.48,160.93 101.04,159.73 101.60,158.57 102.17,157.63 102.74,157.06 103.32,156.97 103.91,157.27 104.49,157.60 105.08,157.97 105.66,158.36 106.25,158.79 106.84,159.25 107.43,159.73 108.01,160.22 108.60,160.74 109.19,161.26 109.78,161.79 110.37,162.32 110.96,162.85 111.55,163.37 112.13,163.89 112.72,164.39 113.31,164.88 113.90,165.36 114.49,165.82 115.08,166.26 115.67,166.68 116.26,167.08 116.84,167.46 117.43,167.83 118.02,168.18 118.61,168.51 119.20,168.82 119.79,169.12 120.38,169.41 120.96,169.69 121.55,169.95 122.14,170.20 122.73,170.44 123.32,170.67 123.91,170.89 124.50,171.09 125.09,171.28 125.68,171.46 126.27,171.61 126.86,171.73 127.45,171.80 128.04,171.79 128.43,171.70 128.49,171.68 128.55,171.65 128.61,171.62 128.67,171.59 128.73,171.55 128.79,171.51 128.85,171.46 128.90,171.41 128.96,171.35 129.02,171.28 129.08,171.21 129.14,171.13 129.20,171.03 129.26,170.93 129.32,170.81 129.37,170.68 129.43,170.53 129.49,170.36 129.55,170.16 129.61,169.94 129.67,169.68 129.72,169.38 129.78,169.04 129.84,168.63 129.90,168.16 129.95,167.59 130.01,166.92 130.07,166.11 130.12,165.12 130.18,163.91 130.23,162.41 130.28,160.52 130.33,158.13 130.38,155.06 130.42,151.10 130.47,146.00 130.50,139.52 130.53,131.63 130.56,122.90 130.59,114.97 130.64,110.49 130.70,111.47 130.78,117.44 130.87,125.93 130.96,134.53 131.05,142.00 131.13,148.03 131.20,152.76 131.28,156.42 131.35,159.28 131.41,161.52 131.48,163.30 131.54,164.73 131.61,165.89 131.67,166.85 131.73,167.65 131.79,168.31 131.85,168.88 131.91,169.36 131.97,169.78 132.03,170.14 132.10,170.46 132.16,170.74 132.22,170.99 132.28,171.21 132.34,171.41 132.39,171.60 132.45,171.76 132.51,171.91 132.57,172.04 132.63,172.17 132.69,172.29 132.75,172.39 132.81,172.49 132.87,172.59 132.93,172.68 132.99,172.76 133.05,172.84 133.11,172.91 133.17,172.98 133.96,173.67 134.75,174.15 135.54,174.55 136.34,174.90 137.13,175.24 137.92,175.55 138.72,175.87 139.51,176.17 140.30,176.47 141.10,176.77 141.89,177.06 142.69,177.35 143.48,177.64 144.28,177.93 145.07,178.21 145.87,178.50 146.67,178.78 147.46,179.06 148.26,179.34 149.06,179.62 149.86,179.90 150.66,180.17 151.46,180.45 152.26,180.72 153.06,181.00 153.86,181.27 154.66,181.54 155.46,181.81 156.26,182.08 157.06,182.35 157.86,182.62 158.67,182.89 159.47,183.16 160.27,183.43 161.08,183.70 161.88,183.96 162.69,184.23 163.49,184.49 164.30,184.76 165.10,185.02 165.91,185.29 166.72,185.55 167.52,185.81 168.33,186.08 169.14,186.34 169.95,186.60 170.76,186.86 171.57,187.12 172.38,187.38 173.19,187.65 174.00,187.91 174.81,188.17 175.62,188.43 176.43,188.68 177.24,188.94 178.06,189.20 178.87,189.46 179.68,189.72 180.50,189.98 181.31,190.24 182.13,190.50 182.94,190.75 183.76,191.01 184.57,191.27 185.39,191.53 186.20,191.78 187.02,192.04 187.84,192.30 188.66,192.55 189.48,192.81 190.30,193.07 191.11,193.32 191.93,193.58 192.75,193.84 193.58,194.09 194.40,194.35 195.22,194.61 196.04,194.86 196.86,195.12 197.68,195.37 198.51,195.63 199.33,195.89 200.16,196.14 200.98,196.40 201.80,196.65 202.63,196.91 203.46,197.16 204.28,197.42 205.11,197.68 205.94,197.93 206.76,198.19 207.59,198.44 208.42,198.70 209.25,198.96" stroke="#4ab2b0" stroke-width="1.15" fill="none" stroke-linejoin="round"/><polyline points="65.63,161.84 66.20,162.01 66.77,162.19 67.34,162.36 67.92,162.54 68.49,162.71 69.06,162.89 69.63,163.06 70.21,163.24 70.78,163.41 71.35,163.59 71.92,163.76 72.50,163.94 73.07,164.11 73.64,164.29 74.22,164.47 74.79,164.64 75.37,164.82 75.94,164.99 76.52,165.17 77.09,165.35 77.67,165.52 78.24,165.70 78.82,165.87 79.39,166.05 79.97,166.23 80.55,166.40 81.12,166.58 81.70,166.76 82.28,166.93 82.85,167.11 83.43,167.29 84.01,167.46 84.59,167.64 85.17,167.82 85.74,167.99 86.32,168.17 86.90,168.35 87.48,168.52 88.06,168.70 88.64,168.87 89.22,169.03 89.80,169.18 90.38,169.31 90.96,169.38 91.53,169.39 92.11,169.29 92.68,169.03 93.25,168.58 93.82,167.92 94.39,167.03 94.95,165.97 95.52,164.83 96.08,163.74 96.65,162.85 97.22,162.32 97.80,162.25 98.39,162.54 98.98,162.87 99.56,163.23 100.15,163.62 100.74,164.04 101.33,164.48 101.92,164.95 102.51,165.43 103.10,165.93 103.69,166.44 104.28,166.95 104.87,167.47 105.47,167.98 106.06,168.49 106.65,169.00 107.24,169.49 107.83,169.96 108.42,170.43 109.01,170.87 109.60,171.30 110.19,171.71 110.78,172.11 111.37,172.48 111.97,172.84 112.56,173.19 113.15,173.51 113.74,173.82 114.33,174.12 114.92,174.41 115.51,174.68 116.10,174.94 116.69,175.20 117.28,175.44 117.87,175.67 118.47,175.89 119.06,176.10 119.65,176.30 120.24,176.49 120.83,176.65 121.43,176.79 122.02,176.89 122.61,176.91 123.00,176.85 123.06,176.83 123.12,176.81 123.18,176.79 123.24,176.77 123.30,176.74 123.36,176.70 123.42,176.67 123.48,176.62 123.53,176.57 123.59,176.52 123.65,176.46 123.71,176.39 123.77,176.31 123.83,176.22 123.89,176.12 123.95,176.01 124.00,175.88 124.06,175.73 124.12,175.56 124.18,175.37 124.24,175.14 124.30,174.88 124.35,174.58 124.41,174.23 124.47,173.81 124.52,173.32 124.58,172.73 124.64,172.02 124.69,171.15 124.74,170.08 124.80,168.76 124.85,167.10 124.89,164.98 124.94,162.28 124.98,158.78 125.01,154.28 125.04,148.57 125.06,141.62 125.08,133.93 125.10,126.95 125.14,123.01 125.21,123.87 125.30,129.13 125.40,136.61 125.50,144.20 125.59,150.79 125.68,156.12 125.76,160.29 125.84,163.53 125.91,166.06 125.98,168.04 126.05,169.62 126.11,170.88 126.18,171.91 126.24,172.76 126.31,173.46 126.37,174.06 126.43,174.56 126.49,174.99 126.55,175.36 126.61,175.68 126.68,175.97 126.74,176.22 126.80,176.44 126.86,176.64 126.92,176.82 126.98,176.98 127.04,177.13 127.10,177.26 127.16,177.39 127.22,177.50 127.28,177.60 127.34,177.70 127.40,177.79 127.46,177.88 127.52,177.96 127.58,178.03 127.64,178.10 127.70,178.17 127.76,178.23 128.55,178.88 129.35,179.33 130.14,179.71 130.93,180.06 131.73,180.38 132.53,180.69 133.32,181.00 134.12,181.30 134.91,181.59 135.71,181.89 136.51,182.18 137.31,182.46 138.10,182.75 138.90,183.03 139.70,183.32 140.50,183.60 141.30,183.88 142.10,184.16 142.90,184.44 143.70,184.71 144.50,184.99 145.30,185.26 146.11,185.54 146.91,185.81 147.71,186.09 148.51,186.36 149.32,186.63 150.12,186.90 150.93,187.17 151.73,187.44 152.54,187.71 153.34,187.98 154.15,188.24 154.95,188.51 155.76,188.78 156.57,189.04 157.37,189.31 158.18,189.58 158.99,189.84 159.80,190.11 160.61,190.37 161.42,190.63 162.23,190.90 163.04,191.16 163.85,191.42 164.66,191.69 165.47,191.95 166.29,192.21 167.10,192.47 167.91,192.73 168.72,193.00 169.54,193.26 170.35,193.52 171.17,193.78 171.98,194.04 172.80,194.30 173.61,194.56 174.43,194.82 175.25,195.08 176.06,195.34 176.88,195.60 177.70,195.86 178.52,196.12 179.34,196.37 180.16,196.63 180.98,196.89 181.80,197.15 182.62,197.41 183.44,197.67 184.26,197.93 185.08,198.18 185.90,198.44 186.73,198.70 187.55,198.96 188.37,199.22 189.20,199.47 190.02,199.73 190.85,199.99 191.67,200.25 192.50,200.51 193.32,200.76 194.15,201.02 194.98,201.28 195.80,201.54 196.63,201.80 197.46,202.05 198.29,202.31 199.12,202.57 199.95,202.83 200.78,203.09 201.61,203.34 202.44,203.60 203.27,203.86 204.10,204.12" stroke="#50ad80" stroke-width="1.15" fill="none" stroke-linejoin="round"/><polyline points="59.96,166.60 60.54,166.77 61.11,166.95 61.68,167.13 62.26,167.30 62.83,167.48 63.40,167.66 63.98,167.83 64.55,168.01 65.13,168.19 65.70,168.37 66.28,168.54 66.85,168.72 67.43,168.90 68.00,169.07 68.58,169.25 69.15,169.43 69.73,169.61 70.31,169.79 70.88,169.96 71.46,170.14 72.04,170.32 72.61,170.50 73.19,170.67 73.77,170.85 74.35,171.03 74.93,171.21 75.50,171.39 76.08,171.57 76.66,171.74 77.24,171.92 77.82,172.10 78.40,172.28 78.98,172.46 79.56,172.64 80.14,172.82 80.72,172.99 81.30,173.17 81.88,173.35 82.46,173.53 83.04,173.70 83.63,173.87 84.21,174.02 84.79,174.15 85.37,174.23 85.95,174.25 86.53,174.16 87.10,173.92 87.67,173.51 88.24,172.88 88.81,172.05 89.37,171.05 89.94,169.97 90.50,168.93 91.07,168.10 91.65,167.60 92.23,167.54 92.82,167.83 93.41,168.15 94.00,168.50 94.59,168.88 95.18,169.29 95.77,169.73 96.36,170.18 96.95,170.66 97.55,171.14 98.14,171.64 98.73,172.14 99.33,172.64 99.92,173.14 100.51,173.64 101.11,174.13 101.70,174.61 102.29,175.08 102.89,175.53 103.48,175.96 104.07,176.39 104.66,176.79 105.26,177.18 105.85,177.55 106.44,177.90 107.04,178.24 107.63,178.56 108.22,178.87 108.81,179.17 109.41,179.45 110.00,179.72 110.59,179.99 111.19,180.24 111.78,180.49 112.37,180.72 112.97,180.95 113.56,181.17 114.15,181.38 114.75,181.58 115.34,181.76 115.94,181.92 116.53,182.06 117.12,182.14 117.52,182.14 117.58,182.14 117.64,182.13 117.70,182.12 117.76,182.11 117.82,182.10 117.88,182.08 117.94,182.06 117.99,182.04 118.05,182.01 118.11,181.98 118.17,181.94 118.23,181.90 118.29,181.85 118.35,181.79 118.41,181.73 118.47,181.65 118.53,181.57 118.58,181.47 118.64,181.36 118.70,181.23 118.76,181.08 118.82,180.90 118.88,180.69 118.93,180.45 118.99,180.16 119.05,179.82 119.10,179.41 119.16,178.91 119.21,178.31 119.27,177.56 119.32,176.64 119.37,175.47 119.42,173.99 119.47,172.09 119.51,169.64 119.54,166.48 119.58,162.47 119.60,157.60 119.62,152.22 119.65,147.34 119.69,144.59 119.75,145.20 119.84,148.89 119.93,154.13 120.03,159.46 120.13,164.09 120.21,167.84 120.29,170.78 120.37,173.07 120.44,174.86 120.51,176.26 120.58,177.38 120.64,178.28 120.71,179.01 120.77,179.61 120.83,180.12 120.90,180.54 120.96,180.90 121.02,181.21 121.08,181.48 121.14,181.71 121.20,181.92 121.27,182.10 121.33,182.27 121.39,182.41 121.45,182.55 121.51,182.67 121.57,182.78 121.63,182.88 121.69,182.97 121.75,183.06 121.81,183.14 121.87,183.21 121.93,183.28 121.99,183.35 122.05,183.41 122.11,183.47 122.17,183.53 122.23,183.58 122.29,183.63 123.09,184.17 123.88,184.58 124.68,184.93 125.48,185.25 126.28,185.57 127.07,185.87 127.87,186.17 128.67,186.46 129.47,186.75 130.27,187.04 131.07,187.33 131.87,187.61 132.67,187.89 133.47,188.17 134.27,188.46 135.08,188.73 135.88,189.01 136.68,189.29 137.48,189.57 138.29,189.84 139.09,190.12 139.90,190.39 140.70,190.67 141.51,190.94 142.31,191.21 143.12,191.48 143.92,191.75 144.73,192.02 145.54,192.29 146.34,192.56 147.15,192.83 147.96,193.10 148.77,193.37 149.58,193.63 150.39,193.90 151.20,194.17 152.01,194.43 152.82,194.70 153.63,194.97 154.44,195.23 155.25,195.50 156.07,195.76 156.88,196.03 157.69,196.29 158.51,196.55 159.32,196.82 160.14,197.08 160.95,197.34 161.77,197.61 162.58,197.87 163.40,198.13 164.22,198.39 165.03,198.66 165.85,198.92 166.67,199.18 167.49,199.44 168.30,199.70 169.12,199.96 169.94,200.22 170.76,200.49 171.58,200.75 172.41,201.01 173.23,201.27 174.05,201.53 174.87,201.79 175.69,202.05 176.52,202.31 177.34,202.57 178.16,202.83 178.99,203.09 179.81,203.35 180.64,203.61 181.46,203.87 182.29,204.13 183.12,204.39 183.94,204.65 184.77,204.91 185.60,205.17 186.43,205.43 187.25,205.69 188.08,205.95 188.91,206.21 189.74,206.47 190.57,206.73 191.40,206.99 192.24,207.25 193.07,207.51 193.90,207.77 194.73,208.03 195.57,208.29 196.40,208.55 197.23,208.81 198.07,209.07 198.90,209.33" stroke="#52ab5c" stroke-width="1.15" fill="none" stroke-linejoin="round"/><polyline points="54.24,171.40 54.81,171.58 55.39,171.76 55.96,171.94 56.54,172.12 57.11,172.30 57.69,172.48 58.27,172.65 58.84,172.83 59.42,173.01 59.99,173.19 60.57,173.37 61.15,173.55 61.73,173.73 62.30,173.91 62.88,174.09 63.46,174.27 64.04,174.45 64.61,174.63 65.19,174.81 65.77,174.98 66.35,175.16 66.93,175.34 67.51,175.52 68.09,175.70 68.67,175.88 69.25,176.06 69.83,176.24 70.41,176.42 70.99,176.60 71.57,176.78 72.15,176.97 72.73,177.15 73.32,177.33 73.90,177.51 74.48,177.69 75.06,177.87 75.64,178.05 76.23,178.23 76.81,178.41 77.39,178.58 77.98,178.75 78.56,178.91 79.14,179.04 79.72,179.13 80.31,179.15 80.88,179.08 81.46,178.86 82.04,178.47 82.61,177.88 83.17,177.09 83.74,176.15 84.30,175.12 84.87,174.14 85.44,173.35 86.01,172.88 86.60,172.84 87.19,173.12 87.78,173.44 88.37,173.79 88.96,174.16 89.56,174.56 90.15,174.99 90.74,175.43 91.34,175.90 91.93,176.37 92.53,176.86 93.12,177.35 93.72,177.84 94.32,178.33 94.91,178.81 95.51,179.29 96.10,179.76 96.70,180.22 97.29,180.66 97.89,181.09 98.48,181.50 99.08,181.90 99.67,182.28 100.27,182.64 100.86,182.99 101.46,183.32 102.05,183.64 102.65,183.95 103.24,184.24 103.84,184.53 104.43,184.80 105.03,185.06 105.63,185.32 106.22,185.57 106.82,185.81 107.41,186.04 108.01,186.26 108.60,186.48 109.20,186.69 109.80,186.89 110.39,187.07 110.99,187.23 111.58,187.36 111.98,187.40 112.04,187.40 112.10,187.41 112.16,187.41 112.22,187.40 112.28,187.40 112.34,187.39 112.40,187.39 112.46,187.38 112.52,187.36 112.58,187.35 112.64,187.33 112.69,187.30 112.75,187.27 112.81,187.24 112.87,187.20 112.93,187.15 112.99,187.10 113.05,187.04 113.11,186.96 113.17,186.88 113.23,186.77 113.28,186.65 113.34,186.51 113.40,186.34 113.46,186.14 113.52,185.91 113.57,185.62 113.63,185.27 113.68,184.84 113.74,184.31 113.79,183.66 113.84,182.83 113.89,181.77 113.94,180.42 113.99,178.67 114.03,176.41 114.06,173.55 114.09,170.08 114.11,166.24 114.14,162.77 114.18,160.81 114.25,161.25 114.33,163.89 114.43,167.64 114.52,171.45 114.61,174.77 114.69,177.46 114.77,179.57 114.85,181.21 114.92,182.50 114.99,183.51 115.05,184.32 115.12,184.97 115.18,185.50 115.25,185.94 115.31,186.31 115.37,186.62 115.43,186.88 115.50,187.11 115.56,187.31 115.62,187.49 115.68,187.64 115.74,187.78 115.80,187.90 115.86,188.01 115.92,188.11 115.98,188.21 116.04,188.29 116.10,188.37 116.16,188.44 116.22,188.51 116.28,188.57 116.34,188.63 116.40,188.69 116.46,188.74 116.52,188.80 116.58,188.84 116.64,188.89 116.70,188.93 116.76,188.98 117.57,189.44 118.37,189.81 119.17,190.15 119.97,190.46 120.77,190.76 121.57,191.06 122.37,191.35 123.17,191.64 123.97,191.93 124.77,192.22 125.58,192.50 126.38,192.78 127.18,193.06 127.99,193.34 128.79,193.62 129.60,193.90 130.40,194.18 131.21,194.45 132.01,194.73 132.82,195.00 133.63,195.28 134.43,195.55 135.24,195.83 136.05,196.10 136.86,196.37 137.66,196.64 138.47,196.91 139.28,197.18 140.09,197.45 140.90,197.72 141.71,197.99 142.53,198.26 143.34,198.53 144.15,198.80 144.96,199.07 145.77,199.33 146.59,199.60 147.40,199.87 148.21,200.13 149.03,200.40 149.84,200.66 150.66,200.93 151.48,201.20 152.29,201.46 153.11,201.73 153.93,201.99 154.74,202.26 155.56,202.52 156.38,202.78 157.20,203.05 158.02,203.31 158.84,203.57 159.66,203.84 160.48,204.10 161.30,204.37 162.12,204.63 162.94,204.89 163.76,205.15 164.58,205.42 165.41,205.68 166.23,205.94 167.06,206.20 167.88,206.47 168.70,206.73 169.53,206.99 170.35,207.25 171.18,207.52 172.01,207.78 172.83,208.04 173.66,208.30 174.49,208.57 175.32,208.83 176.15,209.09 176.97,209.35 177.80,209.61 178.63,209.88 179.46,210.14 180.29,210.40 181.13,210.66 181.96,210.92 182.79,211.19 183.62,211.45 184.46,211.71 185.29,211.97 186.12,212.24 186.96,212.50 187.79,212.76 188.63,213.02 189.46,213.29 190.30,213.55 191.13,213.81 191.97,214.07 192.81,214.34 193.65,214.60" stroke="#5aae52" stroke-width="1.15" fill="none" stroke-linejoin="round"/><polyline points="48.46,176.26 49.03,176.44 49.61,176.62 50.19,176.80 50.76,176.98 51.34,177.16 51.92,177.34 52.50,177.52 53.07,177.70 53.65,177.89 54.23,178.07 54.81,178.25 55.39,178.43 55.97,178.61 56.55,178.79 57.13,178.97 57.70,179.15 58.28,179.33 58.86,179.52 59.45,179.70 60.03,179.88 60.61,180.06 61.19,180.24 61.77,180.42 62.35,180.61 62.93,180.79 63.51,180.97 64.10,181.15 64.68,181.33 65.26,181.51 65.84,181.70 66.43,181.88 67.01,182.06 67.59,182.24 68.18,182.43 68.76,182.61 69.35,182.79 69.93,182.97 70.51,183.16 71.10,183.34 71.68,183.51 72.27,183.69 72.85,183.84 73.44,183.98 74.02,184.08 74.61,184.11 75.19,184.04 75.77,183.85 76.34,183.48 76.91,182.92 77.48,182.17 78.05,181.27 78.61,180.30 79.18,179.36 79.75,178.61 80.32,178.17 80.91,178.14 81.50,178.42 82.09,178.74 82.69,179.08 83.28,179.45 83.88,179.84 84.47,180.26 85.07,180.70 85.67,181.15 86.27,181.62 86.86,182.09 87.46,182.57 88.06,183.05 88.66,183.53 89.25,184.01 89.85,184.48 90.45,184.94 91.05,185.38 91.65,185.82 92.24,186.24 92.84,186.65 93.44,187.04 94.03,187.41 94.63,187.77 95.23,188.12 95.83,188.45 96.42,188.76 97.02,189.07 97.62,189.36 98.21,189.65 98.81,189.92 99.41,190.18 100.01,190.44 100.60,190.69 101.20,190.93 101.80,191.17 102.40,191.40 103.00,191.63 103.59,191.85 104.19,192.07 104.79,192.27 105.39,192.47 105.99,192.64 106.39,192.75 106.45,192.76 106.51,192.77 106.57,192.78 106.63,192.79 106.69,192.81 106.74,192.81 106.80,192.82 106.86,192.83 106.92,192.84 106.98,192.84 107.04,192.84 107.10,192.85 107.16,192.84 107.22,192.84 107.28,192.84 107.34,192.83 107.40,192.81 107.46,192.80 107.52,192.78 107.58,192.75 107.64,192.72 107.70,192.68 107.76,192.62 107.82,192.56 107.88,192.48 107.93,192.39 107.99,192.27 108.05,192.13 108.11,191.95 108.17,191.73 108.22,191.45 108.28,191.09 108.33,190.64 108.39,190.05 108.44,189.28 108.49,188.30 108.53,187.04 108.58,185.52 108.62,183.84 108.66,182.32 108.71,181.47 108.77,181.67 108.85,182.85 108.93,184.51 109.00,186.21 109.08,187.69 109.15,188.89 109.22,189.84 109.29,190.58 109.36,191.16 109.42,191.62 109.48,191.99 109.55,192.30 109.61,192.54 109.67,192.75 109.73,192.93 109.80,193.08 109.86,193.21 109.92,193.32 109.98,193.42 110.04,193.51 110.10,193.59 110.16,193.66 110.22,193.73 110.28,193.79 110.34,193.85 110.40,193.90 110.46,193.95 110.52,194.00 110.58,194.04 110.64,194.09 110.70,194.13 110.76,194.17 110.82,194.20 110.89,194.24 110.95,194.27 111.01,194.31 111.07,194.34 111.13,194.37 111.19,194.40 111.99,194.77 112.79,195.09 113.59,195.40 114.40,195.70 115.20,195.99 116.00,196.28 116.81,196.57 117.61,196.85 118.42,197.14 119.22,197.42 120.03,197.70 120.83,197.98 121.64,198.26 122.44,198.54 123.25,198.82 124.06,199.10 124.87,199.37 125.68,199.65 126.48,199.93 127.29,200.20 128.10,200.47 128.91,200.75 129.72,201.02 130.53,201.29 131.34,201.57 132.16,201.84 132.97,202.11 133.78,202.38 134.59,202.65 135.41,202.92 136.22,203.19 137.03,203.46 137.85,203.73 138.66,204.00 139.48,204.27 140.29,204.54 141.11,204.81 141.93,205.07 142.74,205.34 143.56,205.61 144.38,205.88 145.20,206.14 146.01,206.41 146.83,206.68 147.65,206.94 148.47,207.21 149.29,207.48 150.11,207.74 150.93,208.01 151.76,208.27 152.58,208.54 153.40,208.80 154.22,209.07 155.05,209.33 155.87,209.60 156.69,209.86 157.52,210.13 158.34,210.39 159.17,210.66 160.00,210.92 160.82,211.19 161.65,211.45 162.48,211.72 163.30,211.98 164.13,212.25 164.96,212.51 165.79,212.77 166.62,213.04 167.45,213.30 168.28,213.57 169.11,213.83 169.94,214.10 170.77,214.36 171.60,214.62 172.44,214.89 173.27,215.15 174.10,215.42 174.94,215.68 175.77,215.95 176.60,216.21 177.44,216.48 178.28,216.74 179.11,217.00 179.95,217.27 180.78,217.53 181.62,217.80 182.46,218.06 183.30,218.33 184.14,218.59 184.98,218.86 185.81,219.12 186.65,219.39 187.49,219.65 188.34,219.92" stroke="#68b450" stroke-width="1.15" fill="none" stroke-linejoin="round"/><polyline points="42.61,181.17 43.19,181.35 43.77,181.53 44.35,181.71 44.93,181.90 45.51,182.08 46.09,182.26 46.67,182.44 47.25,182.63 47.83,182.81 48.41,182.99 48.99,183.17 49.57,183.36 50.15,183.54 50.73,183.72 51.31,183.91 51.89,184.09 52.47,184.27 53.06,184.45 53.64,184.64 54.22,184.82 54.80,185.01 55.39,185.19 55.97,185.37 56.55,185.56 57.14,185.74 57.72,185.92 58.30,186.11 58.89,186.29 59.47,186.48 60.06,186.66 60.64,186.84 61.23,187.03 61.81,187.21 62.40,187.40 62.98,187.58 63.57,187.77 64.16,187.95 64.74,188.13 65.33,188.32 65.92,188.50 66.50,188.67 67.09,188.83 67.68,188.97 68.26,189.07 68.85,189.11 69.43,189.06 70.01,188.87 70.59,188.53 71.16,188.00 71.73,187.28 72.29,186.42 72.86,185.49 73.43,184.59 74.00,183.88 74.57,183.46 75.16,183.43 75.76,183.72 76.35,184.03 76.95,184.37 77.54,184.73 78.14,185.12 78.74,185.53 79.34,185.96 79.94,186.41 80.54,186.87 81.14,187.33 81.74,187.81 82.34,188.28 82.94,188.75 83.54,189.22 84.14,189.68 84.74,190.13 85.34,190.57 85.94,191.00 86.54,191.42 87.14,191.82 87.74,192.20 88.34,192.57 88.94,192.93 89.54,193.27 90.13,193.60 90.73,193.92 91.33,194.22 91.93,194.51 92.53,194.79 93.13,195.07 93.73,195.33 94.33,195.59 94.93,195.84 95.53,196.09 96.13,196.33 96.73,196.56 97.33,196.80 97.93,197.02 98.53,197.24 99.13,197.46 99.73,197.67 100.33,197.87 100.73,198.00 100.79,198.02 100.85,198.03 100.91,198.05 100.97,198.07 101.03,198.08 101.09,198.10 101.15,198.11 101.21,198.13 101.27,198.14 101.33,198.16 101.39,198.17 101.45,198.18 101.51,198.19 101.57,198.20 101.63,198.21 101.69,198.21 101.75,198.22 101.81,198.22 101.87,198.22 101.93,198.22 101.99,198.21 102.05,198.20 102.11,198.18 102.17,198.16 102.23,198.13 102.29,198.09 102.35,198.04 102.41,197.98 102.47,197.90 102.53,197.79 102.58,197.66 102.64,197.48 102.70,197.25 102.75,196.96 102.81,196.57 102.86,196.07 102.91,195.43 102.96,194.64 103.01,193.78 103.06,193.00 103.12,192.57 103.18,192.69 103.25,193.31 103.32,194.18 103.39,195.08 103.46,195.86 103.53,196.49 103.59,197.00 103.66,197.39 103.72,197.71 103.79,197.96 103.85,198.16 103.91,198.33 103.97,198.47 104.03,198.59 104.10,198.69 104.16,198.78 104.22,198.86 104.28,198.93 104.34,198.99 104.40,199.05 104.46,199.10 104.52,199.15 104.58,199.19 104.64,199.24 104.70,199.28 104.76,199.31 104.82,199.35 104.88,199.39 104.94,199.42 105.01,199.45 105.07,199.48 105.13,199.51 105.19,199.54 105.25,199.57 105.31,199.60 105.37,199.63 105.43,199.66 105.49,199.68 105.55,199.71 106.35,200.04 107.16,200.35 107.96,200.64 108.77,200.93 109.57,201.22 110.38,201.51 111.19,201.80 111.99,202.08 112.80,202.36 113.61,202.64 114.42,202.93 115.23,203.21 116.04,203.49 116.84,203.77 117.65,204.04 118.46,204.32 119.28,204.60 120.09,204.88 120.90,205.15 121.71,205.43 122.52,205.70 123.33,205.98 124.15,206.25 124.96,206.52 125.77,206.80 126.59,207.07 127.40,207.34 128.22,207.62 129.03,207.89 129.85,208.16 130.67,208.43 131.48,208.70 132.30,208.97 133.12,209.24 133.94,209.51 134.75,209.78 135.57,210.05 136.39,210.32 137.21,210.59 138.03,210.86 138.85,211.13 139.67,211.40 140.50,211.67 141.32,211.94 142.14,212.20 142.96,212.47 143.79,212.74 144.61,213.01 145.43,213.28 146.26,213.54 147.08,213.81 147.91,214.08 148.73,214.35 149.56,214.61 150.39,214.88 151.21,215.15 152.04,215.41 152.87,215.68 153.70,215.95 154.53,216.21 155.36,216.48 156.19,216.75 157.02,217.01 157.85,217.28 158.68,217.55 159.51,217.81 160.34,218.08 161.17,218.35 162.01,218.61 162.84,218.88 163.67,219.15 164.51,219.41 165.34,219.68 166.18,219.95 167.01,220.22 167.85,220.48 168.68,220.75 169.52,221.02 170.36,221.28 171.19,221.55 172.03,221.82 172.87,222.08 173.71,222.35 174.55,222.62 175.39,222.89 176.23,223.15 177.07,223.42 177.91,223.69 178.75,223.95 179.60,224.22 180.44,224.49 181.28,224.76 182.12,225.02 182.97,225.29" stroke="#84bd50" stroke-width="1.15" fill="none" stroke-linejoin="round"/><polyline points="36.71,186.12 37.29,186.31 37.87,186.49 38.45,186.68 39.03,186.86 39.62,187.04 40.20,187.23 40.78,187.41 41.36,187.60 41.94,187.78 42.52,187.97 43.11,188.15 43.69,188.34 44.27,188.52 44.85,188.70 45.44,188.89 46.02,189.07 46.60,189.26 47.19,189.45 47.77,189.63 48.36,189.82 48.94,190.00 49.53,190.19 50.11,190.37 50.70,190.56 51.28,190.74 51.87,190.93 52.45,191.11 53.04,191.30 53.63,191.49 54.21,191.67 54.80,191.86 55.39,192.04 55.97,192.23 56.56,192.42 57.15,192.60 57.74,192.79 58.32,192.98 58.91,193.16 59.50,193.35 60.09,193.53 60.68,193.70 61.27,193.87 61.86,194.01 62.44,194.12 63.03,194.16 63.61,194.12 64.19,193.94 64.77,193.61 65.35,193.10 65.92,192.42 66.48,191.58 67.05,190.68 67.61,189.82 68.19,189.13 68.77,188.73 69.36,188.71 69.95,188.99 70.55,189.30 71.15,189.64 71.75,190.00 72.35,190.39 72.95,190.80 73.55,191.22 74.15,191.66 74.75,192.12 75.35,192.58 75.95,193.04 76.56,193.51 77.16,193.98 77.76,194.44 78.36,194.90 78.97,195.34 79.57,195.78 80.17,196.20 80.77,196.61 81.38,197.01 81.98,197.39 82.58,197.76 83.18,198.12 83.78,198.46 84.38,198.78 84.99,199.10 85.59,199.40 86.19,199.69 86.79,199.97 87.39,200.25 87.99,200.51 88.59,200.77 89.20,201.03 89.80,201.27 90.40,201.52 91.00,201.76 91.60,201.99 92.21,202.22 92.81,202.45 93.41,202.67 94.01,202.90 94.62,203.11 95.02,203.25 95.08,203.27 95.14,203.29 95.20,203.31 95.26,203.33 95.32,203.35 95.38,203.37 95.44,203.39 95.50,203.41 95.56,203.43 95.62,203.45 95.68,203.47 95.74,203.48 95.80,203.50 95.86,203.52 95.92,203.54 95.98,203.55 96.04,203.57 96.10,203.58 96.16,203.59 96.22,203.60 96.28,203.61 96.34,203.62 96.40,203.63 96.46,203.63 96.52,203.63 96.58,203.63 96.64,203.62 96.70,203.61 96.76,203.59 96.82,203.55 96.88,203.51 96.94,203.45 97.00,203.37 97.06,203.25 97.12,203.10 97.17,202.90 97.23,202.65 97.29,202.33 97.34,201.98 97.40,201.66 97.45,201.49 97.52,201.56 97.58,201.83 97.65,202.21 97.71,202.60 97.78,202.94 97.84,203.22 97.90,203.45 97.97,203.63 98.03,203.78 98.09,203.89 98.15,203.99 98.21,204.08 98.28,204.15 98.34,204.21 98.40,204.27 98.46,204.32 98.52,204.36 98.58,204.40 98.64,204.44 98.70,204.48 98.76,204.51 98.82,204.55 98.88,204.58 98.94,204.61 99.00,204.64 99.06,204.67 99.13,204.70 99.19,204.72 99.25,204.75 99.31,204.78 99.37,204.80 99.43,204.83 99.49,204.85 99.55,204.88 99.61,204.90 99.67,204.93 99.73,204.95 99.79,204.98 99.85,205.00 100.66,205.31 101.47,205.60 102.27,205.89 103.08,206.18 103.89,206.47 104.70,206.76 105.51,207.04 106.32,207.33 107.13,207.61 107.94,207.89 108.75,208.17 109.56,208.46 110.37,208.74 111.19,209.02 112.00,209.30 112.81,209.58 113.62,209.85 114.44,210.13 115.25,210.41 116.07,210.69 116.88,210.96 117.70,211.24 118.51,211.51 119.33,211.79 120.15,212.07 120.96,212.34 121.78,212.61 122.60,212.89 123.42,213.16 124.24,213.44 125.06,213.71 125.88,213.98 126.70,214.25 127.52,214.53 128.34,214.80 129.16,215.07 129.98,215.34 130.80,215.61 131.62,215.89 132.45,216.16 133.27,216.43 134.10,216.70 134.92,216.97 135.74,217.24 136.57,217.51 137.40,217.78 138.22,218.05 139.05,218.32 139.87,218.59 140.70,218.86 141.53,219.13 142.36,219.40 143.19,219.67 144.02,219.94 144.85,220.21 145.68,220.48 146.51,220.75 147.34,221.02 148.17,221.29 149.00,221.56 149.83,221.82 150.66,222.09 151.50,222.36 152.33,222.63 153.16,222.90 154.00,223.17 154.83,223.44 155.67,223.71 156.51,223.98 157.34,224.25 158.18,224.52 159.01,224.79 159.85,225.06 160.69,225.32 161.53,225.59 162.37,225.86 163.21,226.13 164.05,226.40 164.89,226.67 165.73,226.94 166.57,227.21 167.41,227.48 168.25,227.75 169.09,228.02 169.94,228.29 170.78,228.56 171.62,228.83 172.47,229.10 173.31,229.37 174.16,229.64 175.00,229.91 175.85,230.18 176.70,230.45 177.54,230.72" stroke="#b4cc4c" stroke-width="1.15" fill="none" stroke-linejoin="round"/><polyline points="30.75,191.13 31.33,191.32 31.91,191.50 32.50,191.69 33.08,191.87 33.66,192.06 34.24,192.25 34.83,192.43 35.41,192.62 36.00,192.81 36.58,192.99 37.16,193.18 37.75,193.37 38.33,193.55 38.92,193.74 39.50,193.93 40.09,194.11 40.67,194.30 41.26,194.49 41.84,194.67 42.43,194.86 43.02,195.05 43.60,195.24 44.19,195.42 44.78,195.61 45.36,195.80 45.95,195.99 46.54,196.17 47.13,196.36 47.72,196.55 48.30,196.74 48.89,196.93 49.48,197.11 50.07,197.30 50.66,197.49 51.25,197.68 51.84,197.87 52.43,198.06 53.02,198.24 53.61,198.43 54.20,198.61 54.79,198.79 55.38,198.96 55.97,199.10 56.56,199.21 57.15,199.26 57.74,199.22 58.32,199.05 58.90,198.73 59.47,198.24 60.04,197.56 60.61,196.74 61.17,195.86 61.74,195.01 62.31,194.34 62.89,193.95 63.49,193.93 64.08,194.22 64.68,194.53 65.28,194.86 65.89,195.23 66.49,195.61 67.09,196.02 67.69,196.44 68.30,196.88 68.90,197.33 69.50,197.79 70.11,198.26 70.71,198.72 71.32,199.19 71.92,199.65 72.53,200.10 73.13,200.55 73.74,200.98 74.34,201.41 74.95,201.82 75.55,202.21 76.16,202.59 76.76,202.96 77.36,203.32 77.97,203.66 78.57,203.98 79.18,204.30 79.78,204.60 80.38,204.90 80.99,205.18 81.59,205.45 82.19,205.72 82.80,205.98 83.40,206.24 84.00,206.49 84.61,206.73 85.21,206.97 85.82,207.21 86.42,207.44 87.03,207.68 87.63,207.91 88.24,208.14 88.84,208.36 89.24,208.51 89.31,208.54 89.37,208.56 89.43,208.58 89.49,208.60 89.55,208.63 89.61,208.65 89.67,208.67 89.73,208.69 89.79,208.71 89.85,208.74 89.91,208.76 89.97,208.78 90.03,208.80 90.09,208.83 90.15,208.85 90.21,208.87 90.27,208.89 90.33,208.92 90.40,208.94 90.46,208.96 90.52,208.98 90.58,209.01 90.64,209.03 90.70,209.05 90.76,209.07 90.82,209.09 90.88,209.12 90.94,209.14 91.00,209.16 91.06,209.18 91.12,209.20 91.18,209.23 91.24,209.25 91.30,209.27 91.36,209.29 91.43,209.31 91.49,209.34 91.55,209.36 91.61,209.38 91.67,209.40 91.73,209.42 91.79,209.44 91.85,209.47 91.91,209.49 91.97,209.51 92.03,209.54 92.09,209.56 92.15,209.58 92.21,209.60 92.27,209.63 92.34,209.65 92.40,209.67 92.46,209.69 92.52,209.71 92.58,209.74 92.64,209.76 92.70,209.78 92.76,209.80 92.82,209.82 92.88,209.85 92.94,209.87 93.00,209.89 93.06,209.91 93.12,209.93 93.18,209.96 93.25,209.98 93.31,210.00 93.37,210.02 93.43,210.04 93.49,210.07 93.55,210.09 93.61,210.11 93.67,210.13 93.73,210.15 93.79,210.18 93.85,210.20 93.91,210.22 93.97,210.24 94.03,210.26 94.09,210.29 94.90,210.58 95.71,210.87 96.53,211.16 97.34,211.45 98.15,211.73 98.96,212.02 99.77,212.31 100.58,212.59 101.40,212.88 102.21,213.16 103.02,213.45 103.84,213.73 104.65,214.01 105.47,214.29 106.28,214.58 107.10,214.86 107.91,215.14 108.73,215.42 109.55,215.70 110.37,215.98 111.18,216.25 112.00,216.53 112.82,216.81 113.64,217.09 114.46,217.37 115.28,217.64 116.10,217.92 116.92,218.20 117.74,218.47 118.56,218.75 119.39,219.02 120.21,219.30 121.03,219.57 121.85,219.85 122.68,220.12 123.50,220.40 124.33,220.67 125.15,220.95 125.98,221.22 126.80,221.49 127.63,221.77 128.46,222.04 129.28,222.31 130.11,222.59 130.94,222.86 131.77,223.13 132.60,223.41 133.43,223.68 134.26,223.95 135.09,224.22 135.92,224.50 136.75,224.77 137.58,225.04 138.41,225.31 139.24,225.58 140.08,225.86 140.91,226.13 141.74,226.40 142.58,226.67 143.41,226.94 144.25,227.22 145.08,227.49 145.92,227.76 146.76,228.03 147.59,228.30 148.43,228.58 149.27,228.85 150.11,229.12 150.95,229.39 151.78,229.66 152.62,229.94 153.46,230.21 154.31,230.48 155.15,230.75 155.99,231.02 156.83,231.30 157.67,231.57 158.51,231.84 159.36,232.11 160.20,232.39 161.05,232.66 161.89,232.93 162.73,233.20 163.58,233.48 164.43,233.75 165.27,234.02 166.12,234.29 166.97,234.57 167.81,234.84 168.66,235.11 169.51,235.39 170.36,235.66 171.21,235.93 172.06,236.21" stroke="#e6dc3c" stroke-width="1.15" fill="none" stroke-linejoin="round"/><text x="29.8" y="216.1" font-family="Liberation Sans, sans-serif" font-size="9" fill="#222" text-anchor="middle">800</text><text x="49.9" y="223.1" font-family="Liberation Sans, sans-serif" font-size="9" fill="#222" text-anchor="middle">850</text><text x="69.8" y="229.6" font-family="Liberation Sans, sans-serif" font-size="9" fill="#222" text-anchor="middle">900</text><text x="90.1" y="235.9" font-family="Liberation Sans, sans-serif" font-size="9" fill="#222" text-anchor="middle">950</text><text x="111.1" y="242.9" font-family="Liberation Sans, sans-serif" font-size="9" fill="#222" text-anchor="middle">1000</text><text x="131.7" y="249.5" font-family="Liberation Sans, sans-serif" font-size="9" fill="#222" text-anchor="middle">1050</text><text x="152.7" y="256.5" font-family="Liberation Sans, sans-serif" font-size="9" fill="#222" text-anchor="middle">1100</text><text x="199.7" y="250.1" font-family="Liberation Sans, sans-serif" font-size="9" fill="#222" text-anchor="middle">2.25</text><text x="217.6" y="229.2" font-family="Liberation Sans, sans-serif" font-size="9" fill="#222" text-anchor="middle">2.5</text><text x="237.4" y="209.2" font-family="Liberation Sans, sans-serif" font-size="9" fill="#222" text-anchor="middle">2.75</text><text x="253.1" y="190.4" font-family="Liberation Sans, sans-serif" font-size="9" fill="#222" text-anchor="middle">3.0</text><text x="271.8" y="172.2" font-family="Liberation Sans, sans-serif" font-size="9" fill="#222" text-anchor="middle">3.25</text><text transform="translate(77,246) rotate(21.8) skewX(-10)" font-family="Liberation Sans, sans-serif" font-size="8" fill="#222" text-anchor="middle" dy="3">Wavelength (nm)</text><text transform="translate(251.6,218.2) rotate(-46.5) skewX(8)" font-family="Liberation Sans, sans-serif" font-size="8" fill="#222" text-anchor="middle" dy="3">Pump fluence (μJ/cm<tspan dy="-3" font-size="6">2</tspan><tspan dy="3"> per pulse)</tspan></text><text transform="translate(281.8,108.5) rotate(-90)" font-family="Liberation Sans, sans-serif" font-size="8.2" fill="#222" text-anchor="middle">Intensity a.u.</text><text x="-1.6" y="23.2" font-family="Liberation Sans, sans-serif" font-size="20.5" font-weight="bold" fill="#000">a</text></g><g><rect x="400.6" y="308.5" width="259.3" height="207.8" fill="none" stroke="#333" stroke-width="1.1"/><line x1="414.80" y1="516.3" x2="414.80" y2="520.3" stroke="#222" stroke-width="0.9"/><text x="414.8" y="535.8" font-family="Liberation Sans, sans-serif" font-size="12" text-anchor="middle" fill="#222">0.0</text><line x1="432.31" y1="516.3" x2="432.31" y2="518.8" stroke="#222" stroke-width="0.9"/><line x1="449.81" y1="516.3" x2="449.81" y2="520.3" stroke="#222" stroke-width="0.9"/><text x="449.8" y="535.8" font-family="Liberation Sans, sans-serif" font-size="12" text-anchor="middle" fill="#222">0.5</text><line x1="467.32" y1="516.3" x2="467.32" y2="518.8" stroke="#222" stroke-width="0.9"/><line x1="484.83" y1="516.3" x2="484.83" y2="520.3" stroke="#222" stroke-width="0.9"/><text x="484.8" y="535.8" font-family="Liberation Sans, sans-serif" font-size="12" text-anchor="middle" fill="#222">1.0</text><line x1="502.34" y1="516.3" x2="502.34" y2="518.8" stroke="#222" stroke-width="0.9"/><line x1="519.85" y1="516.3" x2="519.85" y2="520.3" stroke="#222" stroke-width="0.9"/><text x="519.8" y="535.8" font-family="Liberation Sans, sans-serif" font-size="12" text-anchor="middle" fill="#222">1.5</text><line x1="537.35" y1="516.3" x2="537.35" y2="518.8" stroke="#222" stroke-width="0.9"/><line x1="554.86" y1="516.3" x2="554.86" y2="520.3" stroke="#222" stroke-width="0.9"/><text x="554.9" y="535.8" font-family="Liberation Sans, sans-serif" font-size="12" text-anchor="middle" fill="#222">2.0</text><line x1="572.37" y1="516.3" x2="572.37" y2="518.8" stroke="#222" stroke-width="0.9"/><line x1="589.88" y1="516.3" x2="589.88" y2="520.3" stroke="#222" stroke-width="0.9"/><text x="589.9" y="535.8" font-family="Liberation Sans, sans-serif" font-size="12" text-anchor="middle" fill="#222">2.5</text><line x1="607.38" y1="516.3" x2="607.38" y2="518.8" stroke="#222" stroke-width="0.9"/><line x1="624.89" y1="516.3" x2="624.89" y2="520.3" stroke="#222" stroke-width="0.9"/><text x="624.9" y="535.8" font-family="Liberation Sans, sans-serif" font-size="12" text-anchor="middle" fill="#222">3.0</text><line x1="642.40" y1="516.3" x2="642.40" y2="518.8" stroke="#222" stroke-width="0.9"/><line x1="659.90" y1="516.3" x2="659.90" y2="520.3" stroke="#222" stroke-width="0.9"/><text x="659.9" y="535.8" font-family="Liberation Sans, sans-serif" font-size="12" text-anchor="middle" fill="#222">3.5</text><text x="530.6" y="553.6" font-family="Liberation Sans, sans-serif" font-size="12" text-anchor="middle" fill="#222">Time delay (ns)</text><line x1="396.6" y1="321.30" x2="400.6" y2="321.30" stroke="#222" stroke-width="0.9"/><text x="389.5" y="325.6" font-family="Liberation Sans, sans-serif" font-size="12" text-anchor="end" fill="#222">10<tspan dy="-5.2" font-size="8.6">0</tspan></text><line x1="398.6" y1="351.50" x2="400.6" y2="351.50" stroke="#222" stroke-width="0.8"/><line x1="398.6" y1="343.89" x2="400.6" y2="343.89" stroke="#222" stroke-width="0.8"/><line x1="398.6" y1="338.49" x2="400.6" y2="338.49" stroke="#222" stroke-width="0.8"/><line x1="398.6" y1="334.30" x2="400.6" y2="334.30" stroke="#222" stroke-width="0.8"/><line x1="398.6" y1="330.88" x2="400.6" y2="330.88" stroke="#222" stroke-width="0.8"/><line x1="398.6" y1="327.99" x2="400.6" y2="327.99" stroke="#222" stroke-width="0.8"/><line x1="398.6" y1="325.49" x2="400.6" y2="325.49" stroke="#222" stroke-width="0.8"/><line x1="398.6" y1="323.28" x2="400.6" y2="323.28" stroke="#222" stroke-width="0.8"/><line x1="396.6" y1="364.50" x2="400.6" y2="364.50" stroke="#222" stroke-width="0.9"/><text x="389.5" y="368.8" font-family="Liberation Sans, sans-serif" font-size="12" text-anchor="end" fill="#222">10<tspan dy="-5.2" font-size="8.6">-1</tspan></text><line x1="398.6" y1="394.70" x2="400.6" y2="394.70" stroke="#222" stroke-width="0.8"/><line x1="398.6" y1="387.09" x2="400.6" y2="387.09" stroke="#222" stroke-width="0.8"/><line x1="398.6" y1="381.69" x2="400.6" y2="381.69" stroke="#222" stroke-width="0.8"/><line x1="398.6" y1="377.50" x2="400.6" y2="377.50" stroke="#222" stroke-width="0.8"/><line x1="398.6" y1="374.08" x2="400.6" y2="374.08" stroke="#222" stroke-width="0.8"/><line x1="398.6" y1="371.19" x2="400.6" y2="371.19" stroke="#222" stroke-width="0.8"/><line x1="398.6" y1="368.69" x2="400.6" y2="368.69" stroke="#222" stroke-width="0.8"/><line x1="398.6" y1="366.48" x2="400.6" y2="366.48" stroke="#222" stroke-width="0.8"/><line x1="396.6" y1="407.70" x2="400.6" y2="407.70" stroke="#222" stroke-width="0.9"/><text x="389.5" y="412.0" font-family="Liberation Sans, sans-serif" font-size="12" text-anchor="end" fill="#222">10<tspan dy="-5.2" font-size="8.6">-2</tspan></text><line x1="398.6" y1="437.90" x2="400.6" y2="437.90" stroke="#222" stroke-width="0.8"/><line x1="398.6" y1="430.29" x2="400.6" y2="430.29" stroke="#222" stroke-width="0.8"/><line x1="398.6" y1="424.89" x2="400.6" y2="424.89" stroke="#222" stroke-width="0.8"/><line x1="398.6" y1="420.70" x2="400.6" y2="420.70" stroke="#222" stroke-width="0.8"/><line x1="398.6" y1="417.28" x2="400.6" y2="417.28" stroke="#222" stroke-width="0.8"/><line x1="398.6" y1="414.39" x2="400.6" y2="414.39" stroke="#222" stroke-width="0.8"/><line x1="398.6" y1="411.89" x2="400.6" y2="411.89" stroke="#222" stroke-width="0.8"/><line x1="398.6" y1="409.68" x2="400.6" y2="409.68" stroke="#222" stroke-width="0.8"/><line x1="396.6" y1="450.90" x2="400.6" y2="450.90" stroke="#222" stroke-width="0.9"/><text x="389.5" y="455.2" font-family="Liberation Sans, sans-serif" font-size="12" text-anchor="end" fill="#222">10<tspan dy="-5.2" font-size="8.6">-3</tspan></text><line x1="398.6" y1="481.10" x2="400.6" y2="481.10" stroke="#222" stroke-width="0.8"/><line x1="398.6" y1="473.49" x2="400.6" y2="473.49" stroke="#222" stroke-width="0.8"/><line x1="398.6" y1="468.09" x2="400.6" y2="468.09" stroke="#222" stroke-width="0.8"/><line x1="398.6" y1="463.90" x2="400.6" y2="463.90" stroke="#222" stroke-width="0.8"/><line x1="398.6" y1="460.48" x2="400.6" y2="460.48" stroke="#222" stroke-width="0.8"/><line x1="398.6" y1="457.59" x2="400.6" y2="457.59" stroke="#222" stroke-width="0.8"/><line x1="398.6" y1="455.09" x2="400.6" y2="455.09" stroke="#222" stroke-width="0.8"/><line x1="398.6" y1="452.88" x2="400.6" y2="452.88" stroke="#222" stroke-width="0.8"/><line x1="396.6" y1="494.10" x2="400.6" y2="494.10" stroke="#222" stroke-width="0.9"/><text x="389.5" y="498.4" font-family="Liberation Sans, sans-serif" font-size="12" text-anchor="end" fill="#222">10<tspan dy="-5.2" font-size="8.6">-4</tspan></text><line x1="398.6" y1="511.29" x2="400.6" y2="511.29" stroke="#222" stroke-width="0.8"/><line x1="398.6" y1="507.10" x2="400.6" y2="507.10" stroke="#222" stroke-width="0.8"/><line x1="398.6" y1="503.68" x2="400.6" y2="503.68" stroke="#222" stroke-width="0.8"/><line x1="398.6" y1="500.79" x2="400.6" y2="500.79" stroke="#222" stroke-width="0.8"/><line x1="398.6" y1="498.29" x2="400.6" y2="498.29" stroke="#222" stroke-width="0.8"/><line x1="398.6" y1="496.08" x2="400.6" y2="496.08" stroke="#222" stroke-width="0.8"/><line x1="398.6" y1="308.30" x2="400.6" y2="308.30" stroke="#222" stroke-width="0.8"/><text transform="translate(360.4,412) rotate(-90)" font-family="Liberation Sans, sans-serif" font-size="12" text-anchor="middle" fill="#222">Normalized counts</text><circle cx="414.9" cy="500.2" r="2.50" fill="url(#rd)"/><circle cx="416.2" cy="491.5" r="2.50" fill="url(#rd)"/><circle cx="418.3" cy="475.2" r="2.50" fill="url(#rd)"/><circle cx="420.2" cy="424.0" r="2.50" fill="url(#rd)"/><circle cx="421.5" cy="378.1" r="2.50" fill="url(#rd)"/><circle cx="424.0" cy="346.3" r="2.50" fill="url(#rd)"/><circle cx="427.6" cy="319.7" r="2.50" fill="url(#rd)"/><circle cx="430.2" cy="337.8" r="2.50" fill="url(#rd)"/><circle cx="431.6" cy="350.3" r="2.50" fill="url(#rd)"/><circle cx="433.8" cy="358.2" r="2.50" fill="url(#rd)"/><circle cx="435.9" cy="363.9" r="2.50" fill="url(#rd)"/><circle cx="438.1" cy="368.9" r="2.50" fill="url(#rd)"/><circle cx="440.2" cy="372.5" r="2.50" fill="url(#rd)"/><circle cx="442.4" cy="376.8" r="2.50" fill="url(#rd)"/><circle cx="444.8" cy="381.4" r="2.50" fill="url(#rd)"/><circle cx="447.0" cy="386.0" r="2.50" fill="url(#rd)"/><circle cx="449.1" cy="388.9" r="2.50" fill="url(#rd)"/><circle cx="451.3" cy="391.4" r="2.50" fill="url(#rd)"/><circle cx="453.4" cy="395.0" r="2.50" fill="url(#rd)"/><circle cx="455.6" cy="396.9" r="2.50" fill="url(#rd)"/><circle cx="457.7" cy="399.9" r="2.50" fill="url(#rd)"/><circle cx="459.9" cy="403.3" r="2.50" fill="url(#rd)"/><circle cx="462.0" cy="405.6" r="2.50" fill="url(#rd)"/><circle cx="464.2" cy="410.0" r="2.50" fill="url(#rd)"/><circle cx="466.3" cy="412.4" r="2.50" fill="url(#rd)"/><circle cx="468.5" cy="416.0" r="2.50" fill="url(#rd)"/><circle cx="470.6" cy="417.9" r="2.50" fill="url(#rd)"/><circle cx="472.8" cy="420.7" r="2.50" fill="url(#rd)"/><circle cx="474.9" cy="424.0" r="2.50" fill="url(#rd)"/><circle cx="477.1" cy="427.3" r="2.50" fill="url(#rd)"/><circle cx="479.2" cy="429.7" r="2.50" fill="url(#rd)"/><circle cx="482.5" cy="435.7" r="2.50" fill="url(#rd)"/><circle cx="485.7" cy="440.0" r="2.50" fill="url(#rd)"/><circle cx="487.5" cy="442.6" r="2.50" fill="url(#rd)"/><circle cx="490.0" cy="446.3" r="2.50" fill="url(#rd)"/><circle cx="492.6" cy="447.6" r="2.50" fill="url(#rd)"/><circle cx="495.7" cy="450.1" r="2.50" fill="url(#rd)"/><circle cx="495.1" cy="451.4" r="2.50" fill="url(#rd)"/><circle cx="498.8" cy="456.4" r="2.50" fill="url(#rd)"/><circle cx="502.0" cy="457.6" r="2.50" fill="url(#rd)"/><circle cx="503.9" cy="458.3" r="2.50" fill="url(#rd)"/><circle cx="505.8" cy="462.7" r="2.50" fill="url(#rd)"/><circle cx="509.5" cy="466.4" r="2.50" fill="url(#rd)"/><circle cx="512.0" cy="468.3" r="2.50" fill="url(#rd)"/><circle cx="515.2" cy="469.6" r="2.50" fill="url(#rd)"/><circle cx="518.9" cy="473.3" r="2.50" fill="url(#rd)"/><circle cx="517.7" cy="477.1" r="2.50" fill="url(#rd)"/><circle cx="522.1" cy="479.0" r="2.50" fill="url(#rd)"/><circle cx="525.2" cy="482.8" r="2.50" fill="url(#rd)"/><circle cx="529.0" cy="487.8" r="2.50" fill="url(#rd)"/><circle cx="532.8" cy="486.5" r="2.50" fill="url(#rd)"/><circle cx="535.3" cy="484.6" r="2.50" fill="url(#rd)"/><circle cx="530.9" cy="490.3" r="2.50" fill="url(#rd)"/><circle cx="539.0" cy="489.0" r="2.50" fill="url(#rd)"/><circle cx="542.8" cy="485.3" r="2.50" fill="url(#rd)"/><circle cx="545.3" cy="490.3" r="2.50" fill="url(#rd)"/><circle cx="544.0" cy="494.1" r="2.50" fill="url(#rd)"/><circle cx="537.2" cy="499.1" r="2.50" fill="url(#rd)"/><circle cx="541.9" cy="485.5" r="2.50" fill="url(#rd)"/><circle cx="543.9" cy="494.3" r="2.50" fill="url(#rd)"/><circle cx="546.4" cy="490.7" r="2.50" fill="url(#rd)"/><circle cx="548.0" cy="488.6" r="2.50" fill="url(#rd)"/><circle cx="550.4" cy="494.7" r="2.50" fill="url(#rd)"/><circle cx="552.5" cy="498.8" r="2.50" fill="url(#rd)"/><circle cx="554.5" cy="490.7" r="2.50" fill="url(#rd)"/><circle cx="556.6" cy="489.0" r="2.50" fill="url(#rd)"/><circle cx="558.6" cy="498.8" r="2.50" fill="url(#rd)"/><circle cx="560.7" cy="496.8" r="2.50" fill="url(#rd)"/><circle cx="563.1" cy="495.2" r="2.50" fill="url(#rd)"/><circle cx="565.8" cy="497.8" r="2.50" fill="url(#rd)"/><circle cx="567.2" cy="503.3" r="2.50" fill="url(#rd)"/><circle cx="569.9" cy="495.8" r="2.50" fill="url(#rd)"/><circle cx="570.9" cy="493.7" r="2.50" fill="url(#rd)"/><circle cx="572.9" cy="500.9" r="2.50" fill="url(#rd)"/><circle cx="575.0" cy="500.9" r="2.50" fill="url(#rd)"/><circle cx="576.0" cy="506.0" r="2.50" fill="url(#rd)"/><circle cx="577.4" cy="497.8" r="2.50" fill="url(#rd)"/><circle cx="579.0" cy="502.5" r="2.50" fill="url(#rd)"/><circle cx="581.1" cy="520.9" r="2.50" fill="url(#rd)"/><circle cx="583.1" cy="518.2" r="2.50" fill="url(#rd)"/><circle cx="585.2" cy="502.5" r="2.50" fill="url(#rd)"/><circle cx="587.6" cy="501.3" r="2.50" fill="url(#rd)"/><circle cx="589.7" cy="506.6" r="2.50" fill="url(#rd)"/><circle cx="591.7" cy="494.7" r="2.50" fill="url(#rd)"/><circle cx="593.8" cy="503.3" r="2.50" fill="url(#rd)"/><circle cx="595.4" cy="503.3" r="2.50" fill="url(#rd)"/><circle cx="597.0" cy="498.8" r="2.50" fill="url(#rd)"/><circle cx="599.1" cy="515.2" r="2.50" fill="url(#rd)"/><circle cx="600.5" cy="499.9" r="2.50" fill="url(#rd)"/><circle cx="601.5" cy="508.0" r="2.50" fill="url(#rd)"/><circle cx="604.0" cy="508.0" r="2.50" fill="url(#rd)"/><circle cx="605.6" cy="497.8" r="2.50" fill="url(#rd)"/><circle cx="607.3" cy="494.7" r="2.50" fill="url(#rd)"/><circle cx="609.3" cy="503.3" r="2.50" fill="url(#rd)"/><circle cx="611.3" cy="511.1" r="2.50" fill="url(#rd)"/><circle cx="612.8" cy="497.8" r="2.50" fill="url(#rd)"/><circle cx="614.2" cy="520.9" r="2.50" fill="url(#rd)"/><circle cx="615.8" cy="508.0" r="2.50" fill="url(#rd)"/><circle cx="617.9" cy="507.0" r="2.50" fill="url(#rd)"/><circle cx="619.9" cy="500.9" r="2.50" fill="url(#rd)"/><circle cx="622.0" cy="499.9" r="2.50" fill="url(#rd)"/><circle cx="623.6" cy="494.7" r="2.50" fill="url(#rd)"/><circle cx="626.5" cy="492.3" r="2.50" fill="url(#rd)"/><circle cx="628.5" cy="497.8" r="2.50" fill="url(#rd)"/><circle cx="630.1" cy="504.6" r="2.50" fill="url(#rd)"/><circle cx="631.8" cy="509.1" r="2.50" fill="url(#rd)"/><circle cx="633.8" cy="513.1" r="2.50" fill="url(#rd)"/><circle cx="635.3" cy="497.2" r="2.50" fill="url(#rd)"/><circle cx="637.3" cy="504.6" r="2.50" fill="url(#rd)"/><circle cx="640.4" cy="513.1" r="2.50" fill="url(#rd)"/><circle cx="641.4" cy="501.9" r="2.50" fill="url(#rd)"/><circle cx="643.4" cy="499.9" r="2.50" fill="url(#rd)"/><circle cx="645.5" cy="498.4" r="2.50" fill="url(#rd)"/><circle cx="647.5" cy="494.7" r="2.50" fill="url(#rd)"/><circle cx="649.6" cy="499.9" r="2.50" fill="url(#rd)"/><circle cx="651.0" cy="506.6" r="2.50" fill="url(#rd)"/><circle cx="652.6" cy="515.2" r="2.50" fill="url(#rd)"/><circle cx="655.1" cy="502.9" r="2.50" fill="url(#rd)"/><circle cx="657.1" cy="504.6" r="2.50" fill="url(#rd)"/><circle cx="658.3" cy="493.7" r="2.50" fill="url(#rd)"/><circle cx="660.4" cy="496.4" r="2.50" fill="url(#rd)"/><circle cx="414.4" cy="445.0" r="2.50" fill="url(#gr)"/><circle cx="416.2" cy="433.1" r="2.50" fill="url(#gr)"/><circle cx="418.1" cy="391.5" r="2.50" fill="url(#gr)"/><circle cx="419.8" cy="363.5" r="2.50" fill="url(#gr)"/><circle cx="421.5" cy="342.6" r="2.50" fill="url(#gr)"/><circle cx="424.4" cy="327.7" r="2.50" fill="url(#gr)"/><circle cx="426.5" cy="322.0" r="2.50" fill="url(#gr)"/><circle cx="428.6" cy="320.6" r="2.50" fill="url(#gr)"/><circle cx="430.8" cy="321.1" r="2.50" fill="url(#gr)"/><circle cx="432.9" cy="320.7" r="2.50" fill="url(#gr)"/><circle cx="435.1" cy="320.5" r="2.50" fill="url(#gr)"/><circle cx="437.2" cy="320.7" r="2.50" fill="url(#gr)"/><circle cx="439.4" cy="320.8" r="2.50" fill="url(#gr)"/><circle cx="441.5" cy="321.7" r="2.50" fill="url(#gr)"/><circle cx="443.7" cy="322.0" r="2.50" fill="url(#gr)"/><circle cx="445.8" cy="323.5" r="2.50" fill="url(#gr)"/><circle cx="448.0" cy="323.2" r="2.50" fill="url(#gr)"/><circle cx="450.1" cy="323.5" r="2.50" fill="url(#gr)"/><circle cx="452.3" cy="324.1" r="2.50" fill="url(#gr)"/><circle cx="454.4" cy="324.5" r="2.50" fill="url(#gr)"/><circle cx="456.6" cy="325.0" r="2.50" fill="url(#gr)"/><circle cx="458.7" cy="325.7" r="2.50" fill="url(#gr)"/><circle cx="460.9" cy="326.4" r="2.50" fill="url(#gr)"/><circle cx="463.0" cy="326.8" r="2.50" fill="url(#gr)"/><circle cx="465.2" cy="327.7" r="2.50" fill="url(#gr)"/><circle cx="467.3" cy="328.0" r="2.50" fill="url(#gr)"/><circle cx="469.5" cy="328.7" r="2.50" fill="url(#gr)"/><circle cx="471.6" cy="329.8" r="2.50" fill="url(#gr)"/><circle cx="473.8" cy="330.1" r="2.50" fill="url(#gr)"/><circle cx="475.9" cy="330.5" r="2.50" fill="url(#gr)"/><circle cx="478.1" cy="331.3" r="2.50" fill="url(#gr)"/><circle cx="480.2" cy="332.2" r="2.50" fill="url(#gr)"/><circle cx="482.4" cy="333.3" r="2.50" fill="url(#gr)"/><circle cx="484.5" cy="333.5" r="2.50" fill="url(#gr)"/><circle cx="486.7" cy="334.2" r="2.50" fill="url(#gr)"/><circle cx="488.8" cy="335.3" r="2.50" fill="url(#gr)"/><circle cx="491.0" cy="335.6" r="2.50" fill="url(#gr)"/><circle cx="493.1" cy="336.5" r="2.50" fill="url(#gr)"/><circle cx="495.3" cy="337.4" r="2.50" fill="url(#gr)"/><circle cx="497.4" cy="338.0" r="2.50" fill="url(#gr)"/><circle cx="499.6" cy="338.6" r="2.50" fill="url(#gr)"/><circle cx="501.7" cy="339.4" r="2.50" fill="url(#gr)"/><circle cx="503.9" cy="339.2" r="2.50" fill="url(#gr)"/><circle cx="506.0" cy="340.8" r="2.50" fill="url(#gr)"/><circle cx="508.2" cy="341.0" r="2.50" fill="url(#gr)"/><circle cx="510.3" cy="341.5" r="2.50" fill="url(#gr)"/><circle cx="512.5" cy="342.6" r="2.50" fill="url(#gr)"/><circle cx="514.6" cy="343.4" r="2.50" fill="url(#gr)"/><circle cx="516.8" cy="343.9" r="2.50" fill="url(#gr)"/><circle cx="518.9" cy="344.4" r="2.50" fill="url(#gr)"/><circle cx="521.1" cy="345.5" r="2.50" fill="url(#gr)"/><circle cx="523.2" cy="346.6" r="2.50" fill="url(#gr)"/><circle cx="525.4" cy="348.0" r="2.50" fill="url(#gr)"/><circle cx="527.5" cy="348.8" r="2.50" fill="url(#gr)"/><circle cx="529.7" cy="349.7" r="2.50" fill="url(#gr)"/><circle cx="531.8" cy="351.0" r="2.50" fill="url(#gr)"/><circle cx="534.0" cy="351.7" r="2.50" fill="url(#gr)"/><circle cx="536.1" cy="352.5" r="2.50" fill="url(#gr)"/><circle cx="538.3" cy="354.0" r="2.50" fill="url(#gr)"/><circle cx="540.4" cy="355.0" r="2.50" fill="url(#gr)"/><circle cx="542.6" cy="355.9" r="2.50" fill="url(#gr)"/><circle cx="544.7" cy="356.8" r="2.50" fill="url(#gr)"/><circle cx="546.9" cy="358.1" r="2.50" fill="url(#gr)"/><circle cx="549.0" cy="358.5" r="2.50" fill="url(#gr)"/><circle cx="551.2" cy="360.4" r="2.50" fill="url(#gr)"/><circle cx="553.3" cy="361.5" r="2.50" fill="url(#gr)"/><circle cx="555.5" cy="362.0" r="2.50" fill="url(#gr)"/><circle cx="557.6" cy="363.5" r="2.50" fill="url(#gr)"/><circle cx="559.8" cy="364.4" r="2.50" fill="url(#gr)"/><circle cx="561.9" cy="365.7" r="2.50" fill="url(#gr)"/><circle cx="564.1" cy="365.8" r="2.50" fill="url(#gr)"/><circle cx="566.2" cy="367.0" r="2.50" fill="url(#gr)"/><circle cx="568.4" cy="368.2" r="2.50" fill="url(#gr)"/><circle cx="570.5" cy="369.2" r="2.50" fill="url(#gr)"/><circle cx="572.7" cy="369.3" r="2.50" fill="url(#gr)"/><circle cx="574.8" cy="370.5" r="2.50" fill="url(#gr)"/><circle cx="577.0" cy="371.6" r="2.50" fill="url(#gr)"/><circle cx="579.1" cy="372.2" r="2.50" fill="url(#gr)"/><circle cx="581.3" cy="373.6" r="2.50" fill="url(#gr)"/><circle cx="583.4" cy="373.6" r="2.50" fill="url(#gr)"/><circle cx="585.6" cy="374.7" r="2.50" fill="url(#gr)"/><circle cx="587.7" cy="375.1" r="2.50" fill="url(#gr)"/><circle cx="589.9" cy="376.5" r="2.50" fill="url(#gr)"/><circle cx="592.0" cy="376.9" r="2.50" fill="url(#gr)"/><circle cx="594.2" cy="377.2" r="2.50" fill="url(#gr)"/><circle cx="596.3" cy="376.5" r="2.50" fill="url(#gr)"/><circle cx="598.5" cy="381.0" r="2.50" fill="url(#gr)"/><circle cx="600.6" cy="380.7" r="2.50" fill="url(#gr)"/><circle cx="602.8" cy="381.3" r="2.50" fill="url(#gr)"/><circle cx="604.9" cy="382.3" r="2.50" fill="url(#gr)"/><circle cx="607.1" cy="382.1" r="2.50" fill="url(#gr)"/><circle cx="609.2" cy="381.6" r="2.50" fill="url(#gr)"/><circle cx="611.4" cy="382.3" r="2.50" fill="url(#gr)"/><circle cx="613.5" cy="383.4" r="2.50" fill="url(#gr)"/><circle cx="615.7" cy="386.8" r="2.50" fill="url(#gr)"/><circle cx="617.8" cy="384.7" r="2.50" fill="url(#gr)"/><circle cx="620.0" cy="386.5" r="2.50" fill="url(#gr)"/><circle cx="622.1" cy="387.3" r="2.50" fill="url(#gr)"/><circle cx="624.3" cy="388.4" r="2.50" fill="url(#gr)"/><circle cx="626.4" cy="389.3" r="2.50" fill="url(#gr)"/><circle cx="628.6" cy="387.8" r="2.50" fill="url(#gr)"/><circle cx="630.7" cy="387.8" r="2.50" fill="url(#gr)"/><circle cx="632.9" cy="390.4" r="2.50" fill="url(#gr)"/><circle cx="635.0" cy="392.4" r="2.50" fill="url(#gr)"/><circle cx="637.2" cy="392.6" r="2.50" fill="url(#gr)"/><circle cx="639.3" cy="393.0" r="2.50" fill="url(#gr)"/><circle cx="641.5" cy="395.4" r="2.50" fill="url(#gr)"/><circle cx="643.6" cy="398.2" r="2.50" fill="url(#gr)"/><circle cx="645.8" cy="397.7" r="2.50" fill="url(#gr)"/><circle cx="647.9" cy="399.0" r="2.50" fill="url(#gr)"/><circle cx="650.1" cy="397.3" r="2.50" fill="url(#gr)"/><circle cx="652.2" cy="398.4" r="2.50" fill="url(#gr)"/><circle cx="654.4" cy="398.3" r="2.50" fill="url(#gr)"/><circle cx="656.5" cy="399.1" r="2.50" fill="url(#gr)"/><circle cx="658.7" cy="402.1" r="2.50" fill="url(#gr)"/><circle cx="414.9" cy="427.7" r="2.50" fill="url(#pu)"/><circle cx="416.2" cy="431.0" r="2.50" fill="url(#pu)"/><circle cx="418.0" cy="420.4" r="2.50" fill="url(#pu)"/><circle cx="419.8" cy="374.2" r="2.50" fill="url(#pu)"/><circle cx="421.5" cy="347.9" r="2.50" fill="url(#pu)"/><circle cx="423.1" cy="332.9" r="2.50" fill="url(#pu)"/><circle cx="426.0" cy="323.7" r="2.50" fill="url(#pu)"/><circle cx="427.9" cy="322.4" r="2.50" fill="url(#pu)"/><circle cx="430.0" cy="323.1" r="2.50" fill="url(#pu)"/><circle cx="432.2" cy="324.1" r="2.50" fill="url(#pu)"/><circle cx="434.3" cy="324.1" r="2.50" fill="url(#pu)"/><circle cx="436.5" cy="325.8" r="2.50" fill="url(#pu)"/><circle cx="438.6" cy="327.1" r="2.50" fill="url(#pu)"/><circle cx="440.8" cy="328.7" r="2.50" fill="url(#pu)"/><circle cx="442.9" cy="329.1" r="2.50" fill="url(#pu)"/><circle cx="445.1" cy="331.5" r="2.50" fill="url(#pu)"/><circle cx="447.2" cy="332.7" r="2.50" fill="url(#pu)"/><circle cx="449.4" cy="333.3" r="2.50" fill="url(#pu)"/><circle cx="451.5" cy="334.6" r="2.50" fill="url(#pu)"/><circle cx="453.7" cy="335.8" r="2.50" fill="url(#pu)"/><circle cx="455.8" cy="337.3" r="2.50" fill="url(#pu)"/><circle cx="458.0" cy="338.6" r="2.50" fill="url(#pu)"/><circle cx="460.1" cy="340.2" r="2.50" fill="url(#pu)"/><circle cx="462.3" cy="340.7" r="2.50" fill="url(#pu)"/><circle cx="464.4" cy="342.2" r="2.50" fill="url(#pu)"/><circle cx="466.6" cy="343.2" r="2.50" fill="url(#pu)"/><circle cx="468.7" cy="344.8" r="2.50" fill="url(#pu)"/><circle cx="470.9" cy="345.7" r="2.50" fill="url(#pu)"/><circle cx="473.0" cy="347.0" r="2.50" fill="url(#pu)"/><circle cx="475.2" cy="347.4" r="2.50" fill="url(#pu)"/><circle cx="477.3" cy="348.9" r="2.50" fill="url(#pu)"/><circle cx="479.5" cy="349.9" r="2.50" fill="url(#pu)"/><circle cx="481.6" cy="351.8" r="2.50" fill="url(#pu)"/><circle cx="483.8" cy="352.8" r="2.50" fill="url(#pu)"/><circle cx="485.9" cy="353.7" r="2.50" fill="url(#pu)"/><circle cx="488.1" cy="354.9" r="2.50" fill="url(#pu)"/><circle cx="490.2" cy="356.4" r="2.50" fill="url(#pu)"/><circle cx="492.4" cy="357.2" r="2.50" fill="url(#pu)"/><circle cx="494.5" cy="358.4" r="2.50" fill="url(#pu)"/><circle cx="496.7" cy="360.1" r="2.50" fill="url(#pu)"/><circle cx="498.8" cy="361.9" r="2.50" fill="url(#pu)"/><circle cx="501.0" cy="362.4" r="2.50" fill="url(#pu)"/><circle cx="503.1" cy="363.5" r="2.50" fill="url(#pu)"/><circle cx="505.3" cy="364.6" r="2.50" fill="url(#pu)"/><circle cx="507.4" cy="365.8" r="2.50" fill="url(#pu)"/><circle cx="509.6" cy="367.4" r="2.50" fill="url(#pu)"/><circle cx="511.7" cy="368.5" r="2.50" fill="url(#pu)"/><circle cx="513.9" cy="369.2" r="2.50" fill="url(#pu)"/><circle cx="516.0" cy="370.3" r="2.50" fill="url(#pu)"/><circle cx="518.2" cy="371.2" r="2.50" fill="url(#pu)"/><circle cx="520.3" cy="372.4" r="2.50" fill="url(#pu)"/><circle cx="522.5" cy="371.4" r="2.50" fill="url(#pu)"/><circle cx="524.6" cy="374.1" r="2.50" fill="url(#pu)"/><circle cx="526.8" cy="376.2" r="2.50" fill="url(#pu)"/><circle cx="528.9" cy="376.2" r="2.50" fill="url(#pu)"/><circle cx="531.1" cy="378.0" r="2.50" fill="url(#pu)"/><circle cx="533.2" cy="378.8" r="2.50" fill="url(#pu)"/><circle cx="535.4" cy="380.7" r="2.50" fill="url(#pu)"/><circle cx="537.5" cy="383.7" r="2.50" fill="url(#pu)"/><circle cx="539.7" cy="383.2" r="2.50" fill="url(#pu)"/><circle cx="541.8" cy="384.8" r="2.50" fill="url(#pu)"/><circle cx="544.0" cy="387.3" r="2.50" fill="url(#pu)"/><circle cx="546.1" cy="388.1" r="2.50" fill="url(#pu)"/><circle cx="548.3" cy="390.7" r="2.50" fill="url(#pu)"/><circle cx="550.4" cy="386.5" r="2.50" fill="url(#pu)"/><circle cx="552.6" cy="391.7" r="2.50" fill="url(#pu)"/><circle cx="554.7" cy="390.9" r="2.50" fill="url(#pu)"/><circle cx="556.9" cy="392.9" r="2.50" fill="url(#pu)"/><circle cx="559.0" cy="395.0" r="2.50" fill="url(#pu)"/><circle cx="560.0" cy="392.3" r="2.50" fill="url(#pu)"/><circle cx="563.0" cy="396.3" r="2.50" fill="url(#pu)"/><circle cx="565.9" cy="394.3" r="2.50" fill="url(#pu)"/><circle cx="567.9" cy="398.3" r="2.50" fill="url(#pu)"/><circle cx="570.9" cy="397.3" r="2.50" fill="url(#pu)"/><circle cx="572.8" cy="400.2" r="2.50" fill="url(#pu)"/><circle cx="575.8" cy="399.2" r="2.50" fill="url(#pu)"/><circle cx="578.8" cy="402.2" r="2.50" fill="url(#pu)"/><circle cx="580.7" cy="409.1" r="2.50" fill="url(#pu)"/><circle cx="583.3" cy="401.2" r="2.50" fill="url(#pu)"/><circle cx="584.7" cy="407.1" r="2.50" fill="url(#pu)"/><circle cx="586.7" cy="396.3" r="2.50" fill="url(#pu)"/><circle cx="589.2" cy="403.2" r="2.50" fill="url(#pu)"/><circle cx="589.6" cy="408.1" r="2.50" fill="url(#pu)"/><circle cx="592.6" cy="402.8" r="2.50" fill="url(#pu)"/><circle cx="594.6" cy="405.2" r="2.50" fill="url(#pu)"/><circle cx="596.5" cy="403.2" r="2.50" fill="url(#pu)"/><circle cx="598.5" cy="402.2" r="2.50" fill="url(#pu)"/><circle cx="600.5" cy="400.2" r="2.50" fill="url(#pu)"/><circle cx="602.5" cy="405.2" r="2.50" fill="url(#pu)"/><circle cx="604.4" cy="408.1" r="2.50" fill="url(#pu)"/><circle cx="605.8" cy="420.0" r="2.50" fill="url(#pu)"/><circle cx="607.4" cy="401.2" r="2.50" fill="url(#pu)"/><circle cx="610.4" cy="406.2" r="2.50" fill="url(#pu)"/><circle cx="612.9" cy="414.0" r="2.50" fill="url(#pu)"/><circle cx="613.3" cy="407.1" r="2.50" fill="url(#pu)"/><circle cx="616.3" cy="408.1" r="2.50" fill="url(#pu)"/><circle cx="618.3" cy="414.0" r="2.50" fill="url(#pu)"/><circle cx="619.2" cy="409.1" r="2.50" fill="url(#pu)"/><circle cx="623.2" cy="404.2" r="2.50" fill="url(#pu)"/><circle cx="625.2" cy="408.1" r="2.50" fill="url(#pu)"/><circle cx="628.1" cy="411.1" r="2.50" fill="url(#pu)"/><circle cx="630.1" cy="414.0" r="2.50" fill="url(#pu)"/><circle cx="632.1" cy="410.1" r="2.50" fill="url(#pu)"/><circle cx="635.0" cy="405.2" r="2.50" fill="url(#pu)"/><circle cx="636.6" cy="414.6" r="2.50" fill="url(#pu)"/><circle cx="639.0" cy="410.1" r="2.50" fill="url(#pu)"/><circle cx="641.0" cy="408.1" r="2.50" fill="url(#pu)"/><circle cx="644.3" cy="420.0" r="2.50" fill="url(#pu)"/><circle cx="644.9" cy="408.1" r="2.50" fill="url(#pu)"/><circle cx="646.9" cy="412.1" r="2.50" fill="url(#pu)"/><circle cx="649.9" cy="409.1" r="2.50" fill="url(#pu)"/><circle cx="651.2" cy="418.0" r="2.50" fill="url(#pu)"/><circle cx="652.8" cy="414.0" r="2.50" fill="url(#pu)"/><circle cx="655.8" cy="410.7" r="2.50" fill="url(#pu)"/><circle cx="658.1" cy="423.9" r="2.50" fill="url(#pu)"/><circle cx="659.7" cy="414.0" r="2.50" fill="url(#pu)"/><path d="M426.8,322.9 L437,367 L441.9,377.2 L460,403 L484.6,437.5" stroke="#2652a6" stroke-width="2" fill="none"/><circle cx="534.2" cy="313.6" r="2.3" fill="url(#gr)"/><text x="541.3" y="316.2" font-family="Liberation Sans, sans-serif" font-size="8.2" fill="#1a1a1a">InP below threshold</text><circle cx="534.2" cy="325.5" r="2.3" fill="url(#pu)"/><text x="541.3" y="328.1" font-family="Liberation Sans, sans-serif" font-size="8.2" fill="#1a1a1a">InGaAs QWs below threshold</text><circle cx="534.2" cy="337.3" r="2.3" fill="url(#rd)"/><text x="541.3" y="339.9" font-family="Liberation Sans, sans-serif" font-size="8.2" fill="#1a1a1a">Lasing peak above threshold</text><text x="501.6" y="332.7" font-family="Liberation Sans, sans-serif" font-size="8.1" text-anchor="middle" fill="#5aaa46">715 ps</text><text x="520" y="364.4" font-family="Liberation Sans, sans-serif" font-size="8.1" text-anchor="middle" fill="#9a50a0">444 ps</text><text x="417.9" y="360.3" font-family="Liberation Sans, sans-serif" font-size="8.1" text-anchor="middle" fill="#e8303c">35 ps</text><text x="445" y="423.7" font-family="Liberation Sans, sans-serif" font-size="8.1" text-anchor="middle" fill="#e8303c">168 ps</text><text x="618.8" y="378.1" font-family="Liberation Sans, sans-serif" font-size="8.1" text-anchor="middle" fill="#222">P1</text><text x="595.2" y="395.8" font-family="Liberation Sans, sans-serif" font-size="8.1" text-anchor="middle" fill="#222">P2</text><text x="533.1" y="476.0" font-family="Liberation Sans, sans-serif" font-size="8.1" text-anchor="middle" fill="#222">P3</text><text x="337.1" y="314.8" font-family="Liberation Sans, sans-serif" font-size="20" font-weight="bold" fill="#000">d</text></g></svg></body></html>
